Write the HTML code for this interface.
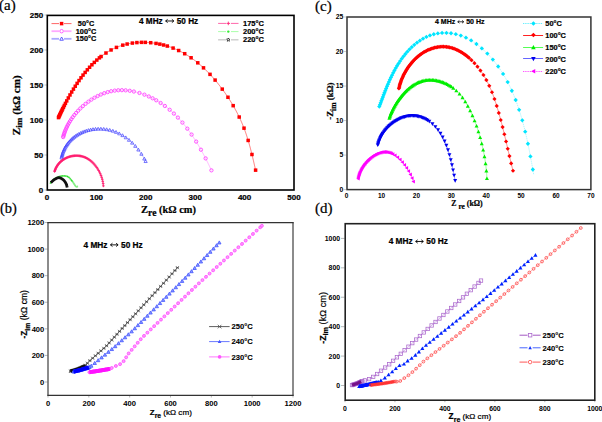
<!DOCTYPE html><html><head><meta charset="utf-8"><style>html,body{margin:0;padding:0;background:#fff;overflow:hidden}svg{display:block}text{stroke:#000;stroke-width:0.22px}text.ns{stroke:none}text.th{stroke-width:0.1px}</style></head><body><svg width="602" height="422" viewBox="0 0 602 422">
<rect width="602" height="422" fill="#fff"/>
<text x="-1.00" y="10.00" style="font-family:&quot;Liberation Serif&quot;,serif;font-size:15px;font-weight:normal" text-anchor="start" fill="#000" >(a)</text>
<text x="47.00" y="199.90" style="font-family:&quot;Liberation Sans&quot;,sans-serif;font-size:8.0px;font-weight:bold" text-anchor="middle" fill="#000" >0</text>
<text x="96.40" y="199.90" style="font-family:&quot;Liberation Sans&quot;,sans-serif;font-size:8.0px;font-weight:bold" text-anchor="middle" fill="#000" >100</text>
<text x="145.80" y="199.90" style="font-family:&quot;Liberation Sans&quot;,sans-serif;font-size:8.0px;font-weight:bold" text-anchor="middle" fill="#000" >200</text>
<text x="195.20" y="199.90" style="font-family:&quot;Liberation Sans&quot;,sans-serif;font-size:8.0px;font-weight:bold" text-anchor="middle" fill="#000" >300</text>
<text x="244.60" y="199.90" style="font-family:&quot;Liberation Sans&quot;,sans-serif;font-size:8.0px;font-weight:bold" text-anchor="middle" fill="#000" >400</text>
<text x="294.00" y="199.90" style="font-family:&quot;Liberation Sans&quot;,sans-serif;font-size:8.0px;font-weight:bold" text-anchor="middle" fill="#000" >500</text>
<text x="43.20" y="192.80" style="font-family:&quot;Liberation Sans&quot;,sans-serif;font-size:8.0px;font-weight:bold" text-anchor="end" fill="#000" >0</text>
<line x1="44.5" x2="47" y1="190.00" y2="190.00" stroke="#999" stroke-width="0.6"/>
<text x="43.20" y="157.80" style="font-family:&quot;Liberation Sans&quot;,sans-serif;font-size:8.0px;font-weight:bold" text-anchor="end" fill="#000" >50</text>
<line x1="44.5" x2="47" y1="155.00" y2="155.00" stroke="#999" stroke-width="0.6"/>
<text x="43.20" y="122.80" style="font-family:&quot;Liberation Sans&quot;,sans-serif;font-size:8.0px;font-weight:bold" text-anchor="end" fill="#000" >100</text>
<line x1="44.5" x2="47" y1="120.00" y2="120.00" stroke="#999" stroke-width="0.6"/>
<text x="43.20" y="87.80" style="font-family:&quot;Liberation Sans&quot;,sans-serif;font-size:8.0px;font-weight:bold" text-anchor="end" fill="#000" >150</text>
<line x1="44.5" x2="47" y1="85.00" y2="85.00" stroke="#999" stroke-width="0.6"/>
<text x="43.20" y="52.80" style="font-family:&quot;Liberation Sans&quot;,sans-serif;font-size:8.0px;font-weight:bold" text-anchor="end" fill="#000" >200</text>
<line x1="44.5" x2="47" y1="50.00" y2="50.00" stroke="#999" stroke-width="0.6"/>
<text x="43.20" y="17.80" style="font-family:&quot;Liberation Sans&quot;,sans-serif;font-size:8.0px;font-weight:bold" text-anchor="end" fill="#000" >250</text>
<line x1="44.5" x2="47" y1="15.00" y2="15.00" stroke="#999" stroke-width="0.6"/>
<text x="141.0" y="213.2" style="font-family:&quot;Liberation Serif&quot;,serif;font-size:10.6px;font-weight:bold">Z<tspan dy="2.4" style="font-size:9.6px">re</tspan><tspan dy="-2.4" style="font-size:10.4px"> (kΩ cm)</tspan></text>
<text transform="translate(19.6,135.2) rotate(-90)" style="font-family:&quot;Liberation Serif&quot;,serif;font-size:11.1px;font-weight:bold">Z<tspan dy="2.6" style="font-size:9.2px">im</tspan><tspan dy="-2.6"> (kΩ cm)</tspan></text>
<text x="139.00" y="23.70" style="font-family:&quot;Liberation Sans&quot;,sans-serif;font-size:8.2px;font-weight:bold">4 MHz</text>
<path d="M165.64,20.99H173.84M167.61,19.35L165.64,20.99L167.61,22.63M171.87,19.35L173.84,20.99L171.87,22.63" fill="none" stroke="#000" stroke-width="0.9019999999999999"/>
<text x="176.79" y="23.70" style="font-family:&quot;Liberation Sans&quot;,sans-serif;font-size:8.2px;font-weight:bold">50 Hz</text>
<polyline points="58.50,117.59 58.80,116.95 59.09,116.31 59.39,115.67 59.69,115.03 59.99,114.38 60.30,113.73 60.61,113.08 60.92,112.43 61.23,111.77 61.55,111.12 61.87,110.46 62.19,109.80 62.52,109.14 62.84,108.47 63.17,107.81 63.51,107.14 63.84,106.47 64.18,105.80 64.52,105.13 64.86,104.46 65.21,103.79 65.56,103.12 65.91,102.44 66.26,101.77 66.62,101.09 66.98,100.42 67.35,99.74 67.71,99.06 68.08,98.39 68.45,97.71 68.83,97.04 69.20,96.36 69.58,95.68 69.97,95.01 70.35,94.33 70.74,93.66 71.13,92.98 71.53,92.31 71.93,91.63 72.33,90.96 72.73,90.29 73.14,89.62 73.55,88.95 73.96,88.28 74.38,87.62 74.79,86.95 75.22,86.29 75.64,85.62 76.07,84.96 76.50,84.30 76.94,83.65 77.37,82.99 77.81,82.34 78.26,81.69 78.70,81.04 79.15,80.39 79.61,79.75 80.06,79.11 80.52,78.47 80.99,77.83 81.45,77.20 81.92,76.56 82.40,75.94 82.87,75.31 83.35,74.69 83.83,74.07 84.32,73.46 84.81,72.84 85.30,72.24 85.80,71.63 86.29,71.03 86.80,70.43 87.30,69.84 87.81,69.25 88.32,68.66 88.84,68.08 89.36,67.50 89.88,66.93 90.41,66.36 90.94,65.80 91.47,65.24 92.01,64.69 92.55,64.14 93.09,63.59 93.64,63.05 94.19,62.52 94.74,61.99 95.30,61.46 95.86,60.94 96.43,60.43 97.00,59.92 97.57,59.42 98.14,58.92 98.72,58.43 99.30,57.94 99.89,57.46 100.48,56.99 101.08,56.52 101.67,56.06 102.27,55.61 102.88,55.16 103.49,54.72 104.10,54.28 104.72,53.86 105.34,53.43 105.96,53.02 106.59,52.61 107.22,52.21 107.85,51.82 108.49,51.43 109.13,51.05 109.78,50.68 110.43,50.32 111.08,49.96 111.74,49.62 112.40,49.28 113.07,48.94 113.74,48.62 114.41,48.30 115.09,47.99 115.77,47.69 116.45,47.40 117.14,47.12 117.84,46.84 118.53,46.58 119.23,46.32 119.94,46.07 120.65,45.83 121.36,45.60 122.07,45.37 122.79,45.16 123.51,44.95 124.23,44.75 124.96,44.56 125.69,44.37 126.42,44.20 127.15,44.03 127.89,43.87 128.63,43.72 129.37,43.58 130.12,43.44 130.86,43.31 131.61,43.19 132.36,43.08 133.11,42.98 133.87,42.88 134.62,42.80 135.38,42.72 136.14,42.64 136.90,42.58 137.66,42.52 138.42,42.47 139.18,42.43 139.95,42.40 140.71,42.37 141.48,42.35 142.24,42.34 143.01,42.34 143.78,42.34 144.55,42.36 145.32,42.37 146.08,42.40 146.85,42.43 147.62,42.48 148.39,42.52 149.16,42.58 149.93,42.64 150.70,42.71 151.46,42.79 152.23,42.88 153.00,42.97 153.76,43.07 154.53,43.18 155.29,43.29 156.05,43.41 156.82,43.54 157.58,43.67 158.34,43.81 159.09,43.96 159.85,44.12 160.60,44.28 161.36,44.45 162.11,44.63 162.86,44.81 163.60,45.00 164.35,45.20 165.09,45.40 165.83,45.61 166.57,45.83 167.31,46.05 168.04,46.28 168.77,46.52 169.50,46.76 170.22,47.01 170.95,47.27 171.67,47.53 172.38,47.80 173.09,48.08 173.80,48.36 174.51,48.65 175.21,48.95 175.91,49.25 176.61,49.56 177.30,49.87 177.99,50.19 178.67,50.52 179.36,50.85 180.04,51.19 180.71,51.53 181.39,51.88 182.06,52.24 182.72,52.60 183.39,52.96 184.05,53.34 184.70,53.72 185.36,54.10 186.01,54.49 186.65,54.88 187.30,55.28 187.94,55.69 188.58,56.10 189.21,56.51 189.84,56.93 190.47,57.36 191.09,57.78 191.72,58.22 192.34,58.66 192.95,59.10 193.56,59.55 194.17,60.01 194.78,60.46 195.38,60.93 195.98,61.39 196.58,61.87 197.17,62.34 197.77,62.82 198.35,63.31 198.94,63.79 199.52,64.29 200.10,64.78 200.68,65.28 201.25,65.79 201.82,66.30 202.39,66.81 202.95,67.33 203.51,67.85 204.07,68.37 204.62,68.90 205.18,69.43 205.73,69.96 206.27,70.50 206.82,71.04 207.36,71.58 207.89,72.13 208.43,72.68 208.96,73.23 209.49,73.79 210.02,74.35 210.54,74.91 211.06,75.48 211.58,76.04 212.09,76.61 212.60,77.19 213.11,77.76 213.62,78.34 214.12,78.92 214.62,79.51 215.12,80.09 215.62,80.68 216.11,81.27 216.60,81.87 217.09,82.46 217.57,83.06 218.05,83.66 218.53,84.26 219.01,84.86 219.48,85.47 219.95,86.07 220.42,86.68 220.88,87.29 221.35,87.91 221.81,88.52 222.26,89.13 222.72,89.75 223.17,90.37 223.62,90.99 224.07,91.61 224.51,92.23 224.95,92.86 225.39,93.48 225.83,94.11 226.26,94.74 226.69,95.37 227.12,96.00 227.54,96.63 227.96,97.27 228.38,97.90 228.80,98.54 229.21,99.18 229.62,99.82 230.03,100.46 230.43,101.11 230.83,101.75 231.23,102.40 231.63,103.05 232.02,103.70 232.41,104.35 232.79,105.00 233.18,105.66 233.56,106.31 233.94,106.97 234.31,107.63 234.68,108.29 235.05,108.95 235.41,109.62 235.77,110.28 236.13,110.95 236.49,111.62 236.84,112.29 237.19,112.96 237.53,113.64 237.87,114.31 238.21,114.99 238.55,115.67 238.88,116.35 239.21,117.03 239.54,117.71 239.86,118.40 240.18,119.09 240.49,119.77 240.80,120.46 241.11,121.16 241.42,121.85 241.72,122.54 242.02,123.24 242.31,123.94 242.61,124.64 242.89,125.34 243.18,126.04 243.46,126.75 243.74,127.46 244.01,128.16 244.28,128.88 244.55,129.59 244.81,130.30 245.07,131.01 245.33,131.73 245.58,132.45 245.83,133.17 246.08,133.89 246.32,134.61 246.56,135.34 246.80,136.06 247.03,136.79 247.26,137.51 247.49,138.24 247.72,138.97 247.94,139.70 248.16,140.43 248.38,141.17 248.60,141.90 248.81,142.64 249.02,143.37 249.23,144.11 249.44,144.85 249.64,145.58 249.85,146.32 250.05,147.06 250.25,147.80 250.44,148.54 250.64,149.29 250.83,150.03 251.02,150.77 251.21,151.51 251.40,152.26 251.59,153.00 251.77,153.75 251.95,154.49 252.14,155.24 252.32,155.98 252.50,156.73 252.68,157.48 252.85,158.22 253.03,158.97 253.21,159.71 253.38,160.46 253.55,161.21 253.73,161.95 253.90,162.70 254.07,163.45 254.24,164.19 254.41,164.94 254.58,165.68 254.75,166.43 254.92,167.17 255.09,167.92 255.26,168.66 255.43,169.41 255.60,170.15" fill="none" stroke="#ff2222" stroke-width="0.6" stroke-linejoin="round" opacity="1"/>
<rect x="56.75" y="115.84" width="3.50" height="3.50" fill="#ff0000"/>
<rect x="57.17" y="114.93" width="3.50" height="3.50" fill="#ff0000"/>
<rect x="57.62" y="113.98" width="3.50" height="3.50" fill="#ff0000"/>
<rect x="58.09" y="112.97" width="3.50" height="3.50" fill="#ff0000"/>
<rect x="58.58" y="111.91" width="3.50" height="3.50" fill="#ff0000"/>
<rect x="59.11" y="110.80" width="3.50" height="3.50" fill="#ff0000"/>
<rect x="59.67" y="109.63" width="3.50" height="3.50" fill="#ff0000"/>
<rect x="60.27" y="108.41" width="3.50" height="3.50" fill="#ff0000"/>
<rect x="60.93" y="107.05" width="3.50" height="3.50" fill="#ff0000"/>
<rect x="61.70" y="105.50" width="3.50" height="3.50" fill="#ff0000"/>
<rect x="62.60" y="103.71" width="3.50" height="3.50" fill="#ff0000"/>
<rect x="63.67" y="101.63" width="3.50" height="3.50" fill="#ff0000"/>
<rect x="64.98" y="99.14" width="3.50" height="3.50" fill="#ff0000"/>
<rect x="66.58" y="96.18" width="3.50" height="3.50" fill="#ff0000"/>
<rect x="68.24" y="93.21" width="3.50" height="3.50" fill="#ff0000"/>
<rect x="69.95" y="90.27" width="3.50" height="3.50" fill="#ff0000"/>
<rect x="71.70" y="87.36" width="3.50" height="3.50" fill="#ff0000"/>
<rect x="73.50" y="84.48" width="3.50" height="3.50" fill="#ff0000"/>
<rect x="75.36" y="81.63" width="3.50" height="3.50" fill="#ff0000"/>
<rect x="77.28" y="78.82" width="3.50" height="3.50" fill="#ff0000"/>
<rect x="79.25" y="76.06" width="3.50" height="3.50" fill="#ff0000"/>
<rect x="81.29" y="73.34" width="3.50" height="3.50" fill="#ff0000"/>
<rect x="83.40" y="70.67" width="3.50" height="3.50" fill="#ff0000"/>
<rect x="85.58" y="68.06" width="3.50" height="3.50" fill="#ff0000"/>
<rect x="87.83" y="65.51" width="3.50" height="3.50" fill="#ff0000"/>
<rect x="90.16" y="63.03" width="3.50" height="3.50" fill="#ff0000"/>
<rect x="92.57" y="60.64" width="3.50" height="3.50" fill="#ff0000"/>
<rect x="95.07" y="58.33" width="3.50" height="3.50" fill="#ff0000"/>
<rect x="97.65" y="56.12" width="3.50" height="3.50" fill="#ff0000"/>
<rect x="99.33" y="54.77" width="3.50" height="3.50" fill="#ff0000"/>
<rect x="104.21" y="51.27" width="3.50" height="3.50" fill="#ff0000"/>
<rect x="109.33" y="48.21" width="3.50" height="3.50" fill="#ff0000"/>
<rect x="114.70" y="45.65" width="3.50" height="3.50" fill="#ff0000"/>
<rect x="121.04" y="43.41" width="3.50" height="3.50" fill="#ff0000"/>
<rect x="125.40" y="42.28" width="3.50" height="3.50" fill="#ff0000"/>
<rect x="130.61" y="41.33" width="3.50" height="3.50" fill="#ff0000"/>
<rect x="135.15" y="40.83" width="3.50" height="3.50" fill="#ff0000"/>
<rect x="139.73" y="40.60" width="3.50" height="3.50" fill="#ff0000"/>
<rect x="143.57" y="40.62" width="3.50" height="3.50" fill="#ff0000"/>
<rect x="148.95" y="40.96" width="3.50" height="3.50" fill="#ff0000"/>
<rect x="154.30" y="41.66" width="3.50" height="3.50" fill="#ff0000"/>
<rect x="158.10" y="42.37" width="3.50" height="3.50" fill="#ff0000"/>
<rect x="161.85" y="43.25" width="3.50" height="3.50" fill="#ff0000"/>
<rect x="165.56" y="44.30" width="3.50" height="3.50" fill="#ff0000"/>
<rect x="171.34" y="46.33" width="3.50" height="3.50" fill="#ff0000"/>
<rect x="176.92" y="48.77" width="3.50" height="3.50" fill="#ff0000"/>
<rect x="182.95" y="51.97" width="3.50" height="3.50" fill="#ff0000"/>
<rect x="189.34" y="56.03" width="3.50" height="3.50" fill="#ff0000"/>
<rect x="196.02" y="61.07" width="3.50" height="3.50" fill="#ff0000"/>
<rect x="201.76" y="66.10" width="3.50" height="3.50" fill="#ff0000"/>
<rect x="208.27" y="72.60" width="3.50" height="3.50" fill="#ff0000"/>
<rect x="213.37" y="78.34" width="3.50" height="3.50" fill="#ff0000"/>
<rect x="220.51" y="87.38" width="3.50" height="3.50" fill="#ff0000"/>
<rect x="226.21" y="95.52" width="3.50" height="3.50" fill="#ff0000"/>
<rect x="231.43" y="103.91" width="3.50" height="3.50" fill="#ff0000"/>
<rect x="237.46" y="115.28" width="3.50" height="3.50" fill="#ff0000"/>
<rect x="242.26" y="126.41" width="3.50" height="3.50" fill="#ff0000"/>
<rect x="246.41" y="138.68" width="3.50" height="3.50" fill="#ff0000"/>
<rect x="250.20" y="152.74" width="3.50" height="3.50" fill="#ff0000"/>
<rect x="253.85" y="168.40" width="3.50" height="3.50" fill="#ff0000"/>
<polyline points="63.18,137.07 63.30,136.57 63.44,136.08 63.57,135.58 63.72,135.09 63.86,134.60 64.02,134.11 64.17,133.62 64.34,133.13 64.50,132.65 64.68,132.16 64.85,131.68 65.03,131.20 65.22,130.72 65.41,130.24 65.60,129.76 65.80,129.29 66.01,128.82 66.22,128.34 66.43,127.87 66.65,127.40 66.87,126.94 67.09,126.47 67.32,126.01 67.56,125.55 67.80,125.09 68.04,124.63 68.29,124.17 68.54,123.72 68.79,123.27 69.05,122.81 69.31,122.37 69.58,121.92 69.85,121.47 70.13,121.03 70.40,120.59 70.69,120.15 70.97,119.71 71.26,119.28 71.56,118.85 71.85,118.42 72.15,117.99 72.46,117.56 72.77,117.14 73.08,116.72 73.39,116.30 73.71,115.88 74.03,115.46 74.36,115.05 74.69,114.64 75.02,114.23 75.35,113.83 75.69,113.43 76.03,113.02 76.38,112.63 76.73,112.23 77.08,111.84 77.43,111.45 77.79,111.06 78.15,110.67 78.51,110.29 78.88,109.91 79.25,109.53 79.62,109.16 79.99,108.79 80.37,108.42 80.75,108.05 81.13,107.69 81.52,107.33 81.90,106.97 82.29,106.61 82.69,106.26 83.08,105.91 83.48,105.56 83.88,105.22 84.28,104.88 84.69,104.54 85.10,104.21 85.50,103.87 85.92,103.55 86.33,103.22 86.75,102.90 87.17,102.58 87.59,102.26 88.01,101.95 88.43,101.64 88.86,101.33 89.29,101.03 89.72,100.73 90.15,100.43 90.59,100.14 91.03,99.85 91.46,99.56 91.91,99.28 92.35,99.00 92.79,98.73 93.24,98.46 93.69,98.19 94.14,97.92 94.59,97.66 95.04,97.41 95.50,97.15 95.96,96.91 96.41,96.66 96.87,96.42 97.34,96.18 97.80,95.95 98.27,95.72 98.73,95.50 99.20,95.28 99.67,95.06 100.14,94.85 100.62,94.64 101.09,94.43 101.57,94.23 102.04,94.04 102.52,93.85 103.00,93.66 103.48,93.48 103.97,93.30 104.45,93.13 104.94,92.96 105.42,92.80 105.91,92.64 106.40,92.48 106.89,92.33 107.38,92.19 107.87,92.05 108.37,91.91 108.86,91.78 109.36,91.66 109.85,91.53 110.35,91.42 110.85,91.31 111.35,91.20 111.85,91.10 112.35,91.00 112.86,90.91 113.36,90.83 113.87,90.75 114.37,90.67 114.88,90.60 115.38,90.54 115.89,90.48 116.40,90.43 116.91,90.38 117.42,90.33 117.93,90.30 118.44,90.26 118.95,90.24 119.47,90.21 119.98,90.20 120.49,90.18 121.01,90.18 121.52,90.18 122.04,90.18 122.55,90.19 123.07,90.20 123.58,90.22 124.10,90.24 124.61,90.27 125.13,90.30 125.64,90.33 126.16,90.38 126.68,90.42 127.19,90.47 127.71,90.53 128.22,90.59 128.74,90.65 129.25,90.72 129.77,90.79 130.28,90.87 130.80,90.95 131.31,91.04 131.83,91.13 132.34,91.22 132.85,91.32 133.37,91.42 133.88,91.53 134.39,91.64 134.90,91.76 135.41,91.88 135.92,92.00 136.43,92.13 136.94,92.26 137.45,92.39 137.95,92.53 138.46,92.67 138.96,92.82 139.47,92.97 139.97,93.12 140.47,93.28 140.97,93.44 141.47,93.60 141.97,93.77 142.47,93.94 142.97,94.12 143.46,94.30 143.96,94.48 144.45,94.66 144.94,94.85 145.43,95.04 145.92,95.24 146.40,95.43 146.89,95.64 147.37,95.84 147.86,96.05 148.34,96.26 148.82,96.47 149.29,96.69 149.77,96.91 150.24,97.13 150.72,97.35 151.19,97.58 151.65,97.81 152.12,98.05 152.59,98.28 153.05,98.52 153.51,98.76 153.97,99.01 154.43,99.25 154.88,99.50 155.33,99.76 155.79,100.01 156.23,100.27 156.68,100.53 157.13,100.79 157.57,101.06 158.01,101.32 158.45,101.59 158.89,101.87 159.33,102.14 159.76,102.42 160.20,102.70 160.63,102.98 161.06,103.27 161.49,103.55 161.91,103.84 162.34,104.14 162.76,104.43 163.18,104.73 163.60,105.03 164.01,105.33 164.43,105.63 164.84,105.94 165.25,106.25 165.66,106.56 166.07,106.87 166.48,107.18 166.88,107.50 167.29,107.82 167.69,108.14 168.09,108.47 168.49,108.79 168.88,109.12 169.28,109.45 169.67,109.78 170.06,110.11 170.45,110.45 170.84,110.79 171.22,111.13 171.61,111.47 171.99,111.82 172.37,112.16 172.75,112.51 173.13,112.86 173.51,113.21 173.88,113.56 174.26,113.92 174.63,114.28 175.00,114.64 175.37,115.00 175.73,115.36 176.10,115.73 176.46,116.09 176.82,116.46 177.18,116.83 177.54,117.20 177.90,117.58 178.26,117.95 178.61,118.33 178.96,118.71 179.31,119.09 179.66,119.47 180.01,119.85 180.36,120.24 180.70,120.62 181.05,121.01 181.39,121.40 181.73,121.79 182.07,122.18 182.41,122.58 182.74,122.97 183.08,123.37 183.41,123.77 183.74,124.17 184.07,124.57 184.40,124.97 184.73,125.38 185.06,125.78 185.38,126.19 185.70,126.60 186.03,127.01 186.35,127.42 186.66,127.83 186.98,128.24 187.30,128.66 187.61,129.07 187.93,129.49 188.24,129.91 188.55,130.33 188.86,130.75 189.17,131.17 189.47,131.59 189.78,132.02 190.08,132.44 190.38,132.87 190.69,133.29 190.99,133.72 191.28,134.15 191.58,134.58 191.88,135.01 192.17,135.44 192.47,135.88 192.76,136.31 193.05,136.75 193.34,137.18 193.63,137.62 193.91,138.06 194.20,138.50 194.48,138.93 194.77,139.37 195.05,139.82 195.33,140.26 195.61,140.70 195.89,141.14 196.17,141.59 196.44,142.03 196.72,142.48 196.99,142.92 197.26,143.37 197.53,143.82 197.80,144.27 198.07,144.72 198.34,145.17 198.61,145.62 198.87,146.07 199.14,146.52 199.40,146.97 199.66,147.42 199.92,147.87 200.18,148.33 200.44,148.78 200.70,149.24 200.95,149.69 201.21,150.15 201.46,150.60 201.71,151.06 201.97,151.51 202.22,151.97 202.47,152.43 202.71,152.89 202.96,153.34 203.21,153.80 203.45,154.26 203.70,154.72 203.94,155.18 204.18,155.64 204.42,156.09 204.66,156.55 204.90,157.01 205.14,157.47 205.38,157.93 205.62,158.39 205.85,158.85 206.08,159.31 206.32,159.78 206.55,160.24 206.78,160.70 207.01,161.16 207.24,161.62 207.47,162.08 207.70,162.54 207.92,163.00 208.15,163.46 208.37,163.92 208.60,164.38 208.82,164.84 209.04,165.30 209.26,165.76 209.48,166.22 209.70,166.68 209.92,167.14 210.14,167.60 210.35,168.06 210.57,168.52 210.78,168.98 211.00,169.43 211.21,169.89 211.42,170.35" fill="none" stroke="#ff88ff" stroke-width="0.6" stroke-linejoin="round" opacity="1"/>
<circle cx="63.18" cy="137.07" r="1.65" fill="none" stroke="#ff44ff" stroke-width="0.9"/>
<circle cx="63.51" cy="135.81" r="1.65" fill="none" stroke="#ff44ff" stroke-width="0.9"/>
<circle cx="63.90" cy="134.49" r="1.65" fill="none" stroke="#ff44ff" stroke-width="0.9"/>
<circle cx="64.35" cy="133.09" r="1.65" fill="none" stroke="#ff44ff" stroke-width="0.9"/>
<circle cx="64.87" cy="131.63" r="1.65" fill="none" stroke="#ff44ff" stroke-width="0.9"/>
<circle cx="65.47" cy="130.09" r="1.65" fill="none" stroke="#ff44ff" stroke-width="0.9"/>
<circle cx="66.16" cy="128.47" r="1.65" fill="none" stroke="#ff44ff" stroke-width="0.9"/>
<circle cx="66.94" cy="126.78" r="1.65" fill="none" stroke="#ff44ff" stroke-width="0.9"/>
<circle cx="67.83" cy="125.02" r="1.65" fill="none" stroke="#ff44ff" stroke-width="0.9"/>
<circle cx="68.84" cy="123.17" r="1.65" fill="none" stroke="#ff44ff" stroke-width="0.9"/>
<circle cx="69.99" cy="121.26" r="1.65" fill="none" stroke="#ff44ff" stroke-width="0.9"/>
<circle cx="71.27" cy="119.27" r="1.65" fill="none" stroke="#ff44ff" stroke-width="0.9"/>
<circle cx="72.71" cy="117.21" r="1.65" fill="none" stroke="#ff44ff" stroke-width="0.9"/>
<circle cx="74.33" cy="115.09" r="1.65" fill="none" stroke="#ff44ff" stroke-width="0.9"/>
<circle cx="76.13" cy="112.91" r="1.65" fill="none" stroke="#ff44ff" stroke-width="0.9"/>
<circle cx="78.14" cy="110.69" r="1.65" fill="none" stroke="#ff44ff" stroke-width="0.9"/>
<circle cx="80.36" cy="108.42" r="1.65" fill="none" stroke="#ff44ff" stroke-width="0.9"/>
<circle cx="82.82" cy="106.14" r="1.65" fill="none" stroke="#ff44ff" stroke-width="0.9"/>
<circle cx="85.54" cy="103.84" r="1.65" fill="none" stroke="#ff44ff" stroke-width="0.9"/>
<circle cx="88.41" cy="101.66" r="1.65" fill="none" stroke="#ff44ff" stroke-width="0.9"/>
<circle cx="91.37" cy="99.62" r="1.65" fill="none" stroke="#ff44ff" stroke-width="0.9"/>
<circle cx="94.45" cy="97.75" r="1.65" fill="none" stroke="#ff44ff" stroke-width="0.9"/>
<circle cx="97.62" cy="96.04" r="1.65" fill="none" stroke="#ff44ff" stroke-width="0.9"/>
<circle cx="100.88" cy="94.52" r="1.65" fill="none" stroke="#ff44ff" stroke-width="0.9"/>
<circle cx="104.23" cy="93.21" r="1.65" fill="none" stroke="#ff44ff" stroke-width="0.9"/>
<circle cx="107.66" cy="92.11" r="1.65" fill="none" stroke="#ff44ff" stroke-width="0.9"/>
<circle cx="111.15" cy="91.24" r="1.65" fill="none" stroke="#ff44ff" stroke-width="0.9"/>
<circle cx="114.70" cy="90.63" r="1.65" fill="none" stroke="#ff44ff" stroke-width="0.9"/>
<circle cx="118.28" cy="90.27" r="1.65" fill="none" stroke="#ff44ff" stroke-width="0.9"/>
<circle cx="121.88" cy="90.18" r="1.65" fill="none" stroke="#ff44ff" stroke-width="0.9"/>
<circle cx="125.64" cy="90.33" r="1.65" fill="none" stroke="#ff44ff" stroke-width="0.9"/>
<circle cx="129.77" cy="90.79" r="1.65" fill="none" stroke="#ff44ff" stroke-width="0.9"/>
<circle cx="133.88" cy="91.53" r="1.65" fill="none" stroke="#ff44ff" stroke-width="0.9"/>
<circle cx="139.47" cy="92.97" r="1.65" fill="none" stroke="#ff44ff" stroke-width="0.9"/>
<circle cx="144.45" cy="94.66" r="1.65" fill="none" stroke="#ff44ff" stroke-width="0.9"/>
<circle cx="148.82" cy="96.47" r="1.65" fill="none" stroke="#ff44ff" stroke-width="0.9"/>
<circle cx="152.59" cy="98.28" r="1.65" fill="none" stroke="#ff44ff" stroke-width="0.9"/>
<circle cx="156.23" cy="100.27" r="1.65" fill="none" stroke="#ff44ff" stroke-width="0.9"/>
<circle cx="160.63" cy="102.98" r="1.65" fill="none" stroke="#ff44ff" stroke-width="0.9"/>
<circle cx="164.84" cy="105.94" r="1.65" fill="none" stroke="#ff44ff" stroke-width="0.9"/>
<circle cx="169.67" cy="109.78" r="1.65" fill="none" stroke="#ff44ff" stroke-width="0.9"/>
<circle cx="173.88" cy="113.56" r="1.65" fill="none" stroke="#ff44ff" stroke-width="0.9"/>
<circle cx="177.90" cy="117.58" r="1.65" fill="none" stroke="#ff44ff" stroke-width="0.9"/>
<circle cx="182.41" cy="122.58" r="1.65" fill="none" stroke="#ff44ff" stroke-width="0.9"/>
<circle cx="187.30" cy="128.66" r="1.65" fill="none" stroke="#ff44ff" stroke-width="0.9"/>
<circle cx="191.58" cy="134.58" r="1.65" fill="none" stroke="#ff44ff" stroke-width="0.9"/>
<circle cx="196.17" cy="141.59" r="1.65" fill="none" stroke="#ff44ff" stroke-width="0.9"/>
<circle cx="200.95" cy="149.69" r="1.65" fill="none" stroke="#ff44ff" stroke-width="0.9"/>
<circle cx="205.62" cy="158.39" r="1.65" fill="none" stroke="#ff44ff" stroke-width="0.9"/>
<circle cx="211.42" cy="170.35" r="1.65" fill="none" stroke="#ff44ff" stroke-width="0.9"/>
<polyline points="61.52,157.72 61.58,157.42 61.65,157.11 61.72,156.80 61.79,156.50 61.86,156.20 61.94,155.90 62.02,155.60 62.10,155.30 62.18,155.01 62.26,154.72 62.35,154.42 62.44,154.13 62.53,153.84 62.62,153.56 62.72,153.27 62.81,152.99 62.91,152.71 63.01,152.42 63.12,152.15 63.22,151.87 63.33,151.59 63.44,151.32 63.55,151.05 63.66,150.78 63.78,150.51 63.90,150.24 64.01,149.97 64.14,149.71 64.26,149.45 64.38,149.19 64.51,148.93 64.64,148.67 64.77,148.41 64.90,148.16 65.04,147.90 65.17,147.65 65.31,147.40 65.45,147.16 65.59,146.91 65.74,146.67 65.88,146.42 66.03,146.18 66.18,145.94 66.33,145.70 66.48,145.47 66.63,145.23 66.79,145.00 66.95,144.77 67.11,144.54 67.27,144.31 67.43,144.08 67.59,143.86 67.76,143.63 67.93,143.41 68.10,143.19 68.27,142.97 68.44,142.76 68.61,142.54 68.79,142.33 68.97,142.12 69.14,141.91 69.32,141.70 69.51,141.49 69.69,141.29 69.87,141.08 70.06,140.88 70.25,140.68 70.44,140.48 70.63,140.29 70.82,140.09 71.01,139.90 71.21,139.71 71.40,139.52 71.60,139.33 71.80,139.14 72.00,138.96 72.20,138.77 72.40,138.59 72.61,138.41 72.81,138.23 73.02,138.05 73.23,137.88 73.44,137.71 73.65,137.53 73.86,137.36 74.07,137.19 74.29,137.03 74.50,136.86 74.72,136.70 74.94,136.54 75.16,136.38 75.38,136.22 75.60,136.06 75.82,135.91 76.04,135.75 76.27,135.60 76.49,135.45 76.72,135.30 76.95,135.15 77.18,135.01 77.41,134.86 77.64,134.72 77.87,134.58 78.11,134.44 78.34,134.31 78.58,134.17 78.81,134.04 79.05,133.91 79.29,133.78 79.53,133.65 79.77,133.52 80.01,133.40 80.25,133.27 80.49,133.15 80.74,133.03 80.98,132.91 81.23,132.79 81.47,132.68 81.72,132.57 81.97,132.45 82.22,132.34 82.47,132.24 82.72,132.13 82.97,132.02 83.22,131.92 83.48,131.82 83.73,131.72 83.98,131.62 84.24,131.52 84.50,131.43 84.75,131.33 85.01,131.24 85.27,131.15 85.53,131.06 85.78,130.98 86.04,130.89 86.30,130.81 86.57,130.73 86.83,130.65 87.09,130.57 87.35,130.49 87.62,130.42 87.88,130.35 88.14,130.27 88.41,130.21 88.67,130.14 88.94,130.07 89.21,130.01 89.47,129.94 89.74,129.88 90.01,129.82 90.28,129.76 90.55,129.71 90.82,129.65 91.09,129.60 91.36,129.55 91.63,129.50 91.90,129.45 92.17,129.41 92.44,129.36 92.71,129.32 92.98,129.28 93.26,129.24 93.53,129.20 93.80,129.17 94.08,129.13 94.35,129.10 94.62,129.07 94.90,129.04 95.17,129.01 95.45,128.99 95.72,128.96 96.00,128.94 96.27,128.92 96.55,128.90 96.82,128.89 97.10,128.87 97.37,128.86 97.65,128.85 97.92,128.84 98.20,128.83 98.48,128.82 98.75,128.81 99.03,128.81 99.31,128.81 99.58,128.81 99.86,128.81 100.13,128.81 100.41,128.82 100.69,128.83 100.96,128.84 101.24,128.85 101.52,128.86 101.79,128.87 102.07,128.89 102.34,128.90 102.62,128.92 102.90,128.94 103.17,128.97 103.45,128.99 103.72,129.02 104.00,129.04 104.27,129.07 104.55,129.10 104.82,129.14 105.10,129.17 105.37,129.21 105.65,129.24 105.92,129.28 106.19,129.33 106.47,129.37 106.74,129.41 107.01,129.46 107.28,129.51 107.56,129.56 107.83,129.61 108.10,129.66 108.37,129.72 108.64,129.77 108.91,129.83 109.18,129.89 109.45,129.95 109.72,130.02 109.99,130.08 110.26,130.15 110.52,130.22 110.79,130.29 111.06,130.36 111.32,130.44 111.59,130.51 111.86,130.59 112.12,130.67 112.39,130.75 112.65,130.83 112.91,130.92 113.18,131.00 113.44,131.09 113.70,131.18 113.96,131.27 114.22,131.37 114.48,131.46 114.74,131.56 115.00,131.65 115.26,131.75 115.51,131.86 115.77,131.96 116.03,132.06 116.28,132.17 116.54,132.28 116.79,132.39 117.04,132.50 117.30,132.61 117.55,132.73 117.80,132.84 118.05,132.96 118.30,133.08 118.55,133.20 118.80,133.32 119.05,133.44 119.30,133.57 119.55,133.70 119.79,133.82 120.04,133.95 120.28,134.08 120.53,134.22 120.77,134.35 121.01,134.49 121.26,134.62 121.50,134.76 121.74,134.90 121.98,135.04 122.22,135.18 122.46,135.33 122.70,135.47 122.93,135.62 123.17,135.77 123.41,135.92 123.64,136.07 123.88,136.22 124.11,136.37 124.34,136.53 124.58,136.68 124.81,136.84 125.04,137.00 125.27,137.16 125.50,137.32 125.73,137.48 125.95,137.64 126.18,137.81 126.41,137.97 126.63,138.14 126.86,138.31 127.08,138.48 127.30,138.65 127.53,138.82 127.75,138.99 127.97,139.17 128.19,139.34 128.41,139.52 128.63,139.70 128.84,139.87 129.06,140.05 129.28,140.23 129.49,140.42 129.71,140.60 129.92,140.78 130.13,140.97 130.34,141.15 130.56,141.34 130.77,141.53 130.97,141.72 131.18,141.91 131.39,142.10 131.60,142.29 131.80,142.49 132.01,142.68 132.21,142.88 132.41,143.07 132.62,143.27 132.82,143.47 133.02,143.67 133.22,143.87 133.42,144.07 133.62,144.27 133.81,144.47 134.01,144.67 134.20,144.88 134.40,145.08 134.59,145.29 134.78,145.50 134.97,145.70 135.17,145.91 135.35,146.12 135.54,146.33 135.73,146.54 135.92,146.75 136.10,146.97 136.29,147.18 136.47,147.39 136.66,147.61 136.84,147.82 137.02,148.04 137.20,148.26 137.38,148.47 137.56,148.69 137.73,148.91 137.91,149.13 138.08,149.35 138.26,149.57 138.43,149.79 138.60,150.02 138.77,150.24 138.94,150.46 139.11,150.69 139.28,150.91 139.45,151.14 139.62,151.36 139.78,151.59 139.94,151.81 140.11,152.04 140.27,152.27 140.43,152.50 140.59,152.73 140.75,152.96 140.91,153.19 141.06,153.42 141.22,153.65 141.37,153.88 141.53,154.11 141.68,154.35 141.83,154.58 141.98,154.81 142.13,155.05 142.28,155.28 142.43,155.51 142.57,155.75 142.72,155.98 142.86,156.22 143.00,156.46 143.15,156.69 143.29,156.93 143.43,157.17 143.56,157.40 143.70,157.64 143.84,157.88 143.97,158.12 144.11,158.36 144.24,158.60 144.37,158.84 144.50,159.08 144.63,159.32 144.76,159.56 144.88,159.80 145.01,160.04 145.13,160.28 145.26,160.52 145.38,160.76 145.50,161.00 145.62,161.24" fill="none" stroke="#8888ff" stroke-width="0.5" stroke-linejoin="round" opacity="1"/>
<path d="M61.52,156.12L63.12,159.00L59.92,159.00Z" fill="none" stroke="#4444ff" stroke-width="0.7"/>
<path d="M61.78,154.95L63.38,157.83L60.18,157.83Z" fill="none" stroke="#4444ff" stroke-width="0.7"/>
<path d="M62.08,153.76L63.68,156.64L60.48,156.64Z" fill="none" stroke="#4444ff" stroke-width="0.7"/>
<path d="M62.43,152.55L64.03,155.43L60.83,155.43Z" fill="none" stroke="#4444ff" stroke-width="0.7"/>
<path d="M62.83,151.33L64.43,154.21L61.23,154.21Z" fill="none" stroke="#4444ff" stroke-width="0.7"/>
<path d="M63.29,150.09L64.89,152.97L61.69,152.97Z" fill="none" stroke="#4444ff" stroke-width="0.7"/>
<path d="M63.81,148.84L65.41,151.72L62.21,151.72Z" fill="none" stroke="#4444ff" stroke-width="0.7"/>
<path d="M64.38,147.59L65.98,150.47L62.78,150.47Z" fill="none" stroke="#4444ff" stroke-width="0.7"/>
<path d="M65.03,146.33L66.63,149.21L63.43,149.21Z" fill="none" stroke="#4444ff" stroke-width="0.7"/>
<path d="M65.74,145.06L67.34,147.94L64.14,147.94Z" fill="none" stroke="#4444ff" stroke-width="0.7"/>
<path d="M66.52,143.80L68.12,146.68L64.92,146.68Z" fill="none" stroke="#4444ff" stroke-width="0.7"/>
<path d="M67.38,142.55L68.98,145.43L65.78,145.43Z" fill="none" stroke="#4444ff" stroke-width="0.7"/>
<path d="M68.32,141.31L69.92,144.19L66.72,144.19Z" fill="none" stroke="#4444ff" stroke-width="0.7"/>
<path d="M69.34,140.08L70.94,142.96L67.74,142.96Z" fill="none" stroke="#4444ff" stroke-width="0.7"/>
<path d="M70.44,138.87L72.04,141.75L68.84,141.75Z" fill="none" stroke="#4444ff" stroke-width="0.7"/>
<path d="M71.63,137.70L73.23,140.58L70.03,140.58Z" fill="none" stroke="#4444ff" stroke-width="0.7"/>
<path d="M72.90,136.55L74.50,139.43L71.30,139.43Z" fill="none" stroke="#4444ff" stroke-width="0.7"/>
<path d="M74.26,135.45L75.86,138.33L72.66,138.33Z" fill="none" stroke="#4444ff" stroke-width="0.7"/>
<path d="M75.71,134.38L77.31,137.26L74.11,137.26Z" fill="none" stroke="#4444ff" stroke-width="0.7"/>
<path d="M77.24,133.37L78.84,136.25L75.64,136.25Z" fill="none" stroke="#4444ff" stroke-width="0.7"/>
<path d="M78.86,132.41L80.46,135.29L77.26,135.29Z" fill="none" stroke="#4444ff" stroke-width="0.7"/>
<path d="M80.57,131.51L82.17,134.39L78.97,134.39Z" fill="none" stroke="#4444ff" stroke-width="0.7"/>
<path d="M82.36,130.68L83.96,133.56L80.76,133.56Z" fill="none" stroke="#4444ff" stroke-width="0.7"/>
<path d="M84.25,129.92L85.85,132.80L82.65,132.80Z" fill="none" stroke="#4444ff" stroke-width="0.7"/>
<path d="M86.26,129.23L87.86,132.11L84.66,132.11Z" fill="none" stroke="#4444ff" stroke-width="0.7"/>
<path d="M88.39,128.61L89.99,131.49L86.79,131.49Z" fill="none" stroke="#4444ff" stroke-width="0.7"/>
<path d="M90.64,128.09L92.24,130.97L89.04,130.97Z" fill="none" stroke="#4444ff" stroke-width="0.7"/>
<path d="M93.01,127.68L94.61,130.56L91.41,130.56Z" fill="none" stroke="#4444ff" stroke-width="0.7"/>
<path d="M95.51,127.38L97.11,130.26L93.91,130.26Z" fill="none" stroke="#4444ff" stroke-width="0.7"/>
<path d="M98.13,127.23L99.73,130.11L96.53,130.11Z" fill="none" stroke="#4444ff" stroke-width="0.7"/>
<path d="M100.87,127.23L102.47,130.11L99.27,130.11Z" fill="none" stroke="#4444ff" stroke-width="0.7"/>
<path d="M103.72,127.42L105.32,130.30L102.12,130.30Z" fill="none" stroke="#4444ff" stroke-width="0.7"/>
<path d="M106.68,127.80L108.28,130.68L105.08,130.68Z" fill="none" stroke="#4444ff" stroke-width="0.7"/>
<path d="M109.72,128.42L111.32,131.30L108.12,131.30Z" fill="none" stroke="#4444ff" stroke-width="0.7"/>
<path d="M112.85,129.30L114.45,132.18L111.25,132.18Z" fill="none" stroke="#4444ff" stroke-width="0.7"/>
<path d="M116.04,130.47L117.64,133.35L114.44,133.35Z" fill="none" stroke="#4444ff" stroke-width="0.7"/>
<path d="M119.27,131.95L120.87,134.83L117.67,134.83Z" fill="none" stroke="#4444ff" stroke-width="0.7"/>
<path d="M122.52,133.76L124.12,136.64L120.92,136.64Z" fill="none" stroke="#4444ff" stroke-width="0.7"/>
<path d="M125.77,135.91L127.37,138.79L124.17,138.79Z" fill="none" stroke="#4444ff" stroke-width="0.7"/>
<path d="M129.00,138.40L130.60,141.28L127.40,141.28Z" fill="none" stroke="#4444ff" stroke-width="0.7"/>
<path d="M132.18,141.25L133.78,144.13L130.58,144.13Z" fill="none" stroke="#4444ff" stroke-width="0.7"/>
<path d="M135.30,144.46L136.90,147.34L133.70,147.34Z" fill="none" stroke="#4444ff" stroke-width="0.7"/>
<path d="M138.39,148.14L139.99,151.02L136.79,151.02Z" fill="none" stroke="#4444ff" stroke-width="0.7"/>
<path d="M141.42,152.36L143.02,155.24L139.82,155.24Z" fill="none" stroke="#4444ff" stroke-width="0.7"/>
<path d="M144.33,157.16L145.93,160.04L142.73,160.04Z" fill="none" stroke="#4444ff" stroke-width="0.7"/>
<path d="M145.62,159.64L147.22,162.52L144.02,162.52Z" fill="none" stroke="#4444ff" stroke-width="0.7"/>
<polyline points="54.60,171.42 54.66,171.23 54.72,171.03 54.78,170.84 54.85,170.64 54.91,170.45 54.98,170.26 55.05,170.07 55.12,169.89 55.19,169.70 55.26,169.51 55.33,169.33 55.41,169.15 55.49,168.96 55.57,168.78 55.65,168.60 55.73,168.42 55.81,168.25 55.90,168.07 55.98,167.89 56.07,167.72 56.16,167.55 56.25,167.38 56.34,167.21 56.43,167.04 56.53,166.87 56.62,166.70 56.72,166.54 56.82,166.37 56.92,166.21 57.02,166.05 57.12,165.88 57.23,165.72 57.33,165.57 57.44,165.41 57.54,165.25 57.65,165.10 57.76,164.94 57.87,164.79 57.99,164.64 58.10,164.49 58.22,164.34 58.33,164.19 58.45,164.05 58.57,163.90 58.69,163.76 58.81,163.61 58.93,163.47 59.05,163.33 59.18,163.19 59.30,163.05 59.43,162.92 59.55,162.78 59.68,162.65 59.81,162.51 59.94,162.38 60.07,162.25 60.21,162.12 60.34,161.99 60.48,161.87 60.61,161.74 60.75,161.62 60.88,161.49 61.02,161.37 61.16,161.25 61.30,161.13 61.44,161.01 61.59,160.90 61.73,160.78 61.87,160.67 62.02,160.55 62.16,160.44 62.31,160.33 62.46,160.22 62.61,160.11 62.76,160.01 62.91,159.90 63.06,159.79 63.21,159.69 63.36,159.59 63.51,159.49 63.67,159.39 63.82,159.29 63.98,159.19 64.13,159.10 64.29,159.01 64.45,158.91 64.61,158.82 64.76,158.73 64.92,158.64 65.08,158.55 65.24,158.47 65.41,158.38 65.57,158.30 65.73,158.21 65.89,158.13 66.06,158.05 66.22,157.97 66.39,157.90 66.55,157.82 66.72,157.75 66.89,157.67 67.05,157.60 67.22,157.53 67.39,157.46 67.56,157.39 67.73,157.32 67.90,157.26 68.07,157.19 68.24,157.13 68.41,157.07 68.58,157.01 68.76,156.95 68.93,156.89 69.10,156.83 69.27,156.78 69.45,156.72 69.62,156.67 69.80,156.62 69.97,156.57 70.15,156.52 70.32,156.47 70.50,156.43 70.67,156.38 70.85,156.34 71.03,156.30 71.20,156.26 71.38,156.22 71.56,156.18 71.74,156.14 71.91,156.11 72.09,156.08 72.27,156.04 72.45,156.01 72.63,155.98 72.81,155.95 72.98,155.93 73.16,155.90 73.34,155.88 73.52,155.85 73.70,155.83 73.88,155.81 74.06,155.79 74.24,155.78 74.42,155.76 74.60,155.74 74.78,155.73 74.96,155.72 75.14,155.71 75.32,155.70 75.50,155.69 75.68,155.68 75.86,155.68 76.04,155.68 76.22,155.67 76.40,155.67 76.58,155.67 76.76,155.67 76.94,155.68 77.12,155.68 77.30,155.69 77.48,155.70 77.66,155.70 77.84,155.71 78.02,155.73 78.20,155.74 78.38,155.75 78.56,155.77 78.74,155.79 78.91,155.81 79.09,155.83 79.27,155.85 79.45,155.87 79.63,155.89 79.80,155.92 79.98,155.95 80.16,155.98 80.33,156.01 80.51,156.04 80.68,156.07 80.86,156.10 81.03,156.14 81.21,156.18 81.38,156.21 81.56,156.25 81.73,156.30 81.91,156.34 82.08,156.38 82.25,156.43 82.42,156.48 82.59,156.52 82.77,156.57 82.94,156.63 83.11,156.68 83.28,156.73 83.45,156.79 83.62,156.85 83.78,156.91 83.95,156.97 84.12,157.03 84.29,157.09 84.45,157.15 84.62,157.22 84.78,157.29 84.95,157.36 85.11,157.43 85.28,157.50 85.44,157.57 85.60,157.65 85.77,157.72 85.93,157.80 86.09,157.88 86.25,157.96 86.41,158.04 86.57,158.12 86.73,158.20 86.88,158.29 87.04,158.37 87.20,158.46 87.36,158.55 87.51,158.64 87.67,158.73 87.82,158.83 87.98,158.92 88.13,159.01 88.28,159.11 88.43,159.21 88.59,159.31 88.74,159.41 88.89,159.51 89.04,159.61 89.19,159.71 89.34,159.82 89.48,159.92 89.63,160.03 89.78,160.14 89.92,160.25 90.07,160.36 90.22,160.47 90.36,160.58 90.50,160.70 90.65,160.81 90.79,160.93 90.93,161.04 91.07,161.16 91.21,161.28 91.35,161.40 91.49,161.52 91.63,161.64 91.77,161.76 91.91,161.89 92.04,162.01 92.18,162.14 92.31,162.27 92.45,162.39 92.58,162.52 92.72,162.65 92.85,162.78 92.98,162.91 93.11,163.05 93.24,163.18 93.37,163.31 93.50,163.45 93.63,163.59 93.76,163.72 93.88,163.86 94.01,164.00 94.14,164.14 94.26,164.28 94.38,164.42 94.51,164.56 94.63,164.70 94.75,164.85 94.87,164.99 94.99,165.14 95.11,165.28 95.23,165.43 95.35,165.58 95.47,165.73 95.59,165.87 95.70,166.02 95.82,166.17 95.93,166.33 96.05,166.48 96.16,166.63 96.27,166.78 96.38,166.94 96.49,167.09 96.60,167.25 96.71,167.40 96.82,167.56 96.93,167.72 97.04,167.87 97.14,168.03 97.25,168.19 97.35,168.35 97.46,168.51 97.56,168.67 97.66,168.83 97.76,168.99 97.86,169.16 97.96,169.32 98.06,169.48 98.16,169.65 98.26,169.81 98.36,169.97 98.45,170.14 98.55,170.31 98.64,170.47 98.73,170.64 98.83,170.81 98.92,170.97 99.01,171.14 99.10,171.31 99.19,171.48 99.28,171.65 99.36,171.82 99.45,171.99 99.54,172.16 99.62,172.33 99.71,172.50 99.79,172.67 99.87,172.84 99.95,173.02 100.03,173.19 100.11,173.36 100.19,173.54 100.27,173.71 100.35,173.88 100.42,174.06 100.50,174.23 100.57,174.41 100.65,174.58 100.72,174.76 100.79,174.93 100.86,175.11 100.93,175.28 101.00,175.46 101.07,175.64 101.14,175.81 101.20,175.99 101.27,176.17 101.33,176.34 101.40,176.52 101.46,176.70 101.52,176.88 101.58,177.05 101.64,177.23 101.70,177.41 101.76,177.59 101.82,177.76 101.87,177.94 101.93,178.12 101.98,178.30 102.04,178.48 102.09,178.66 102.14,178.83 102.19,179.01 102.24,179.19 102.29,179.37 102.34,179.55 102.39,179.73 102.43,179.91 102.48,180.08 102.52,180.26 102.56,180.44 102.60,180.62 102.64,180.80 102.68,180.98 102.72,181.15 102.76,181.33 102.80,181.51 102.83,181.69 102.87,181.87 102.90,182.04 102.94,182.22 102.97,182.40 103.00,182.58 103.03,182.75 103.06,182.93 103.09,183.11 103.11,183.28 103.14,183.46 103.16,183.64 103.19,183.81 103.21,183.99 103.23,184.16 103.25,184.34 103.27,184.51 103.29,184.69 103.31,184.86 103.32,185.04 103.34,185.21 103.35,185.38 103.37,185.56 103.38,185.73 103.39,185.90 103.40,186.08 103.41,186.25 103.42,186.42" fill="none" stroke="#ff77aa" stroke-width="0.7" stroke-linejoin="round" opacity="1"/>
<path d="M53.30,171.42H55.90M54.60,170.12V172.72" stroke="#ff1f70" stroke-width="0.9"/>
<path d="M53.51,170.75H56.11M54.81,169.45V172.05" stroke="#ff1f70" stroke-width="0.9"/>
<path d="M53.74,170.09H56.34M55.04,168.79V171.39" stroke="#ff1f70" stroke-width="0.9"/>
<path d="M54.00,169.43H56.60M55.30,168.13V170.73" stroke="#ff1f70" stroke-width="0.9"/>
<path d="M54.27,168.77H56.87M55.57,167.47V170.07" stroke="#ff1f70" stroke-width="0.9"/>
<path d="M54.57,168.12H57.17M55.87,166.82V169.42" stroke="#ff1f70" stroke-width="0.9"/>
<path d="M54.89,167.48H57.49M56.19,166.18V168.78" stroke="#ff1f70" stroke-width="0.9"/>
<path d="M55.24,166.85H57.84M56.54,165.55V168.15" stroke="#ff1f70" stroke-width="0.9"/>
<path d="M55.61,166.22H58.21M56.91,164.92V167.52" stroke="#ff1f70" stroke-width="0.9"/>
<path d="M56.01,165.60H58.61M57.31,164.30V166.90" stroke="#ff1f70" stroke-width="0.9"/>
<path d="M56.42,165.00H59.02M57.72,163.70V166.30" stroke="#ff1f70" stroke-width="0.9"/>
<path d="M56.86,164.41H59.46M58.16,163.11V165.71" stroke="#ff1f70" stroke-width="0.9"/>
<path d="M57.33,163.83H59.93M58.63,162.53V165.13" stroke="#ff1f70" stroke-width="0.9"/>
<path d="M57.82,163.26H60.42M59.12,161.96V164.56" stroke="#ff1f70" stroke-width="0.9"/>
<path d="M58.32,162.71H60.92M59.62,161.41V164.01" stroke="#ff1f70" stroke-width="0.9"/>
<path d="M58.86,162.17H61.46M60.16,160.87V163.47" stroke="#ff1f70" stroke-width="0.9"/>
<path d="M59.41,161.65H62.01M60.71,160.35V162.95" stroke="#ff1f70" stroke-width="0.9"/>
<path d="M59.98,161.15H62.58M61.28,159.85V162.45" stroke="#ff1f70" stroke-width="0.9"/>
<path d="M60.58,160.66H63.18M61.88,159.36V161.96" stroke="#ff1f70" stroke-width="0.9"/>
<path d="M61.19,160.20H63.79M62.49,158.90V161.50" stroke="#ff1f70" stroke-width="0.9"/>
<path d="M61.82,159.75H64.42M63.12,158.45V161.05" stroke="#ff1f70" stroke-width="0.9"/>
<path d="M62.48,159.32H65.08M63.78,158.02V160.62" stroke="#ff1f70" stroke-width="0.9"/>
<path d="M63.15,158.91H65.75M64.45,157.61V160.21" stroke="#ff1f70" stroke-width="0.9"/>
<path d="M63.83,158.53H66.43M65.13,157.23V159.83" stroke="#ff1f70" stroke-width="0.9"/>
<path d="M64.54,158.16H67.14M65.84,156.86V159.46" stroke="#ff1f70" stroke-width="0.9"/>
<path d="M65.26,157.82H67.86M66.56,156.52V159.12" stroke="#ff1f70" stroke-width="0.9"/>
<path d="M65.99,157.50H68.59M67.29,156.20V158.80" stroke="#ff1f70" stroke-width="0.9"/>
<path d="M66.74,157.20H69.34M68.04,155.90V158.50" stroke="#ff1f70" stroke-width="0.9"/>
<path d="M67.50,156.93H70.10M68.80,155.63V158.23" stroke="#ff1f70" stroke-width="0.9"/>
<path d="M68.28,156.68H70.88M69.58,155.38V157.98" stroke="#ff1f70" stroke-width="0.9"/>
<path d="M69.07,156.46H71.67M70.37,155.16V157.76" stroke="#ff1f70" stroke-width="0.9"/>
<path d="M69.87,156.27H72.47M71.17,154.97V157.57" stroke="#ff1f70" stroke-width="0.9"/>
<path d="M70.68,156.10H73.28M71.98,154.80V157.40" stroke="#ff1f70" stroke-width="0.9"/>
<path d="M71.50,155.95H74.10M72.80,154.65V157.25" stroke="#ff1f70" stroke-width="0.9"/>
<path d="M72.33,155.84H74.93M73.63,154.54V157.14" stroke="#ff1f70" stroke-width="0.9"/>
<path d="M73.17,155.76H75.77M74.47,154.46V157.06" stroke="#ff1f70" stroke-width="0.9"/>
<path d="M74.01,155.70H76.61M75.31,154.40V157.00" stroke="#ff1f70" stroke-width="0.9"/>
<path d="M74.86,155.67H77.46M76.16,154.37V156.97" stroke="#ff1f70" stroke-width="0.9"/>
<path d="M75.71,155.68H78.31M77.01,154.38V156.98" stroke="#ff1f70" stroke-width="0.9"/>
<path d="M76.57,155.72H79.17M77.87,154.42V157.02" stroke="#ff1f70" stroke-width="0.9"/>
<path d="M77.44,155.79H80.04M78.74,154.49V157.09" stroke="#ff1f70" stroke-width="0.9"/>
<path d="M78.30,155.89H80.90M79.60,154.59V157.19" stroke="#ff1f70" stroke-width="0.9"/>
<path d="M79.16,156.03H81.76M80.46,154.73V157.33" stroke="#ff1f70" stroke-width="0.9"/>
<path d="M80.02,156.20H82.62M81.32,154.90V157.50" stroke="#ff1f70" stroke-width="0.9"/>
<path d="M80.88,156.41H83.48M82.18,155.11V157.71" stroke="#ff1f70" stroke-width="0.9"/>
<path d="M81.73,156.66H84.33M83.03,155.36V157.96" stroke="#ff1f70" stroke-width="0.9"/>
<path d="M82.58,156.94H85.18M83.88,155.64V158.24" stroke="#ff1f70" stroke-width="0.9"/>
<path d="M83.42,157.26H86.02M84.72,155.96V158.56" stroke="#ff1f70" stroke-width="0.9"/>
<path d="M84.27,157.63H86.87M85.57,156.33V158.93" stroke="#ff1f70" stroke-width="0.9"/>
<path d="M85.14,158.05H87.74M86.44,156.75V159.35" stroke="#ff1f70" stroke-width="0.9"/>
<path d="M86.03,158.54H88.63M87.33,157.24V159.84" stroke="#ff1f70" stroke-width="0.9"/>
<path d="M86.94,159.08H89.54M88.24,157.78V160.38" stroke="#ff1f70" stroke-width="0.9"/>
<path d="M87.87,159.70H90.47M89.17,158.40V161.00" stroke="#ff1f70" stroke-width="0.9"/>
<path d="M88.81,160.39H91.41M90.11,159.09V161.69" stroke="#ff1f70" stroke-width="0.9"/>
<path d="M89.76,161.15H92.36M91.06,159.85V162.45" stroke="#ff1f70" stroke-width="0.9"/>
<path d="M90.72,161.99H93.32M92.02,160.69V163.29" stroke="#ff1f70" stroke-width="0.9"/>
<path d="M91.69,162.92H94.29M92.99,161.62V164.22" stroke="#ff1f70" stroke-width="0.9"/>
<path d="M92.65,163.94H95.25M93.95,162.64V165.24" stroke="#ff1f70" stroke-width="0.9"/>
<path d="M93.62,165.05H96.22M94.92,163.75V166.35" stroke="#ff1f70" stroke-width="0.9"/>
<path d="M94.58,166.25H97.18M95.88,164.95V167.55" stroke="#ff1f70" stroke-width="0.9"/>
<path d="M95.52,167.55H98.12M96.82,166.25V168.85" stroke="#ff1f70" stroke-width="0.9"/>
<path d="M96.44,168.95H99.04M97.74,167.65V170.25" stroke="#ff1f70" stroke-width="0.9"/>
<path d="M97.32,170.43H99.92M98.62,169.13V171.73" stroke="#ff1f70" stroke-width="0.9"/>
<path d="M98.16,172.01H100.76M99.46,170.71V173.31" stroke="#ff1f70" stroke-width="0.9"/>
<path d="M98.96,173.69H101.56M100.26,172.39V174.99" stroke="#ff1f70" stroke-width="0.9"/>
<path d="M99.70,175.46H102.30M101.00,174.16V176.76" stroke="#ff1f70" stroke-width="0.9"/>
<path d="M100.38,177.34H102.98M101.68,176.04V178.64" stroke="#ff1f70" stroke-width="0.9"/>
<path d="M100.97,179.31H103.57M102.27,178.01V180.61" stroke="#ff1f70" stroke-width="0.9"/>
<path d="M101.47,181.39H104.07M102.77,180.09V182.69" stroke="#ff1f70" stroke-width="0.9"/>
<path d="M101.85,183.57H104.45M103.15,182.27V184.87" stroke="#ff1f70" stroke-width="0.9"/>
<path d="M102.09,185.86H104.69M103.39,184.56V187.16" stroke="#ff1f70" stroke-width="0.9"/>
<polyline points="50.30,183.20 50.51,182.98 50.72,182.75 50.92,182.52 51.12,182.29 51.32,182.06 51.52,181.83 51.71,181.59 51.91,181.36 52.11,181.13 52.31,180.89 52.51,180.66 52.71,180.44 52.92,180.21 53.14,180.00 53.36,179.78 53.59,179.57 53.83,179.37 54.08,179.17 54.33,178.98 54.60,178.80 54.88,178.62 55.17,178.45 55.47,178.27 55.77,178.10 56.09,177.93 56.41,177.76 56.74,177.60 57.08,177.44 57.42,177.29 57.76,177.14 58.11,177.00 58.46,176.87 58.81,176.74 59.15,176.62 59.50,176.51 59.85,176.41 60.19,176.32 60.53,176.23 60.87,176.16 61.20,176.10 61.53,176.05 61.86,176.00 62.20,175.96 62.54,175.93 62.88,175.91 63.22,175.89 63.57,175.88 63.91,175.88 64.25,175.89 64.59,175.91 64.92,175.93 65.26,175.97 65.58,176.01 65.91,176.06 66.22,176.13 66.54,176.20 66.84,176.28 67.14,176.38 67.42,176.48 67.70,176.60 67.97,176.73 68.23,176.88 68.48,177.04 68.72,177.21 68.96,177.40 69.19,177.60 69.42,177.81 69.64,178.03 69.86,178.26 70.07,178.49 70.28,178.73 70.48,178.98 70.69,179.23 70.89,179.48 71.09,179.74 71.29,179.99 71.49,180.25 71.69,180.50 71.90,180.75 72.10,181.00 72.31,181.25 72.51,181.52 72.72,181.81 72.92,182.10 73.13,182.41 73.33,182.72 73.54,183.03 73.74,183.35 73.94,183.66 74.14,183.97 74.33,184.28 74.52,184.58 74.71,184.87 74.90,185.15 75.08,185.41 75.25,185.65 75.42,185.87 75.59,186.07 75.75,186.25 75.90,186.40 76.05,186.52 76.18,186.62 76.32,186.69 76.44,186.75 76.56,186.78 76.68,186.80 76.79,186.80 76.90,186.79 77.00,186.77 77.10,186.74 77.20,186.70 77.30,186.66 77.39,186.61 77.49,186.57 77.59,186.53 77.69,186.49 77.79,186.45 77.89,186.42 77.99,186.41 78.10,186.40" fill="none" stroke="#88ee88" stroke-width="1.8" stroke-linejoin="round" opacity="1"/>
<circle cx="50.30" cy="183.20" r="0.65" fill="#22dd22"/>
<circle cx="50.98" cy="182.46" r="0.65" fill="#22dd22"/>
<circle cx="51.65" cy="181.67" r="0.65" fill="#22dd22"/>
<circle cx="52.34" cy="180.85" r="0.65" fill="#22dd22"/>
<circle cx="53.11" cy="180.03" r="0.65" fill="#22dd22"/>
<circle cx="53.97" cy="179.26" r="0.65" fill="#22dd22"/>
<circle cx="54.96" cy="178.57" r="0.65" fill="#22dd22"/>
<circle cx="56.05" cy="177.95" r="0.65" fill="#22dd22"/>
<circle cx="57.22" cy="177.38" r="0.65" fill="#22dd22"/>
<circle cx="58.46" cy="176.87" r="0.65" fill="#22dd22"/>
<circle cx="59.79" cy="176.42" r="0.65" fill="#22dd22"/>
<circle cx="61.21" cy="176.10" r="0.65" fill="#22dd22"/>
<circle cx="62.71" cy="175.92" r="0.65" fill="#22dd22"/>
<circle cx="64.27" cy="175.89" r="0.65" fill="#22dd22"/>
<circle cx="65.89" cy="176.06" r="0.65" fill="#22dd22"/>
<circle cx="67.51" cy="176.52" r="0.65" fill="#22dd22"/>
<circle cx="68.98" cy="177.46" r="0.65" fill="#22dd22"/>
<circle cx="70.22" cy="178.78" r="0.65" fill="#22dd22"/>
<circle cx="71.42" cy="180.25" r="0.65" fill="#22dd22"/>
<circle cx="72.10" cy="181.00" r="0.65" fill="#22dd22"/>
<polyline points="50.80,182.60 50.99,182.44 51.18,182.27 51.36,182.11 51.55,181.94 51.74,181.76 51.92,181.59 52.11,181.42 52.29,181.25 52.48,181.08 52.66,180.91 52.85,180.74 53.04,180.57 53.23,180.41 53.42,180.25 53.61,180.09 53.80,179.94 54.00,179.80 54.20,179.66 54.40,179.53 54.60,179.40 54.81,179.28 55.02,179.15 55.23,179.03 55.44,178.90 55.66,178.78 55.88,178.66 56.10,178.54 56.32,178.42 56.54,178.32 56.76,178.21 56.99,178.12 57.21,178.03 57.44,177.95 57.66,177.88 57.89,177.82 58.11,177.77 58.33,177.73 58.56,177.71 58.78,177.70 59.00,177.70 59.22,177.72 59.45,177.75 59.68,177.80 59.91,177.86 60.14,177.94 60.37,178.02 60.61,178.12 60.84,178.22 61.07,178.34 61.31,178.46 61.54,178.58 61.76,178.72 61.99,178.86 62.20,179.00 62.42,179.15 62.63,179.30 62.83,179.45 63.03,179.60 63.22,179.75 63.40,179.90 63.58,180.05 63.75,180.22 63.91,180.38 64.07,180.56 64.23,180.74 64.39,180.92 64.53,181.11 64.68,181.30 64.82,181.50 64.96,181.70 65.09,181.90 65.22,182.10 65.34,182.31 65.46,182.51 65.58,182.71 65.69,182.91 65.80,183.11 65.90,183.31 66.00,183.51 66.10,183.70 66.19,183.89 66.27,184.08 66.35,184.27 66.42,184.46 66.49,184.65 66.55,184.84 66.60,185.03 66.66,185.22 66.70,185.41 66.75,185.60 66.79,185.79 66.84,185.98 66.88,186.17 66.92,186.36 66.96,186.55 67.01,186.74 67.05,186.93 67.10,187.12 67.15,187.31 67.20,187.50" fill="none" stroke="#111" stroke-width="2.8" stroke-linejoin="round" opacity="1"/>
<rect x="47.3" y="15.4" width="246.7" height="174.6" fill="none" stroke="#000" stroke-width="1.6"/>
<line x1="51.5" x2="71.5" y1="23.6" y2="23.6" stroke="#ff5555" stroke-width="0.9"/>
<rect x="59" y="21.6" width="5" height="4" fill="#fff"/>
<rect x="59.85" y="21.85" width="3.50" height="3.50" fill="#ff0000"/>
<text x="86.00" y="26.15" style="font-family:&quot;Liberation Sans&quot;,sans-serif;font-size:7.3px;font-weight:bold" text-anchor="middle" fill="#000" >50°C</text>
<line x1="51.5" x2="71.5" y1="31.200000000000003" y2="31.200000000000003" stroke="#ffaaff" stroke-width="1.8"/>
<rect x="59" y="29.200000000000003" width="5" height="4" fill="#fff"/>
<circle cx="61.60" cy="31.20" r="1.75" fill="none" stroke="#ff44ff" stroke-width="0.85"/>
<text x="86.00" y="33.75" style="font-family:&quot;Liberation Sans&quot;,sans-serif;font-size:7.3px;font-weight:bold" text-anchor="middle" fill="#000" >100°C</text>
<line x1="51.5" x2="71.5" y1="38.8" y2="38.8" stroke="#aaaaff" stroke-width="1.8"/>
<rect x="59" y="36.8" width="5" height="4" fill="#fff"/>
<path d="M61.60,37.00L63.40,40.24L59.80,40.24Z" fill="none" stroke="#4444ff" stroke-width="0.85"/>
<text x="86.00" y="41.35" style="font-family:&quot;Liberation Sans&quot;,sans-serif;font-size:7.3px;font-weight:bold" text-anchor="middle" fill="#000" >150°C</text>
<line x1="218.1" x2="238.5" y1="23.4" y2="23.4" stroke="#ff66aa" stroke-width="1.0"/>
<rect x="226" y="21.4" width="5" height="4" fill="#fff"/>
<path d="M226.50,23.40H230.10M228.30,21.60V25.20" stroke="#ff2277" stroke-width="0.9"/>
<text x="243.00" y="26.00" style="font-family:&quot;Liberation Sans&quot;,sans-serif;font-size:7.5px;font-weight:bold" text-anchor="start" fill="#000" >175°C</text>
<line x1="218.1" x2="238.5" y1="31.599999999999998" y2="31.599999999999998" stroke="#aaffaa" stroke-width="1.0"/>
<rect x="226" y="29.599999999999998" width="5" height="4" fill="#fff"/>
<circle cx="228.30" cy="31.60" r="1.20" fill="#33ee33"/>
<text x="243.00" y="34.20" style="font-family:&quot;Liberation Sans&quot;,sans-serif;font-size:7.5px;font-weight:bold" text-anchor="start" fill="#000" >200°C</text>
<line x1="218.1" x2="238.5" y1="39.8" y2="39.8" stroke="#cccccc" stroke-width="1.4"/>
<rect x="226" y="37.8" width="5" height="4" fill="#fff"/>
<polygon points="228.30,38.00 228.78,39.14 230.01,39.24 229.07,40.05 229.36,41.26 228.30,40.61 227.24,41.26 227.53,40.05 226.59,39.24 227.82,39.14" fill="none" stroke="#333333" stroke-width="0.9"/>
<text x="243.00" y="42.40" style="font-family:&quot;Liberation Sans&quot;,sans-serif;font-size:7.5px;font-weight:bold" text-anchor="start" fill="#000" >220°C</text>
<text x="0.00" y="213.00" style="font-family:&quot;Liberation Serif&quot;,serif;font-size:14.5px;font-weight:normal" text-anchor="start" fill="#000" >(b)</text>
<text x="48.00" y="405.60" style="font-family:&quot;Liberation Sans&quot;,sans-serif;font-size:7.6px;font-weight:bold" text-anchor="middle" fill="#000" class="ns">0</text>
<line x1="48.00" x2="48.00" y1="395.3" y2="397.5" stroke="#888" stroke-width="0.6"/>
<text x="88.83" y="405.60" style="font-family:&quot;Liberation Sans&quot;,sans-serif;font-size:7.6px;font-weight:bold" text-anchor="middle" fill="#000" class="ns">200</text>
<line x1="88.83" x2="88.83" y1="395.3" y2="397.5" stroke="#888" stroke-width="0.6"/>
<text x="129.67" y="405.60" style="font-family:&quot;Liberation Sans&quot;,sans-serif;font-size:7.6px;font-weight:bold" text-anchor="middle" fill="#000" class="ns">400</text>
<line x1="129.67" x2="129.67" y1="395.3" y2="397.5" stroke="#888" stroke-width="0.6"/>
<text x="170.50" y="405.60" style="font-family:&quot;Liberation Sans&quot;,sans-serif;font-size:7.6px;font-weight:bold" text-anchor="middle" fill="#000" class="ns">600</text>
<line x1="170.50" x2="170.50" y1="395.3" y2="397.5" stroke="#888" stroke-width="0.6"/>
<text x="211.33" y="405.60" style="font-family:&quot;Liberation Sans&quot;,sans-serif;font-size:7.6px;font-weight:bold" text-anchor="middle" fill="#000" class="ns">800</text>
<line x1="211.33" x2="211.33" y1="395.3" y2="397.5" stroke="#888" stroke-width="0.6"/>
<text x="252.17" y="405.60" style="font-family:&quot;Liberation Sans&quot;,sans-serif;font-size:7.6px;font-weight:bold" text-anchor="middle" fill="#000" class="ns">1000</text>
<line x1="252.17" x2="252.17" y1="395.3" y2="397.5" stroke="#888" stroke-width="0.6"/>
<text x="293.00" y="405.60" style="font-family:&quot;Liberation Sans&quot;,sans-serif;font-size:7.6px;font-weight:bold" text-anchor="middle" fill="#000" class="ns">1200</text>
<line x1="293.00" x2="293.00" y1="395.3" y2="397.5" stroke="#888" stroke-width="0.6"/>
<text x="44.30" y="384.71" style="font-family:&quot;Liberation Sans&quot;,sans-serif;font-size:7.6px;font-weight:bold" text-anchor="end" fill="#000" class="ns">0</text>
<line x1="44.8" x2="48" y1="382.01" y2="382.01" stroke="#888" stroke-width="0.6"/>
<text x="44.30" y="358.12" style="font-family:&quot;Liberation Sans&quot;,sans-serif;font-size:7.6px;font-weight:bold" text-anchor="end" fill="#000" class="ns">200</text>
<line x1="44.8" x2="48" y1="355.42" y2="355.42" stroke="#888" stroke-width="0.6"/>
<text x="44.30" y="331.54" style="font-family:&quot;Liberation Sans&quot;,sans-serif;font-size:7.6px;font-weight:bold" text-anchor="end" fill="#000" class="ns">400</text>
<line x1="44.8" x2="48" y1="328.84" y2="328.84" stroke="#888" stroke-width="0.6"/>
<text x="44.30" y="304.95" style="font-family:&quot;Liberation Sans&quot;,sans-serif;font-size:7.6px;font-weight:bold" text-anchor="end" fill="#000" class="ns">600</text>
<line x1="44.8" x2="48" y1="302.25" y2="302.25" stroke="#888" stroke-width="0.6"/>
<text x="44.30" y="278.37" style="font-family:&quot;Liberation Sans&quot;,sans-serif;font-size:7.6px;font-weight:bold" text-anchor="end" fill="#000" class="ns">800</text>
<line x1="44.8" x2="48" y1="275.67" y2="275.67" stroke="#888" stroke-width="0.6"/>
<text x="44.30" y="251.78" style="font-family:&quot;Liberation Sans&quot;,sans-serif;font-size:7.6px;font-weight:bold" text-anchor="end" fill="#000" class="ns">1000</text>
<line x1="44.8" x2="48" y1="249.08" y2="249.08" stroke="#888" stroke-width="0.6"/>
<text x="44.30" y="225.20" style="font-family:&quot;Liberation Sans&quot;,sans-serif;font-size:7.6px;font-weight:bold" text-anchor="end" fill="#000" class="ns">1200</text>
<line x1="44.8" x2="48" y1="222.50" y2="222.50" stroke="#888" stroke-width="0.6"/>
<text x="149.8" y="415.2" style="font-family:&quot;Liberation Sans&quot;,sans-serif;font-size:7.9px;font-weight:bold">Z<tspan dy="2.8" style="font-size:6.8px">re</tspan><tspan dy="-2.8" style="font-size:8.1px;font-weight:normal"> (kΩ cm)</tspan></text>
<text transform="translate(27.4,338.4) rotate(-90)" style="font-family:&quot;Liberation Sans&quot;,sans-serif;font-size:8.2px;font-weight:bold">-Z<tspan dy="2.5" style="font-size:6.8px">im</tspan><tspan dy="-2.5" style="font-size:8.6px;font-weight:normal"> (kΩ cm)</tspan></text>
<text x="83.50" y="247.60" style="font-family:&quot;Liberation Sans&quot;,sans-serif;font-size:8.3px;font-weight:bold">4 MHz</text>
<path d="M110.47,244.86H118.10M112.46,243.20L110.47,244.86L112.46,246.52M116.11,243.20L118.10,244.86L116.11,246.52" fill="none" stroke="#000" stroke-width="0.913"/>
<text x="121.09" y="247.60" style="font-family:&quot;Liberation Sans&quot;,sans-serif;font-size:8.3px;font-weight:bold">50 Hz</text>
<polyline points="70.50,371.30 71.25,371.07 72.00,370.84 72.75,370.61 73.50,370.38 74.25,370.15 75.00,369.92 75.75,369.69 76.50,369.46 77.25,369.23 78.00,369.00 78.69,368.70 79.38,368.40 80.07,368.10 80.76,367.80 81.45,367.50 82.14,367.20 82.83,366.90 83.52,366.60 84.21,366.30 84.90,366.00 85.30,365.55 85.70,365.10 86.10,364.65 86.50,364.20 86.90,363.75 87.30,363.30 87.70,362.85 88.10,362.40 88.50,361.95 88.90,361.50 90.60,360.00 92.30,358.50 94.00,357.00 95.70,355.50 97.40,354.00 99.10,352.50 100.80,351.00 102.50,349.50 104.20,348.00 105.90,346.50 108.05,344.12 110.20,341.74 112.35,339.36 114.50,336.98 116.65,334.60 118.80,332.22 120.95,329.84 123.10,327.46 125.25,325.08 127.40,322.70 131.20,318.55 135.00,314.40 138.80,310.25 142.60,306.10 146.40,301.95 150.20,297.80 154.00,293.65 157.80,289.50 161.60,285.35 165.40,281.20 166.60,279.85 167.80,278.50 169.00,277.15 170.20,275.80 171.40,274.45 172.60,273.10 173.80,271.75 175.00,270.40 176.20,269.05 177.40,267.70" fill="none" stroke="#666666" stroke-width="0.5" stroke-linejoin="round" opacity="1"/>
<path d="M69.00,369.80L72.00,372.80M72.00,369.80L69.00,372.80M69.00,371.30H72.00" stroke="#444444" stroke-width="0.8"/>
<path d="M69.76,369.57L72.76,372.57M72.76,369.57L69.76,372.57M69.76,371.07H72.76" stroke="#444444" stroke-width="0.8"/>
<path d="M70.54,369.33L73.54,372.33M73.54,369.33L70.54,372.33M70.54,370.83H73.54" stroke="#444444" stroke-width="0.8"/>
<path d="M71.33,369.09L74.33,372.09M74.33,369.09L71.33,372.09M71.33,370.59H74.33" stroke="#444444" stroke-width="0.8"/>
<path d="M72.12,368.84L75.12,371.84M75.12,368.84L72.12,371.84M72.12,370.34H75.12" stroke="#444444" stroke-width="0.8"/>
<path d="M72.93,368.60L75.93,371.60M75.93,368.60L72.93,371.60M72.93,370.10H75.93" stroke="#444444" stroke-width="0.8"/>
<path d="M73.74,368.34L76.74,371.34M76.74,368.34L73.74,371.34M73.74,369.84H76.74" stroke="#444444" stroke-width="0.8"/>
<path d="M74.57,368.09L77.57,371.09M77.57,368.09L74.57,371.09M74.57,369.59H77.57" stroke="#444444" stroke-width="0.8"/>
<path d="M75.41,367.83L78.41,370.83M78.41,367.83L75.41,370.83M75.41,369.33H78.41" stroke="#444444" stroke-width="0.8"/>
<path d="M76.26,367.57L79.26,370.57M79.26,367.57L76.26,370.57M76.26,369.07H79.26" stroke="#444444" stroke-width="0.8"/>
<path d="M77.10,367.24L80.10,370.24M80.10,367.24L77.10,370.24M77.10,368.74H80.10" stroke="#444444" stroke-width="0.8"/>
<path d="M77.94,366.88L80.94,369.88M80.94,366.88L77.94,369.88M77.94,368.38H80.94" stroke="#444444" stroke-width="0.8"/>
<path d="M78.78,366.51L81.78,369.51M81.78,366.51L78.78,369.51M78.78,368.01H81.78" stroke="#444444" stroke-width="0.8"/>
<path d="M79.64,366.13L82.64,369.13M82.64,366.13L79.64,369.13M79.64,367.63H82.64" stroke="#444444" stroke-width="0.8"/>
<path d="M80.52,365.75L83.52,368.75M83.52,365.75L80.52,368.75M80.52,367.25H83.52" stroke="#444444" stroke-width="0.8"/>
<path d="M81.40,365.37L84.40,368.37M84.40,365.37L81.40,368.37M81.40,366.87H84.40" stroke="#444444" stroke-width="0.8"/>
<path d="M82.29,364.98L85.29,367.98M85.29,364.98L82.29,367.98M82.29,366.48H85.29" stroke="#444444" stroke-width="0.8"/>
<path d="M83.20,364.59L86.20,367.59M86.20,364.59L83.20,367.59M83.20,366.09H86.20" stroke="#444444" stroke-width="0.8"/>
<path d="M84.05,363.77L87.05,366.77M87.05,363.77L84.05,366.77M84.05,365.27H87.05" stroke="#444444" stroke-width="0.8"/>
<path d="M85.88,361.71L88.88,364.71M88.88,361.71L85.88,364.71M85.88,363.21H88.88" stroke="#444444" stroke-width="0.8"/>
<path d="M88.40,359.12L91.40,362.12M91.40,359.12L88.40,362.12M88.40,360.62H91.40" stroke="#444444" stroke-width="0.8"/>
<path d="M91.14,356.70L94.14,359.70M94.14,356.70L91.14,359.70M91.14,358.20H94.14" stroke="#444444" stroke-width="0.8"/>
<path d="M93.90,354.27L96.90,357.27M96.90,354.27L93.90,357.27M93.90,355.77H96.90" stroke="#444444" stroke-width="0.8"/>
<path d="M96.68,351.81L99.68,354.81M99.68,351.81L96.68,354.81M96.68,353.31H99.68" stroke="#444444" stroke-width="0.8"/>
<path d="M99.49,349.33L102.49,352.33M102.49,349.33L99.49,352.33M99.49,350.83H102.49" stroke="#444444" stroke-width="0.8"/>
<path d="M102.32,346.83L105.32,349.83M105.32,346.83L102.32,349.83M102.32,348.33H105.32" stroke="#444444" stroke-width="0.8"/>
<path d="M105.10,344.23L108.10,347.23M108.10,344.23L105.10,347.23M105.10,345.73H108.10" stroke="#444444" stroke-width="0.8"/>
<path d="M107.66,341.39L110.66,344.39M110.66,341.39L107.66,344.39M107.66,342.89H110.66" stroke="#444444" stroke-width="0.8"/>
<path d="M110.24,338.54L113.24,341.54M113.24,338.54L110.24,341.54M110.24,340.04H113.24" stroke="#444444" stroke-width="0.8"/>
<path d="M112.83,335.67L115.83,338.67M115.83,335.67L112.83,338.67M112.83,337.17H115.83" stroke="#444444" stroke-width="0.8"/>
<path d="M115.43,332.79L118.43,335.79M118.43,332.79L115.43,335.79M115.43,334.29H118.43" stroke="#444444" stroke-width="0.8"/>
<path d="M118.05,329.89L121.05,332.89M121.05,329.89L118.05,332.89M118.05,331.39H121.05" stroke="#444444" stroke-width="0.8"/>
<path d="M120.68,326.98L123.68,329.98M123.68,326.98L120.68,329.98M120.68,328.48H123.68" stroke="#444444" stroke-width="0.8"/>
<path d="M123.32,324.06L126.32,327.06M126.32,324.06L123.32,327.06M123.32,325.56H126.32" stroke="#444444" stroke-width="0.8"/>
<path d="M125.97,321.12L128.97,324.12M128.97,321.12L125.97,324.12M125.97,322.62H128.97" stroke="#444444" stroke-width="0.8"/>
<path d="M128.66,318.18L131.66,321.18M131.66,318.18L128.66,321.18M128.66,319.68H131.66" stroke="#444444" stroke-width="0.8"/>
<path d="M131.36,315.23L134.36,318.23M134.36,315.23L131.36,318.23M131.36,316.73H134.36" stroke="#444444" stroke-width="0.8"/>
<path d="M134.08,312.27L137.08,315.27M137.08,312.27L134.08,315.27M134.08,313.77H137.08" stroke="#444444" stroke-width="0.8"/>
<path d="M136.81,309.29L139.81,312.29M139.81,309.29L136.81,312.29M136.81,310.79H139.81" stroke="#444444" stroke-width="0.8"/>
<path d="M139.55,306.29L142.55,309.29M142.55,306.29L139.55,309.29M139.55,307.79H142.55" stroke="#444444" stroke-width="0.8"/>
<path d="M142.31,303.28L145.31,306.28M145.31,303.28L142.31,306.28M142.31,304.78H145.31" stroke="#444444" stroke-width="0.8"/>
<path d="M145.08,300.26L148.08,303.26M148.08,300.26L145.08,303.26M145.08,301.76H148.08" stroke="#444444" stroke-width="0.8"/>
<path d="M147.86,297.21L150.86,300.21M150.86,297.21L147.86,300.21M147.86,298.71H150.86" stroke="#444444" stroke-width="0.8"/>
<path d="M150.66,294.16L153.66,297.16M153.66,294.16L150.66,297.16M150.66,295.66H153.66" stroke="#444444" stroke-width="0.8"/>
<path d="M153.47,291.09L156.47,294.09M156.47,291.09L153.47,294.09M153.47,292.59H156.47" stroke="#444444" stroke-width="0.8"/>
<path d="M156.30,288.00L159.30,291.00M159.30,288.00L156.30,291.00M156.30,289.50H159.30" stroke="#444444" stroke-width="0.8"/>
<path d="M159.14,284.90L162.14,287.90M162.14,284.90L159.14,287.90M159.14,286.40H162.14" stroke="#444444" stroke-width="0.8"/>
<path d="M161.99,281.78L164.99,284.78M164.99,281.78L161.99,284.78M161.99,283.28H164.99" stroke="#444444" stroke-width="0.8"/>
<path d="M164.85,278.64L167.85,281.64M167.85,278.64L164.85,281.64M164.85,280.14H167.85" stroke="#444444" stroke-width="0.8"/>
<path d="M167.68,275.44L170.68,278.44M170.68,275.44L167.68,278.44M167.68,276.94H170.68" stroke="#444444" stroke-width="0.8"/>
<path d="M170.53,272.24L173.53,275.24M173.53,272.24L170.53,275.24M170.53,273.74H173.53" stroke="#444444" stroke-width="0.8"/>
<path d="M173.40,269.02L176.40,272.02M176.40,269.02L173.40,272.02M173.40,270.52H176.40" stroke="#444444" stroke-width="0.8"/>
<path d="M175.90,266.20L178.90,269.20M178.90,266.20L175.90,269.20M175.90,267.70H178.90" stroke="#444444" stroke-width="0.8"/>
<polyline points="70.50,371.30 71.25,371.07 72.00,370.84 72.75,370.61 73.50,370.38 74.25,370.15 75.00,369.92 75.75,369.69 76.50,369.46 77.25,369.23 78.00,369.00 78.69,368.70 79.38,368.40 80.07,368.10 80.76,367.80 81.45,367.50 82.14,367.20 82.83,366.90 83.52,366.60 84.21,366.30 84.90,366.00 85.30,365.55" fill="none" stroke="#111" stroke-width="3.6" stroke-linejoin="round" opacity="1"/>
<polyline points="73.50,371.60 74.25,371.42 75.00,371.24 75.75,371.06 76.50,370.88 77.25,370.70 78.00,370.52 78.75,370.34 79.50,370.16 80.25,369.98 81.00,369.80 81.79,369.56 82.58,369.32 83.37,369.08 84.16,368.84 84.95,368.60 85.74,368.36 86.53,368.12 87.32,367.88 88.11,367.64 88.90,367.40 89.20,367.20 89.50,367.00 89.80,366.80 90.10,366.60 90.40,366.40 90.70,366.20 91.00,366.00 91.30,365.80 91.60,365.60 91.90,365.40 94.10,363.61 96.30,361.82 98.50,360.03 100.70,358.24 102.90,356.45 105.10,354.66 107.30,352.87 109.50,351.08 111.70,349.29 113.90,347.50 115.73,345.85 117.56,344.20 119.39,342.55 121.22,340.90 123.05,339.25 124.88,337.60 126.71,335.95 128.54,334.30 130.37,332.65 132.20,331.00 137.18,326.02 142.16,321.04 147.14,316.06 152.12,311.08 157.10,306.10 162.08,301.12 167.06,296.14 172.04,291.16 177.02,286.18 182.00,281.20 185.73,277.34 189.46,273.48 193.19,269.62 196.92,265.76 200.65,261.90 204.38,258.04 208.11,254.18 211.84,250.32 215.57,246.46 219.30,242.60" fill="none" stroke="#6677ff" stroke-width="0.5" stroke-linejoin="round" opacity="1"/>
<path d="M73.50,369.90L75.20,372.96L71.80,372.96Z" fill="#8899ff" stroke="#4455ff" stroke-width="0.8" stroke-linejoin="round"/>
<path d="M74.18,369.74L75.88,372.80L72.48,372.80Z" fill="#8899ff" stroke="#4455ff" stroke-width="0.8" stroke-linejoin="round"/>
<path d="M74.87,369.57L76.57,372.63L73.17,372.63Z" fill="#8899ff" stroke="#4455ff" stroke-width="0.8" stroke-linejoin="round"/>
<path d="M75.57,369.40L77.27,372.46L73.87,372.46Z" fill="#8899ff" stroke="#4455ff" stroke-width="0.8" stroke-linejoin="round"/>
<path d="M76.27,369.23L77.97,372.29L74.57,372.29Z" fill="#8899ff" stroke="#4455ff" stroke-width="0.8" stroke-linejoin="round"/>
<path d="M76.99,369.06L78.69,372.12L75.29,372.12Z" fill="#8899ff" stroke="#4455ff" stroke-width="0.8" stroke-linejoin="round"/>
<path d="M77.71,368.89L79.41,371.95L76.01,371.95Z" fill="#8899ff" stroke="#4455ff" stroke-width="0.8" stroke-linejoin="round"/>
<path d="M78.45,368.71L80.15,371.77L76.75,371.77Z" fill="#8899ff" stroke="#4455ff" stroke-width="0.8" stroke-linejoin="round"/>
<path d="M79.19,368.53L80.89,371.59L77.49,371.59Z" fill="#8899ff" stroke="#4455ff" stroke-width="0.8" stroke-linejoin="round"/>
<path d="M79.94,368.35L81.64,371.41L78.24,371.41Z" fill="#8899ff" stroke="#4455ff" stroke-width="0.8" stroke-linejoin="round"/>
<path d="M80.70,368.17L82.40,371.23L79.00,371.23Z" fill="#8899ff" stroke="#4455ff" stroke-width="0.8" stroke-linejoin="round"/>
<path d="M81.47,367.96L83.17,371.02L79.77,371.02Z" fill="#8899ff" stroke="#4455ff" stroke-width="0.8" stroke-linejoin="round"/>
<path d="M82.23,367.73L83.93,370.79L80.53,370.79Z" fill="#8899ff" stroke="#4455ff" stroke-width="0.8" stroke-linejoin="round"/>
<path d="M83.01,367.49L84.71,370.55L81.31,370.55Z" fill="#8899ff" stroke="#4455ff" stroke-width="0.8" stroke-linejoin="round"/>
<path d="M83.80,367.25L85.50,370.31L82.10,370.31Z" fill="#8899ff" stroke="#4455ff" stroke-width="0.8" stroke-linejoin="round"/>
<path d="M84.60,367.01L86.30,370.07L82.90,370.07Z" fill="#8899ff" stroke="#4455ff" stroke-width="0.8" stroke-linejoin="round"/>
<path d="M85.40,366.76L87.10,369.82L83.70,369.82Z" fill="#8899ff" stroke="#4455ff" stroke-width="0.8" stroke-linejoin="round"/>
<path d="M86.22,366.51L87.92,369.57L84.52,369.57Z" fill="#8899ff" stroke="#4455ff" stroke-width="0.8" stroke-linejoin="round"/>
<path d="M87.05,366.26L88.75,369.32L85.35,369.32Z" fill="#8899ff" stroke="#4455ff" stroke-width="0.8" stroke-linejoin="round"/>
<path d="M87.88,366.01L89.58,369.07L86.18,369.07Z" fill="#8899ff" stroke="#4455ff" stroke-width="0.8" stroke-linejoin="round"/>
<path d="M88.73,365.75L90.43,368.81L87.03,368.81Z" fill="#8899ff" stroke="#4455ff" stroke-width="0.8" stroke-linejoin="round"/>
<path d="M89.50,365.30L91.20,368.36L87.80,368.36Z" fill="#8899ff" stroke="#4455ff" stroke-width="0.8" stroke-linejoin="round"/>
<path d="M91.26,364.13L92.96,367.19L89.56,367.19Z" fill="#8899ff" stroke="#4455ff" stroke-width="0.8" stroke-linejoin="round"/>
<path d="M94.71,361.41L96.41,364.47L93.01,364.47Z" fill="#8899ff" stroke="#4455ff" stroke-width="0.8" stroke-linejoin="round"/>
<path d="M98.13,358.63L99.83,361.69L96.43,361.69Z" fill="#8899ff" stroke="#4455ff" stroke-width="0.8" stroke-linejoin="round"/>
<path d="M101.55,355.85L103.25,358.91L99.85,358.91Z" fill="#8899ff" stroke="#4455ff" stroke-width="0.8" stroke-linejoin="round"/>
<path d="M104.97,353.07L106.67,356.13L103.27,356.13Z" fill="#8899ff" stroke="#4455ff" stroke-width="0.8" stroke-linejoin="round"/>
<path d="M108.39,350.28L110.09,353.34L106.69,353.34Z" fill="#8899ff" stroke="#4455ff" stroke-width="0.8" stroke-linejoin="round"/>
<path d="M111.82,347.49L113.52,350.55L110.12,350.55Z" fill="#8899ff" stroke="#4455ff" stroke-width="0.8" stroke-linejoin="round"/>
<path d="M115.19,344.64L116.89,347.70L113.49,347.70Z" fill="#8899ff" stroke="#4455ff" stroke-width="0.8" stroke-linejoin="round"/>
<path d="M118.47,341.68L120.17,344.74L116.77,344.74Z" fill="#8899ff" stroke="#4455ff" stroke-width="0.8" stroke-linejoin="round"/>
<path d="M121.76,338.71L123.46,341.77L120.06,341.77Z" fill="#8899ff" stroke="#4455ff" stroke-width="0.8" stroke-linejoin="round"/>
<path d="M125.05,335.75L126.75,338.81L123.35,338.81Z" fill="#8899ff" stroke="#4455ff" stroke-width="0.8" stroke-linejoin="round"/>
<path d="M128.34,332.78L130.04,335.84L126.64,335.84Z" fill="#8899ff" stroke="#4455ff" stroke-width="0.8" stroke-linejoin="round"/>
<path d="M131.63,329.81L133.33,332.87L129.93,332.87Z" fill="#8899ff" stroke="#4455ff" stroke-width="0.8" stroke-linejoin="round"/>
<path d="M134.80,326.70L136.50,329.76L133.10,329.76Z" fill="#8899ff" stroke="#4455ff" stroke-width="0.8" stroke-linejoin="round"/>
<path d="M137.94,323.56L139.64,326.62L136.24,326.62Z" fill="#8899ff" stroke="#4455ff" stroke-width="0.8" stroke-linejoin="round"/>
<path d="M141.08,320.42L142.78,323.48L139.38,323.48Z" fill="#8899ff" stroke="#4455ff" stroke-width="0.8" stroke-linejoin="round"/>
<path d="M144.23,317.27L145.93,320.33L142.53,320.33Z" fill="#8899ff" stroke="#4455ff" stroke-width="0.8" stroke-linejoin="round"/>
<path d="M147.37,314.13L149.07,317.19L145.67,317.19Z" fill="#8899ff" stroke="#4455ff" stroke-width="0.8" stroke-linejoin="round"/>
<path d="M150.52,310.98L152.22,314.04L148.82,314.04Z" fill="#8899ff" stroke="#4455ff" stroke-width="0.8" stroke-linejoin="round"/>
<path d="M153.68,307.82L155.38,310.88L151.98,310.88Z" fill="#8899ff" stroke="#4455ff" stroke-width="0.8" stroke-linejoin="round"/>
<path d="M156.83,304.67L158.53,307.73L155.13,307.73Z" fill="#8899ff" stroke="#4455ff" stroke-width="0.8" stroke-linejoin="round"/>
<path d="M159.99,301.51L161.69,304.57L158.29,304.57Z" fill="#8899ff" stroke="#4455ff" stroke-width="0.8" stroke-linejoin="round"/>
<path d="M163.14,298.36L164.84,301.42L161.44,301.42Z" fill="#8899ff" stroke="#4455ff" stroke-width="0.8" stroke-linejoin="round"/>
<path d="M166.30,295.20L168.00,298.26L164.60,298.26Z" fill="#8899ff" stroke="#4455ff" stroke-width="0.8" stroke-linejoin="round"/>
<path d="M169.47,292.03L171.17,295.09L167.77,295.09Z" fill="#8899ff" stroke="#4455ff" stroke-width="0.8" stroke-linejoin="round"/>
<path d="M172.63,288.87L174.33,291.93L170.93,291.93Z" fill="#8899ff" stroke="#4455ff" stroke-width="0.8" stroke-linejoin="round"/>
<path d="M175.80,285.70L177.50,288.76L174.10,288.76Z" fill="#8899ff" stroke="#4455ff" stroke-width="0.8" stroke-linejoin="round"/>
<path d="M178.97,282.53L180.67,285.59L177.27,285.59Z" fill="#8899ff" stroke="#4455ff" stroke-width="0.8" stroke-linejoin="round"/>
<path d="M182.14,279.36L183.84,282.42L180.44,282.42Z" fill="#8899ff" stroke="#4455ff" stroke-width="0.8" stroke-linejoin="round"/>
<path d="M185.26,276.13L186.96,279.19L183.56,279.19Z" fill="#8899ff" stroke="#4455ff" stroke-width="0.8" stroke-linejoin="round"/>
<path d="M188.38,272.90L190.08,275.96L186.68,275.96Z" fill="#8899ff" stroke="#4455ff" stroke-width="0.8" stroke-linejoin="round"/>
<path d="M191.50,269.67L193.20,272.73L189.80,272.73Z" fill="#8899ff" stroke="#4455ff" stroke-width="0.8" stroke-linejoin="round"/>
<path d="M194.63,266.43L196.33,269.49L192.93,269.49Z" fill="#8899ff" stroke="#4455ff" stroke-width="0.8" stroke-linejoin="round"/>
<path d="M197.76,263.19L199.46,266.25L196.06,266.25Z" fill="#8899ff" stroke="#4455ff" stroke-width="0.8" stroke-linejoin="round"/>
<path d="M200.89,259.95L202.59,263.01L199.19,263.01Z" fill="#8899ff" stroke="#4455ff" stroke-width="0.8" stroke-linejoin="round"/>
<path d="M204.02,256.71L205.72,259.77L202.32,259.77Z" fill="#8899ff" stroke="#4455ff" stroke-width="0.8" stroke-linejoin="round"/>
<path d="M207.15,253.47L208.85,256.53L205.45,256.53Z" fill="#8899ff" stroke="#4455ff" stroke-width="0.8" stroke-linejoin="round"/>
<path d="M210.29,250.22L211.99,253.28L208.59,253.28Z" fill="#8899ff" stroke="#4455ff" stroke-width="0.8" stroke-linejoin="round"/>
<path d="M213.43,246.97L215.13,250.03L211.73,250.03Z" fill="#8899ff" stroke="#4455ff" stroke-width="0.8" stroke-linejoin="round"/>
<path d="M216.57,243.72L218.27,246.78L214.87,246.78Z" fill="#8899ff" stroke="#4455ff" stroke-width="0.8" stroke-linejoin="round"/>
<path d="M219.30,240.90L221.00,243.96L217.60,243.96Z" fill="#8899ff" stroke="#4455ff" stroke-width="0.8" stroke-linejoin="round"/>
<polyline points="73.50,371.60 74.25,371.42 75.00,371.24 75.75,371.06 76.50,370.88 77.25,370.70 78.00,370.52 78.75,370.34 79.50,370.16 80.25,369.98 81.00,369.80 81.79,369.56 82.58,369.32 83.37,369.08 84.16,368.84 84.95,368.60 85.74,368.36 86.53,368.12 87.32,367.88 88.11,367.64 88.90,367.40" fill="none" stroke="#0000ff" stroke-width="4.2" stroke-linejoin="round" opacity="1"/>
<polyline points="89.40,372.20 90.46,372.04 91.52,371.88 92.58,371.72 93.64,371.56 94.70,371.40 95.76,371.24 96.82,371.08 97.88,370.92 98.94,370.76 100.00,370.60 100.99,370.43 101.98,370.26 102.97,370.09 103.96,369.92 104.95,369.75 105.94,369.58 106.93,369.41 107.92,369.24 108.91,369.07 109.90,368.90 110.40,368.65 110.90,368.40 111.40,368.15 111.90,367.90 112.40,367.65 112.90,367.40 113.40,367.15 113.90,366.90 114.40,366.65 114.90,366.40 115.39,366.20 115.88,366.00 116.37,365.80 116.86,365.60 117.35,365.40 117.84,365.20 118.33,365.00 118.82,364.80 119.31,364.60 119.80,364.40 120.20,364.06 120.60,363.72 121.00,363.38 121.40,363.04 121.80,362.70 122.20,362.36 122.60,362.02 123.00,361.68 123.40,361.34 123.80,361.00 124.28,360.25 124.76,359.50 125.24,358.75 125.72,358.00 126.20,357.25 126.68,356.50 127.16,355.75 127.64,355.00 128.12,354.25 128.60,353.50 129.91,351.96 131.22,350.42 132.53,348.88 133.84,347.34 135.15,345.80 136.46,344.26 137.77,342.72 139.08,341.18 140.39,339.64 141.70,338.10 147.39,332.65 153.08,327.20 158.77,321.75 164.46,316.30 170.15,310.85 175.84,305.40 181.53,299.95 187.22,294.50 192.91,289.05 198.60,283.60 204.93,277.82 211.26,272.04 217.59,266.26 223.92,260.48 230.25,254.70 236.58,248.92 242.91,243.14 249.24,237.36 255.57,231.58 261.90,225.80" fill="none" stroke="#ff88ff" stroke-width="0.5" stroke-linejoin="round" opacity="1"/>
<circle cx="89.40" cy="372.20" r="1.45" fill="#ff99ff" stroke="#ff55ff" stroke-width="0.9"/>
<circle cx="90.09" cy="372.10" r="1.45" fill="#ff99ff" stroke="#ff55ff" stroke-width="0.9"/>
<circle cx="90.79" cy="371.99" r="1.45" fill="#ff99ff" stroke="#ff55ff" stroke-width="0.9"/>
<circle cx="91.50" cy="371.88" r="1.45" fill="#ff99ff" stroke="#ff55ff" stroke-width="0.9"/>
<circle cx="92.21" cy="371.78" r="1.45" fill="#ff99ff" stroke="#ff55ff" stroke-width="0.9"/>
<circle cx="92.93" cy="371.67" r="1.45" fill="#ff99ff" stroke="#ff55ff" stroke-width="0.9"/>
<circle cx="93.66" cy="371.56" r="1.45" fill="#ff99ff" stroke="#ff55ff" stroke-width="0.9"/>
<circle cx="94.39" cy="371.45" r="1.45" fill="#ff99ff" stroke="#ff55ff" stroke-width="0.9"/>
<circle cx="95.14" cy="371.33" r="1.45" fill="#ff99ff" stroke="#ff55ff" stroke-width="0.9"/>
<circle cx="95.88" cy="371.22" r="1.45" fill="#ff99ff" stroke="#ff55ff" stroke-width="0.9"/>
<circle cx="96.64" cy="371.11" r="1.45" fill="#ff99ff" stroke="#ff55ff" stroke-width="0.9"/>
<circle cx="97.41" cy="370.99" r="1.45" fill="#ff99ff" stroke="#ff55ff" stroke-width="0.9"/>
<circle cx="98.18" cy="370.87" r="1.45" fill="#ff99ff" stroke="#ff55ff" stroke-width="0.9"/>
<circle cx="98.96" cy="370.76" r="1.45" fill="#ff99ff" stroke="#ff55ff" stroke-width="0.9"/>
<circle cx="99.75" cy="370.64" r="1.45" fill="#ff99ff" stroke="#ff55ff" stroke-width="0.9"/>
<circle cx="100.54" cy="370.51" r="1.45" fill="#ff99ff" stroke="#ff55ff" stroke-width="0.9"/>
<circle cx="101.34" cy="370.37" r="1.45" fill="#ff99ff" stroke="#ff55ff" stroke-width="0.9"/>
<circle cx="102.15" cy="370.23" r="1.45" fill="#ff99ff" stroke="#ff55ff" stroke-width="0.9"/>
<circle cx="102.97" cy="370.09" r="1.45" fill="#ff99ff" stroke="#ff55ff" stroke-width="0.9"/>
<circle cx="103.79" cy="369.95" r="1.45" fill="#ff99ff" stroke="#ff55ff" stroke-width="0.9"/>
<circle cx="104.63" cy="369.81" r="1.45" fill="#ff99ff" stroke="#ff55ff" stroke-width="0.9"/>
<circle cx="105.47" cy="369.66" r="1.45" fill="#ff99ff" stroke="#ff55ff" stroke-width="0.9"/>
<circle cx="106.32" cy="369.52" r="1.45" fill="#ff99ff" stroke="#ff55ff" stroke-width="0.9"/>
<circle cx="107.18" cy="369.37" r="1.45" fill="#ff99ff" stroke="#ff55ff" stroke-width="0.9"/>
<circle cx="108.04" cy="369.22" r="1.45" fill="#ff99ff" stroke="#ff55ff" stroke-width="0.9"/>
<circle cx="108.92" cy="369.07" r="1.45" fill="#ff99ff" stroke="#ff55ff" stroke-width="0.9"/>
<circle cx="109.80" cy="368.92" r="1.45" fill="#ff99ff" stroke="#ff55ff" stroke-width="0.9"/>
<circle cx="111.72" cy="367.99" r="1.45" fill="#ff99ff" stroke="#ff55ff" stroke-width="0.9"/>
<circle cx="115.87" cy="366.00" r="1.45" fill="#ff99ff" stroke="#ff55ff" stroke-width="0.9"/>
<circle cx="120.08" cy="364.16" r="1.45" fill="#ff99ff" stroke="#ff55ff" stroke-width="0.9"/>
<circle cx="123.60" cy="361.17" r="1.45" fill="#ff99ff" stroke="#ff55ff" stroke-width="0.9"/>
<circle cx="126.15" cy="357.33" r="1.45" fill="#ff99ff" stroke="#ff55ff" stroke-width="0.9"/>
<circle cx="128.66" cy="353.43" r="1.45" fill="#ff99ff" stroke="#ff55ff" stroke-width="0.9"/>
<circle cx="131.67" cy="349.89" r="1.45" fill="#ff99ff" stroke="#ff55ff" stroke-width="0.9"/>
<circle cx="134.68" cy="346.35" r="1.45" fill="#ff99ff" stroke="#ff55ff" stroke-width="0.9"/>
<circle cx="137.70" cy="342.80" r="1.45" fill="#ff99ff" stroke="#ff55ff" stroke-width="0.9"/>
<circle cx="140.73" cy="339.25" r="1.45" fill="#ff99ff" stroke="#ff55ff" stroke-width="0.9"/>
<circle cx="143.99" cy="335.91" r="1.45" fill="#ff99ff" stroke="#ff55ff" stroke-width="0.9"/>
<circle cx="147.37" cy="332.67" r="1.45" fill="#ff99ff" stroke="#ff55ff" stroke-width="0.9"/>
<circle cx="150.76" cy="329.42" r="1.45" fill="#ff99ff" stroke="#ff55ff" stroke-width="0.9"/>
<circle cx="154.16" cy="326.17" r="1.45" fill="#ff99ff" stroke="#ff55ff" stroke-width="0.9"/>
<circle cx="157.56" cy="322.91" r="1.45" fill="#ff99ff" stroke="#ff55ff" stroke-width="0.9"/>
<circle cx="160.97" cy="319.64" r="1.45" fill="#ff99ff" stroke="#ff55ff" stroke-width="0.9"/>
<circle cx="164.38" cy="316.37" r="1.45" fill="#ff99ff" stroke="#ff55ff" stroke-width="0.9"/>
<circle cx="167.80" cy="313.10" r="1.45" fill="#ff99ff" stroke="#ff55ff" stroke-width="0.9"/>
<circle cx="171.23" cy="309.82" r="1.45" fill="#ff99ff" stroke="#ff55ff" stroke-width="0.9"/>
<circle cx="174.66" cy="306.53" r="1.45" fill="#ff99ff" stroke="#ff55ff" stroke-width="0.9"/>
<circle cx="178.10" cy="303.24" r="1.45" fill="#ff99ff" stroke="#ff55ff" stroke-width="0.9"/>
<circle cx="181.54" cy="299.94" r="1.45" fill="#ff99ff" stroke="#ff55ff" stroke-width="0.9"/>
<circle cx="184.99" cy="296.63" r="1.45" fill="#ff99ff" stroke="#ff55ff" stroke-width="0.9"/>
<circle cx="188.45" cy="293.32" r="1.45" fill="#ff99ff" stroke="#ff55ff" stroke-width="0.9"/>
<circle cx="191.91" cy="290.00" r="1.45" fill="#ff99ff" stroke="#ff55ff" stroke-width="0.9"/>
<circle cx="195.38" cy="286.68" r="1.45" fill="#ff99ff" stroke="#ff55ff" stroke-width="0.9"/>
<circle cx="198.87" cy="283.36" r="1.45" fill="#ff99ff" stroke="#ff55ff" stroke-width="0.9"/>
<circle cx="202.43" cy="280.11" r="1.45" fill="#ff99ff" stroke="#ff55ff" stroke-width="0.9"/>
<circle cx="205.99" cy="276.85" r="1.45" fill="#ff99ff" stroke="#ff55ff" stroke-width="0.9"/>
<circle cx="209.57" cy="273.59" r="1.45" fill="#ff99ff" stroke="#ff55ff" stroke-width="0.9"/>
<circle cx="213.15" cy="270.32" r="1.45" fill="#ff99ff" stroke="#ff55ff" stroke-width="0.9"/>
<circle cx="216.73" cy="267.04" r="1.45" fill="#ff99ff" stroke="#ff55ff" stroke-width="0.9"/>
<circle cx="220.33" cy="263.76" r="1.45" fill="#ff99ff" stroke="#ff55ff" stroke-width="0.9"/>
<circle cx="223.92" cy="260.48" r="1.45" fill="#ff99ff" stroke="#ff55ff" stroke-width="0.9"/>
<circle cx="227.53" cy="257.18" r="1.45" fill="#ff99ff" stroke="#ff55ff" stroke-width="0.9"/>
<circle cx="231.14" cy="253.89" r="1.45" fill="#ff99ff" stroke="#ff55ff" stroke-width="0.9"/>
<circle cx="234.76" cy="250.58" r="1.45" fill="#ff99ff" stroke="#ff55ff" stroke-width="0.9"/>
<circle cx="238.39" cy="247.27" r="1.45" fill="#ff99ff" stroke="#ff55ff" stroke-width="0.9"/>
<circle cx="242.02" cy="243.96" r="1.45" fill="#ff99ff" stroke="#ff55ff" stroke-width="0.9"/>
<circle cx="245.66" cy="240.63" r="1.45" fill="#ff99ff" stroke="#ff55ff" stroke-width="0.9"/>
<circle cx="249.30" cy="237.31" r="1.45" fill="#ff99ff" stroke="#ff55ff" stroke-width="0.9"/>
<circle cx="252.95" cy="233.97" r="1.45" fill="#ff99ff" stroke="#ff55ff" stroke-width="0.9"/>
<circle cx="256.61" cy="230.63" r="1.45" fill="#ff99ff" stroke="#ff55ff" stroke-width="0.9"/>
<circle cx="260.27" cy="227.29" r="1.45" fill="#ff99ff" stroke="#ff55ff" stroke-width="0.9"/>
<circle cx="261.90" cy="225.80" r="1.45" fill="#ff99ff" stroke="#ff55ff" stroke-width="0.9"/>
<polyline points="89.40,372.20 90.46,372.04 91.52,371.88 92.58,371.72 93.64,371.56 94.70,371.40 95.76,371.24 96.82,371.08 97.88,370.92 98.94,370.76 100.00,370.60 100.99,370.43 101.98,370.26 102.97,370.09 103.96,369.92 104.95,369.75 105.94,369.58 106.93,369.41 107.92,369.24 108.91,369.07 109.90,368.90" fill="none" stroke="#ff11ff" stroke-width="4.0" stroke-linejoin="round" opacity="1"/>
<path d="M48,222.7V395.3M293,222.7V395.3" stroke="#666" stroke-width="1.5"/>
<path d="M47.25,222.7H293.75M47.25,395.3H293.75" stroke="#333" stroke-width="1.3"/>
<line x1="209.1" x2="229.6" y1="326.6" y2="326.6" stroke="#333" stroke-width="0.8"/>
<path d="M217.80,324.80L221.40,328.40M221.40,324.80L217.80,328.40M217.80,326.60H221.40" stroke="#555555" stroke-width="0.8"/>
<text x="231.60" y="329.30" style="font-family:&quot;Liberation Sans&quot;,sans-serif;font-size:7.6px;font-weight:bold" text-anchor="start" fill="#000" class="th">250°C</text>
<line x1="209.1" x2="229.6" y1="341.6" y2="341.6" stroke="#4455ff" stroke-width="0.8"/>
<path d="M219.60,339.80L221.40,343.04L217.80,343.04Z" fill="#4455ff"/>
<text x="231.60" y="344.30" style="font-family:&quot;Liberation Sans&quot;,sans-serif;font-size:7.6px;font-weight:bold" text-anchor="start" fill="#000" class="th">240°C</text>
<line x1="209.1" x2="229.6" y1="356.9" y2="356.9" stroke="#ff55ff" stroke-width="0.8"/>
<circle cx="219.60" cy="356.90" r="1.80" fill="#ff55ff"/>
<text x="231.60" y="359.60" style="font-family:&quot;Liberation Sans&quot;,sans-serif;font-size:7.6px;font-weight:bold" text-anchor="start" fill="#000" class="th">230°C</text>
<text x="315.00" y="10.60" style="font-family:&quot;Liberation Serif&quot;,serif;font-size:15px;font-weight:normal" text-anchor="start" fill="#000" >(c)</text>
<text x="346.60" y="198.30" style="font-family:&quot;Liberation Sans&quot;,sans-serif;font-size:6.5px;font-weight:bold" text-anchor="middle" fill="#000" class="ns">0</text>
<text x="381.50" y="198.30" style="font-family:&quot;Liberation Sans&quot;,sans-serif;font-size:6.5px;font-weight:bold" text-anchor="middle" fill="#000" class="ns">10</text>
<text x="416.40" y="198.30" style="font-family:&quot;Liberation Sans&quot;,sans-serif;font-size:6.5px;font-weight:bold" text-anchor="middle" fill="#000" class="ns">20</text>
<text x="451.30" y="198.30" style="font-family:&quot;Liberation Sans&quot;,sans-serif;font-size:6.5px;font-weight:bold" text-anchor="middle" fill="#000" class="ns">30</text>
<text x="486.20" y="198.30" style="font-family:&quot;Liberation Sans&quot;,sans-serif;font-size:6.5px;font-weight:bold" text-anchor="middle" fill="#000" class="ns">40</text>
<text x="521.10" y="198.30" style="font-family:&quot;Liberation Sans&quot;,sans-serif;font-size:6.5px;font-weight:bold" text-anchor="middle" fill="#000" class="ns">50</text>
<text x="556.00" y="198.30" style="font-family:&quot;Liberation Sans&quot;,sans-serif;font-size:6.5px;font-weight:bold" text-anchor="middle" fill="#000" class="ns">60</text>
<text x="590.90" y="198.30" style="font-family:&quot;Liberation Sans&quot;,sans-serif;font-size:6.5px;font-weight:bold" text-anchor="middle" fill="#000" class="ns">70</text>
<text x="343.20" y="192.00" style="font-family:&quot;Liberation Sans&quot;,sans-serif;font-size:6.8px;font-weight:bold" text-anchor="end" fill="#000" class="ns">0</text>
<line x1="343.5" x2="346.2" y1="189.60" y2="189.60" stroke="#999" stroke-width="0.5"/>
<text x="343.20" y="157.48" style="font-family:&quot;Liberation Sans&quot;,sans-serif;font-size:6.8px;font-weight:bold" text-anchor="end" fill="#000" class="ns">5</text>
<line x1="343.5" x2="346.2" y1="155.08" y2="155.08" stroke="#999" stroke-width="0.5"/>
<text x="343.20" y="122.96" style="font-family:&quot;Liberation Sans&quot;,sans-serif;font-size:6.8px;font-weight:bold" text-anchor="end" fill="#000" class="ns">10</text>
<line x1="343.5" x2="346.2" y1="120.56" y2="120.56" stroke="#999" stroke-width="0.5"/>
<text x="343.20" y="88.44" style="font-family:&quot;Liberation Sans&quot;,sans-serif;font-size:6.8px;font-weight:bold" text-anchor="end" fill="#000" class="ns">15</text>
<line x1="343.5" x2="346.2" y1="86.04" y2="86.04" stroke="#999" stroke-width="0.5"/>
<text x="343.20" y="53.92" style="font-family:&quot;Liberation Sans&quot;,sans-serif;font-size:6.8px;font-weight:bold" text-anchor="end" fill="#000" class="ns">20</text>
<line x1="343.5" x2="346.2" y1="51.52" y2="51.52" stroke="#999" stroke-width="0.5"/>
<text x="343.20" y="19.40" style="font-family:&quot;Liberation Sans&quot;,sans-serif;font-size:6.8px;font-weight:bold" text-anchor="end" fill="#000" class="ns">25</text>
<line x1="343.5" x2="346.2" y1="17.00" y2="17.00" stroke="#999" stroke-width="0.5"/>
<text x="451.3" y="206.3" style="font-family:&quot;Liberation Serif&quot;,serif;font-size:7.8px;font-weight:bold">Z <tspan dy="2.6" style="font-size:7.4px">re</tspan><tspan dy="-2.6"> (kΩ)</tspan></text>
<text transform="translate(333,119.7) rotate(-90)" style="font-family:&quot;Liberation Serif&quot;,serif;font-size:8.8px;font-weight:bold">-Z<tspan dy="2.7" style="font-size:7.6px">im</tspan><tspan dy="-2.7"> (kΩ)</tspan></text>
<text x="435.00" y="24.10" style="font-family:&quot;Liberation Sans&quot;,sans-serif;font-size:7.0px;font-weight:bold">4 MHz</text>
<path d="M457.74,21.79H463.69M459.42,20.39L457.74,21.79L459.42,23.19M462.01,20.39L463.69,21.79L462.01,23.19" fill="none" stroke="#000" stroke-width="0.77"/>
<text x="466.21" y="24.10" style="font-family:&quot;Liberation Sans&quot;,sans-serif;font-size:7.0px;font-weight:bold">50 Hz</text>
<polyline points="379.30,106.59 379.53,105.98 379.76,105.36 379.99,104.74 380.22,104.11 380.46,103.49 380.69,102.86 380.92,102.22 381.16,101.59 381.40,100.95 381.63,100.31 381.87,99.67 382.11,99.03 382.35,98.38 382.59,97.73 382.84,97.08 383.08,96.43 383.33,95.78 383.58,95.12 383.83,94.46 384.08,93.80 384.33,93.14 384.59,92.48 384.84,91.82 385.10,91.16 385.36,90.49 385.63,89.83 385.89,89.16 386.16,88.49 386.43,87.83 386.70,87.16 386.97,86.49 387.25,85.82 387.53,85.15 387.81,84.48 388.09,83.81 388.38,83.14 388.67,82.47 388.96,81.80 389.26,81.13 389.55,80.46 389.86,79.79 390.16,79.12 390.47,78.46 390.78,77.79 391.09,77.12 391.41,76.46 391.73,75.79 392.05,75.13 392.38,74.46 392.71,73.80 393.04,73.14 393.38,72.48 393.72,71.83 394.07,71.17 394.42,70.52 394.77,69.87 395.13,69.22 395.49,68.57 395.86,67.92 396.23,67.28 396.60,66.63 396.98,65.99 397.36,65.36 397.75,64.72 398.14,64.09 398.53,63.46 398.93,62.83 399.34,62.21 399.75,61.58 400.16,60.97 400.58,60.35 401.01,59.74 401.44,59.13 401.87,58.52 402.31,57.92 402.75,57.32 403.20,56.73 403.66,56.14 404.12,55.55 404.58,54.96 405.05,54.38 405.53,53.81 406.01,53.24 406.50,52.67 406.99,52.11 407.48,51.56 407.98,51.01 408.49,50.46 409.00,49.92 409.51,49.38 410.03,48.86 410.55,48.33 411.08,47.82 411.61,47.30 412.15,46.80 412.69,46.30 413.24,45.81 413.79,45.33 414.34,44.85 414.90,44.38 415.46,43.91 416.03,43.46 416.60,43.01 417.18,42.57 417.76,42.14 418.34,41.71 418.93,41.29 419.52,40.89 420.11,40.49 420.71,40.10 421.31,39.71 421.92,39.34 422.53,38.97 423.14,38.62 423.76,38.27 424.38,37.94 425.01,37.61 425.63,37.29 426.27,36.99 426.90,36.69 427.54,36.41 428.18,36.13 428.82,35.87 429.47,35.61 430.12,35.37 430.78,35.14 431.43,34.91 432.09,34.70 432.76,34.51 433.42,34.32 434.09,34.14 434.76,33.98 435.44,33.83 436.11,33.69 436.79,33.56 437.47,33.44 438.15,33.33 438.84,33.23 439.52,33.14 440.21,33.07 440.90,33.01 441.59,32.95 442.28,32.91 442.97,32.88 443.66,32.86 444.36,32.84 445.05,32.84 445.75,32.85 446.44,32.87 447.14,32.91 447.83,32.95 448.53,33.00 449.22,33.06 449.92,33.13 450.61,33.22 451.31,33.31 452.00,33.41 452.69,33.52 453.38,33.65 454.07,33.78 454.76,33.92 455.45,34.07 456.14,34.24 456.82,34.41 457.51,34.59 458.19,34.78 458.87,34.98 459.55,35.19 460.22,35.41 460.90,35.64 461.57,35.88 462.24,36.12 462.90,36.38 463.56,36.65 464.22,36.92 464.88,37.21 465.53,37.50 466.18,37.80 466.83,38.12 467.47,38.44 468.11,38.77 468.75,39.10 469.38,39.45 470.01,39.80 470.63,40.17 471.25,40.54 471.87,40.92 472.48,41.30 473.09,41.69 473.70,42.09 474.30,42.50 474.90,42.91 475.49,43.33 476.08,43.76 476.66,44.19 477.24,44.62 477.82,45.07 478.40,45.51 478.96,45.97 479.53,46.42 480.09,46.89 480.65,47.35 481.20,47.82 481.75,48.30 482.29,48.77 482.83,49.25 483.37,49.74 483.90,50.23 484.43,50.72 484.95,51.21 485.47,51.71 485.99,52.21 486.50,52.72 487.01,53.23 487.51,53.74 488.01,54.25 488.51,54.77 489.00,55.29 489.49,55.81 489.97,56.34 490.45,56.87 490.93,57.40 491.40,57.94 491.87,58.48 492.33,59.02 492.79,59.56 493.25,60.11 493.70,60.66 494.15,61.21 494.60,61.77 495.04,62.33 495.48,62.89 495.92,63.46 496.35,64.02 496.78,64.59 497.20,65.16 497.62,65.74 498.04,66.32 498.45,66.90 498.86,67.48 499.27,68.07 499.67,68.65 500.07,69.25 500.47,69.84 500.86,70.43 501.25,71.03 501.64,71.63 502.02,72.23 502.40,72.84 502.78,73.45 503.15,74.05 503.52,74.67 503.89,75.28 504.26,75.90 504.62,76.51 504.97,77.13 505.33,77.76 505.68,78.38 506.03,79.01 506.37,79.64 506.71,80.27 507.05,80.90 507.39,81.54 507.72,82.17 508.05,82.81 508.38,83.45 508.70,84.09 509.02,84.74 509.34,85.38 509.66,86.03 509.97,86.68 510.28,87.33 510.59,87.98 510.89,88.64 511.19,89.29 511.49,89.95 511.79,90.61 512.08,91.27 512.37,91.94 512.66,92.60 512.94,93.27 513.23,93.93 513.51,94.60 513.78,95.27 514.06,95.94 514.33,96.61 514.60,97.29 514.87,97.96 515.13,98.64 515.40,99.32 515.66,100.00 515.91,100.68 516.17,101.36 516.42,102.04 516.67,102.73 516.92,103.41 517.17,104.10 517.41,104.78 517.65,105.47 517.89,106.16 518.13,106.85 518.36,107.54 518.59,108.23 518.82,108.93 519.05,109.62 519.28,110.31 519.50,111.01 519.72,111.71 519.94,112.40 520.16,113.10 520.38,113.80 520.59,114.50 520.80,115.20 521.01,115.90 521.22,116.60 521.42,117.30 521.63,118.00 521.83,118.70 522.03,119.41 522.23,120.11 522.42,120.81 522.62,121.52 522.81,122.22 523.00,122.93 523.19,123.63 523.38,124.34 523.56,125.05 523.75,125.75 523.93,126.46 524.11,127.17 524.29,127.87 524.47,128.58 524.64,129.29 524.82,130.00 524.99,130.70 525.16,131.41 525.33,132.12 525.50,132.83 525.67,133.54 525.83,134.24 526.00,134.95 526.16,135.66 526.32,136.37 526.48,137.07 526.64,137.78 526.80,138.49 526.96,139.19 527.11,139.90 527.26,140.61 527.42,141.31 527.57,142.02 527.72,142.72 527.87,143.43 528.01,144.13 528.16,144.84 528.31,145.54 528.45,146.24 528.59,146.95 528.74,147.65 528.88,148.35 529.02,149.05 529.16,149.75 529.30,150.45 529.43,151.15 529.57,151.85 529.70,152.55 529.84,153.24 529.97,153.94 530.11,154.63 530.24,155.33 530.37,156.02 530.50,156.71 530.63,157.41 530.76,158.10 530.89,158.79 531.02,159.48 531.14,160.16 531.27,160.85 531.39,161.54 531.52,162.22 531.64,162.91 531.77,163.59 531.89,164.27 532.01,164.95 532.14,165.63 532.26,166.31 532.38,166.98 532.50,167.66 532.62,168.33 532.74,169.01 532.86,169.68 532.98,170.35 533.10,171.01 533.22,171.68 533.34,172.35 533.45,173.01 533.57,173.67 533.69,174.33 533.81,174.99" fill="none" stroke="#66eeff" stroke-width="0.6" stroke-linejoin="round" stroke-dasharray="1.2,0.8" opacity="1"/>
<path d="M379.30,104.44L381.45,106.59L379.30,108.74L377.15,106.59Z" fill="#00e5ff"/>
<path d="M380.00,102.57L382.15,104.72L380.00,106.87L377.85,104.72Z" fill="#00e5ff"/>
<path d="M380.71,100.66L382.86,102.81L380.71,104.96L378.56,102.81Z" fill="#00e5ff"/>
<path d="M381.43,98.72L383.58,100.87L381.43,103.02L379.28,100.87Z" fill="#00e5ff"/>
<path d="M382.16,96.74L384.31,98.89L382.16,101.04L380.01,98.89Z" fill="#00e5ff"/>
<path d="M382.91,94.74L385.06,96.89L382.91,99.04L380.76,96.89Z" fill="#00e5ff"/>
<path d="M383.68,92.70L385.83,94.85L383.68,97.00L381.53,94.85Z" fill="#00e5ff"/>
<path d="M384.47,90.62L386.62,92.77L384.47,94.92L382.32,92.77Z" fill="#00e5ff"/>
<path d="M385.29,88.52L387.44,90.67L385.29,92.82L383.14,90.67Z" fill="#00e5ff"/>
<path d="M386.14,86.38L388.29,88.53L386.14,90.68L383.99,88.53Z" fill="#00e5ff"/>
<path d="M387.02,84.22L389.17,86.37L387.02,88.52L384.87,86.37Z" fill="#00e5ff"/>
<path d="M387.94,82.02L390.09,84.17L387.94,86.32L385.79,84.17Z" fill="#00e5ff"/>
<path d="M388.90,79.80L391.05,81.95L388.90,84.10L386.75,81.95Z" fill="#00e5ff"/>
<path d="M389.90,77.55L392.05,79.70L389.90,81.85L387.75,79.70Z" fill="#00e5ff"/>
<path d="M390.95,75.28L393.10,77.43L390.95,79.58L388.80,77.43Z" fill="#00e5ff"/>
<path d="M392.05,72.98L394.20,75.13L392.05,77.28L389.90,75.13Z" fill="#00e5ff"/>
<path d="M393.21,70.66L395.36,72.81L393.21,74.96L391.06,72.81Z" fill="#00e5ff"/>
<path d="M394.44,68.33L396.59,70.48L394.44,72.63L392.29,70.48Z" fill="#00e5ff"/>
<path d="M395.74,65.97L397.89,68.12L395.74,70.27L393.59,68.12Z" fill="#00e5ff"/>
<path d="M397.12,63.61L399.27,65.76L397.12,67.91L394.97,65.76Z" fill="#00e5ff"/>
<path d="M398.57,61.25L400.72,63.40L398.57,65.55L396.42,63.40Z" fill="#00e5ff"/>
<path d="M400.12,58.88L402.27,61.03L400.12,63.18L397.97,61.03Z" fill="#00e5ff"/>
<path d="M401.77,56.52L403.92,58.67L401.77,60.82L399.62,58.67Z" fill="#00e5ff"/>
<path d="M403.52,54.17L405.67,56.32L403.52,58.47L401.37,56.32Z" fill="#00e5ff"/>
<path d="M405.38,51.84L407.53,53.99L405.38,56.14L403.23,53.99Z" fill="#00e5ff"/>
<path d="M407.37,49.53L409.52,51.68L407.37,53.83L405.22,51.68Z" fill="#00e5ff"/>
<path d="M409.52,47.22L411.67,49.37L409.52,51.52L407.37,49.37Z" fill="#00e5ff"/>
<path d="M411.83,44.95L413.98,47.10L411.83,49.25L409.68,47.10Z" fill="#00e5ff"/>
<path d="M414.32,42.71L416.47,44.86L414.32,47.01L412.17,44.86Z" fill="#00e5ff"/>
<path d="M417.01,40.55L419.16,42.70L417.01,44.85L414.86,42.70Z" fill="#00e5ff"/>
<path d="M419.90,38.48L422.05,40.63L419.90,42.78L417.75,40.63Z" fill="#00e5ff"/>
<path d="M423.02,36.54L425.17,38.69L423.02,40.84L420.87,38.69Z" fill="#00e5ff"/>
<path d="M426.37,34.79L428.52,36.94L426.37,39.09L424.22,36.94Z" fill="#00e5ff"/>
<path d="M429.96,33.28L432.11,35.43L429.96,37.58L427.81,35.43Z" fill="#00e5ff"/>
<path d="M433.79,32.08L435.94,34.23L433.79,36.38L431.64,34.23Z" fill="#00e5ff"/>
<path d="M437.84,31.23L439.99,33.38L437.84,35.53L435.69,33.38Z" fill="#00e5ff"/>
<path d="M442.08,30.77L444.23,32.92L442.08,35.07L439.93,32.92Z" fill="#00e5ff"/>
<path d="M446.48,30.73L448.63,32.88L446.48,35.03L444.33,32.88Z" fill="#00e5ff"/>
<path d="M451.03,31.12L453.18,33.27L451.03,35.42L448.88,33.27Z" fill="#00e5ff"/>
<path d="M455.83,32.01L457.98,34.16L455.83,36.31L453.68,34.16Z" fill="#00e5ff"/>
<path d="M460.81,33.46L462.96,35.61L460.81,37.76L458.66,35.61Z" fill="#00e5ff"/>
<path d="M465.94,35.54L468.09,37.69L465.94,39.84L463.79,37.69Z" fill="#00e5ff"/>
<path d="M471.14,38.32L473.29,40.47L471.14,42.62L468.99,40.47Z" fill="#00e5ff"/>
<path d="M476.44,41.87L478.59,44.02L476.44,46.17L474.29,44.02Z" fill="#00e5ff"/>
<path d="M481.84,46.23L483.99,48.38L481.84,50.53L479.69,48.38Z" fill="#00e5ff"/>
<path d="M487.33,51.40L489.48,53.55L487.33,55.70L485.18,53.55Z" fill="#00e5ff"/>
<path d="M492.85,57.47L495.00,59.62L492.85,61.77L490.70,59.62Z" fill="#00e5ff"/>
<path d="M498.15,64.33L500.30,66.48L498.15,68.63L496.00,66.48Z" fill="#00e5ff"/>
<path d="M503.10,71.81L505.25,73.96L503.10,76.11L500.95,73.96Z" fill="#00e5ff"/>
<path d="M507.67,79.92L509.82,82.07L507.67,84.22L505.52,82.07Z" fill="#00e5ff"/>
<path d="M511.85,88.61L514.00,90.76L511.85,92.91L509.70,90.76Z" fill="#00e5ff"/>
<path d="M515.67,97.87L517.82,100.02L515.67,102.17L513.52,100.02Z" fill="#00e5ff"/>
<path d="M519.12,107.68L521.27,109.83L519.12,111.98L516.97,109.83Z" fill="#00e5ff"/>
<path d="M522.29,118.18L524.44,120.33L522.29,122.48L520.14,120.33Z" fill="#00e5ff"/>
<path d="M525.22,129.48L527.37,131.63L525.22,133.78L523.07,131.63Z" fill="#00e5ff"/>
<path d="M527.93,141.60L530.08,143.75L527.93,145.90L525.78,143.75Z" fill="#00e5ff"/>
<path d="M530.44,154.24L532.59,156.39L530.44,158.54L528.29,156.39Z" fill="#00e5ff"/>
<path d="M532.83,167.36L534.98,169.51L532.83,171.66L530.68,169.51Z" fill="#00e5ff"/>
<polyline points="398.92,88.52 399.02,88.03 399.13,87.53 399.24,87.04 399.36,86.54 399.49,86.04 399.62,85.54 399.75,85.04 399.90,84.53 400.05,84.03 400.20,83.52 400.36,83.02 400.53,82.51 400.70,82.00 400.88,81.49 401.06,80.99 401.25,80.48 401.45,79.97 401.65,79.46 401.85,78.95 402.07,78.44 402.28,77.93 402.51,77.42 402.74,76.92 402.97,76.41 403.21,75.90 403.45,75.40 403.70,74.89 403.96,74.39 404.22,73.88 404.48,73.38 404.75,72.88 405.03,72.39 405.31,71.89 405.59,71.39 405.88,70.90 406.18,70.41 406.48,69.92 406.78,69.43 407.09,68.95 407.41,68.47 407.73,67.99 408.05,67.51 408.38,67.04 408.71,66.57 409.05,66.10 409.39,65.63 409.74,65.17 410.09,64.71 410.45,64.26 410.81,63.80 411.17,63.36 411.54,62.91 411.91,62.47 412.29,62.04 412.67,61.60 413.06,61.18 413.44,60.75 413.84,60.33 414.24,59.92 414.64,59.51 415.04,59.11 415.45,58.71 415.86,58.31 416.28,57.92 416.70,57.54 417.13,57.16 417.55,56.78 417.99,56.41 418.42,56.05 418.86,55.70 419.30,55.35 419.75,55.00 420.20,54.66 420.65,54.33 421.11,54.01 421.57,53.69 422.03,53.37 422.50,53.07 422.96,52.77 423.44,52.47 423.91,52.19 424.39,51.91 424.87,51.64 425.35,51.37 425.84,51.11 426.32,50.86 426.81,50.61 427.31,50.37 427.80,50.14 428.30,49.92 428.79,49.70 429.29,49.49 429.79,49.29 430.30,49.09 430.80,48.90 431.31,48.72 431.82,48.55 432.33,48.38 432.84,48.22 433.35,48.07 433.86,47.93 434.37,47.79 434.89,47.66 435.40,47.54 435.92,47.43 436.43,47.32 436.95,47.22 437.47,47.13 437.99,47.05 438.50,46.98 439.02,46.91 439.54,46.85 440.06,46.80 440.57,46.76 441.09,46.73 441.61,46.70 442.13,46.69 442.64,46.68 443.16,46.68 443.67,46.69 444.19,46.70 444.70,46.73 445.21,46.76 445.72,46.80 446.23,46.85 446.74,46.91 447.25,46.98 447.76,47.06 448.26,47.14 448.77,47.23 449.27,47.33 449.77,47.44 450.27,47.56 450.77,47.68 451.27,47.81 451.76,47.95 452.26,48.10 452.75,48.25 453.24,48.42 453.73,48.58 454.22,48.76 454.71,48.94 455.19,49.14 455.68,49.33 456.16,49.54 456.64,49.75 457.12,49.97 457.59,50.19 458.07,50.42 458.54,50.66 459.01,50.90 459.48,51.15 459.95,51.41 460.42,51.67 460.88,51.94 461.34,52.22 461.80,52.50 462.26,52.78 462.71,53.07 463.17,53.37 463.62,53.67 464.07,53.98 464.51,54.30 464.96,54.62 465.40,54.94 465.84,55.27 466.28,55.60 466.71,55.94 467.14,56.29 467.57,56.64 468.00,56.99 468.43,57.35 468.85,57.71 469.27,58.08 469.69,58.45 470.10,58.82 470.52,59.20 470.93,59.59 471.33,59.97 471.74,60.37 472.14,60.76 472.54,61.16 472.93,61.56 473.33,61.97 473.72,62.38 474.11,62.79 474.49,63.21 474.87,63.63 475.25,64.05 475.63,64.48 476.00,64.91 476.37,65.34 476.74,65.77 477.10,66.21 477.46,66.65 477.82,67.09 478.18,67.54 478.53,67.99 478.87,68.44 479.22,68.89 479.56,69.34 479.90,69.80 480.23,70.25 480.56,70.71 480.89,71.18 481.22,71.64 481.54,72.10 481.86,72.57 482.17,73.04 482.48,73.51 482.79,73.98 483.09,74.45 483.39,74.92 483.69,75.39 483.98,75.87 484.27,76.35 484.55,76.82 484.83,77.30 485.11,77.78 485.39,78.26 485.66,78.74 485.93,79.22 486.20,79.71 486.46,80.19 486.72,80.68 486.98,81.16 487.23,81.65 487.48,82.14 487.73,82.63 487.97,83.12 488.22,83.61 488.46,84.10 488.69,84.59 488.93,85.09 489.16,85.58 489.39,86.08 489.61,86.57 489.84,87.07 490.06,87.57 490.28,88.06 490.49,88.56 490.71,89.06 490.92,89.56 491.13,90.07 491.33,90.57 491.54,91.07 491.74,91.58 491.94,92.08 492.14,92.58 492.34,93.09 492.53,93.60 492.72,94.10 492.91,94.61 493.10,95.12 493.29,95.63 493.47,96.14 493.66,96.65 493.84,97.16 494.02,97.67 494.20,98.18 494.38,98.69 494.55,99.20 494.72,99.72 494.90,100.23 495.07,100.74 495.24,101.26 495.41,101.77 495.57,102.29 495.74,102.80 495.90,103.32 496.07,103.83 496.23,104.35 496.39,104.87 496.55,105.39 496.71,105.90 496.87,106.42 497.03,106.94 497.18,107.46 497.34,107.98 497.49,108.50 497.65,109.01 497.80,109.53 497.96,110.05 498.11,110.57 498.26,111.09 498.41,111.61 498.56,112.13 498.71,112.66 498.86,113.18 499.01,113.70 499.15,114.22 499.30,114.74 499.45,115.26 499.59,115.79 499.74,116.31 499.88,116.83 500.03,117.35 500.17,117.88 500.31,118.40 500.45,118.92 500.60,119.45 500.74,119.97 500.88,120.50 501.02,121.02 501.16,121.55 501.29,122.07 501.43,122.60 501.57,123.12 501.71,123.65 501.84,124.17 501.98,124.70 502.11,125.22 502.25,125.75 502.38,126.28 502.52,126.80 502.65,127.33 502.79,127.86 502.92,128.39 503.05,128.91 503.18,129.44 503.31,129.97 503.44,130.50 503.57,131.02 503.70,131.55 503.83,132.08 503.96,132.61 504.09,133.14 504.22,133.67 504.35,134.20 504.48,134.73 504.60,135.26 504.73,135.79 504.86,136.32 504.98,136.85 505.11,137.38 505.23,137.91 505.36,138.44 505.49,138.97 505.61,139.50 505.73,140.03 505.86,140.57 505.98,141.10 506.11,141.63 506.23,142.16 506.35,142.69 506.48,143.22 506.60,143.76 506.72,144.29 506.85,144.82 506.97,145.35 507.09,145.89 507.21,146.42 507.34,146.95 507.46,147.48 507.58,148.02 507.70,148.55 507.83,149.08 507.95,149.61 508.07,150.15 508.19,150.68 508.32,151.21 508.44,151.74 508.56,152.28 508.68,152.81 508.81,153.34 508.93,153.87 509.05,154.41 509.18,154.94 509.30,155.47 509.42,156.00 509.55,156.54 509.67,157.07 509.80,157.60 509.92,158.13 510.05,158.66 510.17,159.19 510.30,159.73 510.42,160.26 510.55,160.79 510.68,161.32 510.80,161.85 510.93,162.38 511.06,162.91 511.19,163.44 511.32,163.97 511.44,164.50 511.57,165.03 511.70,165.56 511.83,166.09 511.97,166.62 512.10,167.15 512.23,167.68 512.36,168.21 512.50,168.74 512.63,169.26 512.76,169.79 512.90,170.32 513.03,170.85 513.17,171.37" fill="none" stroke="#ff3333" stroke-width="0.6" stroke-linejoin="round" opacity="1"/>
<path d="M398.92,86.42L401.02,88.52L398.92,90.62L396.82,88.52Z" fill="#ff0000"/>
<path d="M399.20,85.15L401.30,87.25L399.20,89.35L397.10,87.25Z" fill="#ff0000"/>
<path d="M399.50,83.88L401.60,85.98L399.50,88.08L397.40,85.98Z" fill="#ff0000"/>
<path d="M399.84,82.62L401.94,84.72L399.84,86.82L397.74,84.72Z" fill="#ff0000"/>
<path d="M400.22,81.36L402.32,83.46L400.22,85.56L398.12,83.46Z" fill="#ff0000"/>
<path d="M400.63,80.11L402.73,82.21L400.63,84.31L398.53,82.21Z" fill="#ff0000"/>
<path d="M401.07,78.86L403.17,80.96L401.07,83.06L398.97,80.96Z" fill="#ff0000"/>
<path d="M401.54,77.63L403.64,79.73L401.54,81.83L399.44,79.73Z" fill="#ff0000"/>
<path d="M402.04,76.39L404.14,78.49L402.04,80.59L399.94,78.49Z" fill="#ff0000"/>
<path d="M402.58,75.17L404.68,77.27L402.58,79.37L400.48,77.27Z" fill="#ff0000"/>
<path d="M403.14,73.95L405.24,76.05L403.14,78.15L401.04,76.05Z" fill="#ff0000"/>
<path d="M403.72,72.75L405.82,74.85L403.72,76.95L401.62,74.85Z" fill="#ff0000"/>
<path d="M404.34,71.55L406.44,73.65L404.34,75.75L402.24,73.65Z" fill="#ff0000"/>
<path d="M404.99,70.36L407.09,72.46L404.99,74.56L402.89,72.46Z" fill="#ff0000"/>
<path d="M405.66,69.18L407.76,71.28L405.66,73.38L403.56,71.28Z" fill="#ff0000"/>
<path d="M406.36,68.01L408.46,70.11L406.36,72.21L404.26,70.11Z" fill="#ff0000"/>
<path d="M407.09,66.86L409.19,68.96L407.09,71.06L404.99,68.96Z" fill="#ff0000"/>
<path d="M407.84,65.72L409.94,67.82L407.84,69.92L405.74,67.82Z" fill="#ff0000"/>
<path d="M408.63,64.59L410.73,66.69L408.63,68.79L406.53,66.69Z" fill="#ff0000"/>
<path d="M409.44,63.47L411.54,65.57L409.44,67.67L407.34,65.57Z" fill="#ff0000"/>
<path d="M410.28,62.37L412.38,64.47L410.28,66.57L408.18,64.47Z" fill="#ff0000"/>
<path d="M411.14,61.29L413.24,63.39L411.14,65.49L409.04,63.39Z" fill="#ff0000"/>
<path d="M412.04,60.22L414.14,62.32L412.04,64.42L409.94,62.32Z" fill="#ff0000"/>
<path d="M412.96,59.18L415.06,61.28L412.96,63.38L410.86,61.28Z" fill="#ff0000"/>
<path d="M413.92,58.15L416.02,60.25L413.92,62.35L411.82,60.25Z" fill="#ff0000"/>
<path d="M414.90,57.14L417.00,59.24L414.90,61.34L412.80,59.24Z" fill="#ff0000"/>
<path d="M415.91,56.16L418.01,58.26L415.91,60.36L413.81,58.26Z" fill="#ff0000"/>
<path d="M416.96,55.21L419.06,57.31L416.96,59.41L414.86,57.31Z" fill="#ff0000"/>
<path d="M418.03,54.28L420.13,56.38L418.03,58.48L415.93,56.38Z" fill="#ff0000"/>
<path d="M419.14,53.38L421.24,55.48L419.14,57.58L417.04,55.48Z" fill="#ff0000"/>
<path d="M420.27,52.51L422.37,54.61L420.27,56.71L418.17,54.61Z" fill="#ff0000"/>
<path d="M421.44,51.68L423.54,53.78L421.44,55.88L419.34,53.78Z" fill="#ff0000"/>
<path d="M422.64,50.88L424.74,52.98L422.64,55.08L420.54,52.98Z" fill="#ff0000"/>
<path d="M423.86,50.12L425.96,52.22L423.86,54.32L421.76,52.22Z" fill="#ff0000"/>
<path d="M425.12,49.40L427.22,51.50L425.12,53.60L423.02,51.50Z" fill="#ff0000"/>
<path d="M426.40,48.72L428.50,50.82L426.40,52.92L424.30,50.82Z" fill="#ff0000"/>
<path d="M427.71,48.08L429.81,50.18L427.71,52.28L425.61,50.18Z" fill="#ff0000"/>
<path d="M429.05,47.49L431.15,49.59L429.05,51.69L426.95,49.59Z" fill="#ff0000"/>
<path d="M430.41,46.95L432.51,49.05L430.41,51.15L428.31,49.05Z" fill="#ff0000"/>
<path d="M431.80,46.45L433.90,48.55L431.80,50.65L429.70,48.55Z" fill="#ff0000"/>
<path d="M433.21,46.01L435.31,48.11L433.21,50.21L431.11,48.11Z" fill="#ff0000"/>
<path d="M434.64,45.62L436.74,47.72L434.64,49.82L432.54,47.72Z" fill="#ff0000"/>
<path d="M436.09,45.29L438.19,47.39L436.09,49.49L433.99,47.39Z" fill="#ff0000"/>
<path d="M437.55,45.02L439.65,47.12L437.55,49.22L435.45,47.12Z" fill="#ff0000"/>
<path d="M439.04,44.81L441.14,46.91L439.04,49.01L436.94,46.91Z" fill="#ff0000"/>
<path d="M440.53,44.67L442.63,46.77L440.53,48.87L438.43,46.77Z" fill="#ff0000"/>
<path d="M442.03,44.59L444.13,46.69L442.03,48.79L439.93,46.69Z" fill="#ff0000"/>
<path d="M443.55,44.58L445.65,46.68L443.55,48.78L441.45,46.68Z" fill="#ff0000"/>
<path d="M445.06,44.65L447.16,46.75L445.06,48.85L442.96,46.75Z" fill="#ff0000"/>
<path d="M446.57,44.79L448.67,46.89L446.57,48.99L444.47,46.89Z" fill="#ff0000"/>
<path d="M448.08,45.01L450.18,47.11L448.08,49.21L445.98,47.11Z" fill="#ff0000"/>
<path d="M449.59,45.30L451.69,47.40L449.59,49.50L447.49,47.40Z" fill="#ff0000"/>
<path d="M451.08,45.66L453.18,47.76L451.08,49.86L448.98,47.76Z" fill="#ff0000"/>
<path d="M452.56,46.09L454.66,48.19L452.56,50.29L450.46,48.19Z" fill="#ff0000"/>
<path d="M454.02,46.59L456.12,48.69L454.02,50.79L451.92,48.69Z" fill="#ff0000"/>
<path d="M455.47,47.15L457.57,49.25L455.47,51.35L453.37,49.25Z" fill="#ff0000"/>
<path d="M456.90,47.77L459.00,49.87L456.90,51.97L454.80,49.87Z" fill="#ff0000"/>
<path d="M458.31,48.44L460.41,50.54L458.31,52.64L456.21,50.54Z" fill="#ff0000"/>
<path d="M459.69,49.17L461.79,51.27L459.69,53.37L457.59,51.27Z" fill="#ff0000"/>
<path d="M461.06,49.95L463.16,52.05L461.06,54.15L458.96,52.05Z" fill="#ff0000"/>
<path d="M462.40,50.77L464.50,52.87L462.40,54.97L460.30,52.87Z" fill="#ff0000"/>
<path d="M463.72,51.65L465.82,53.75L463.72,55.85L461.62,53.75Z" fill="#ff0000"/>
<path d="M465.02,52.56L467.12,54.66L465.02,56.76L462.92,54.66Z" fill="#ff0000"/>
<path d="M466.29,53.52L468.39,55.62L466.29,57.72L464.19,55.62Z" fill="#ff0000"/>
<path d="M467.54,54.51L469.64,56.61L467.54,58.71L465.44,56.61Z" fill="#ff0000"/>
<path d="M469.12,55.84L471.22,57.94L469.12,60.04L467.02,57.94Z" fill="#ff0000"/>
<path d="M471.50,58.04L473.60,60.14L471.50,62.24L469.40,60.14Z" fill="#ff0000"/>
<path d="M474.46,61.08L476.56,63.18L474.46,65.28L472.36,63.18Z" fill="#ff0000"/>
<path d="M477.46,64.55L479.56,66.65L477.46,68.75L475.36,66.65Z" fill="#ff0000"/>
<path d="M480.46,68.48L482.56,70.58L480.46,72.68L478.36,70.58Z" fill="#ff0000"/>
<path d="M483.45,72.91L485.55,75.01L483.45,77.11L481.35,75.01Z" fill="#ff0000"/>
<path d="M486.38,77.95L488.48,80.05L486.38,82.15L484.28,80.05Z" fill="#ff0000"/>
<path d="M489.25,83.68L491.35,85.78L489.25,87.88L487.15,85.78Z" fill="#ff0000"/>
<path d="M492.00,90.14L494.10,92.24L492.00,94.34L489.90,92.24Z" fill="#ff0000"/>
<path d="M494.49,96.92L496.59,99.02L494.49,101.12L492.39,99.02Z" fill="#ff0000"/>
<path d="M496.72,103.83L498.82,105.93L496.72,108.03L494.62,105.93Z" fill="#ff0000"/>
<path d="M498.79,110.82L500.89,112.92L498.79,115.02L496.69,112.92Z" fill="#ff0000"/>
<path d="M500.74,117.88L502.84,119.98L500.74,122.08L498.64,119.98Z" fill="#ff0000"/>
<path d="M502.59,125.00L504.69,127.10L502.59,129.20L500.49,127.10Z" fill="#ff0000"/>
<path d="M504.37,132.17L506.47,134.27L504.37,136.37L502.27,134.27Z" fill="#ff0000"/>
<path d="M506.08,139.40L508.18,141.50L506.08,143.60L503.98,141.50Z" fill="#ff0000"/>
<path d="M507.75,146.67L509.85,148.77L507.75,150.87L505.65,148.77Z" fill="#ff0000"/>
<path d="M509.44,153.97L511.54,156.07L509.44,158.17L507.34,156.07Z" fill="#ff0000"/>
<path d="M511.17,161.29L513.27,163.39L511.17,165.49L509.07,163.39Z" fill="#ff0000"/>
<path d="M513.01,168.63L515.11,170.73L513.01,172.83L510.91,170.73Z" fill="#ff0000"/>
<polyline points="389.37,118.06 389.49,117.67 389.62,117.28 389.75,116.89 389.89,116.50 390.03,116.10 390.17,115.70 390.32,115.31 390.47,114.90 390.63,114.50 390.79,114.10 390.95,113.70 391.12,113.29 391.29,112.88 391.46,112.47 391.64,112.06 391.83,111.65 392.02,111.24 392.21,110.83 392.40,110.42 392.60,110.00 392.80,109.59 393.01,109.18 393.22,108.76 393.43,108.35 393.65,107.93 393.87,107.52 394.09,107.10 394.32,106.69 394.55,106.27 394.79,105.86 395.02,105.44 395.26,105.03 395.51,104.61 395.76,104.20 396.01,103.79 396.26,103.38 396.52,102.97 396.78,102.56 397.05,102.15 397.32,101.74 397.59,101.33 397.86,100.93 398.14,100.53 398.42,100.12 398.70,99.72 398.99,99.32 399.28,98.92 399.57,98.53 399.86,98.14 400.16,97.74 400.46,97.35 400.77,96.97 401.07,96.58 401.38,96.20 401.69,95.81 402.01,95.44 402.33,95.06 402.65,94.69 402.97,94.32 403.30,93.95 403.63,93.58 403.96,93.22 404.29,92.86 404.63,92.51 404.97,92.15 405.31,91.80 405.65,91.46 406.00,91.12 406.34,90.78 406.70,90.44 407.05,90.11 407.40,89.78 407.76,89.46 408.12,89.14 408.48,88.82 408.85,88.51 409.22,88.20 409.58,87.90 409.96,87.60 410.33,87.31 410.70,87.02 411.08,86.73 411.46,86.45 411.84,86.18 412.22,85.91 412.61,85.64 413.00,85.38 413.39,85.13 413.78,84.88 414.17,84.64 414.56,84.40 414.96,84.16 415.36,83.94 415.76,83.71 416.16,83.50 416.56,83.29 416.97,83.08 417.37,82.88 417.78,82.69 418.19,82.51 418.60,82.33 419.01,82.15 419.43,81.99 419.84,81.83 420.26,81.67 420.68,81.53 421.10,81.39 421.52,81.25 421.94,81.13 422.36,81.01 422.79,80.89 423.21,80.78 423.64,80.68 424.07,80.59 424.50,80.50 424.93,80.42 425.36,80.35 425.79,80.28 426.22,80.22 426.65,80.16 427.09,80.11 427.52,80.07 427.95,80.03 428.39,80.00 428.82,79.97 429.26,79.96 429.69,79.94 430.13,79.94 430.57,79.94 431.00,79.94 431.44,79.95 431.88,79.97 432.31,79.99 432.75,80.02 433.19,80.06 433.62,80.10 434.06,80.14 434.49,80.19 434.93,80.25 435.36,80.31 435.80,80.38 436.23,80.46 436.67,80.54 437.10,80.62 437.53,80.71 437.96,80.81 438.39,80.91 438.82,81.02 439.25,81.13 439.68,81.25 440.11,81.37 440.54,81.50 440.96,81.63 441.39,81.77 441.81,81.91 442.23,82.06 442.65,82.22 443.07,82.37 443.49,82.54 443.91,82.71 444.32,82.88 444.73,83.06 445.15,83.24 445.56,83.43 445.97,83.62 446.37,83.82 446.78,84.02 447.18,84.23 447.58,84.44 447.98,84.66 448.38,84.88 448.78,85.10 449.17,85.33 449.56,85.57 449.95,85.81 450.34,86.05 450.72,86.30 451.10,86.55 451.48,86.80 451.86,87.07 452.24,87.33 452.61,87.60 452.98,87.87 453.35,88.15 453.71,88.43 454.07,88.72 454.43,89.01 454.79,89.30 455.14,89.60 455.49,89.90 455.84,90.21 456.18,90.51 456.52,90.83 456.86,91.15 457.19,91.47 457.52,91.79 457.85,92.12 458.18,92.45 458.50,92.79 458.81,93.13 459.13,93.47 459.44,93.81 459.75,94.16 460.05,94.52 460.36,94.87 460.65,95.23 460.95,95.59 461.24,95.96 461.53,96.32 461.82,96.70 462.11,97.07 462.39,97.44 462.67,97.82 462.94,98.20 463.21,98.59 463.48,98.97 463.75,99.36 464.02,99.75 464.28,100.15 464.54,100.54 464.80,100.94 465.05,101.34 465.31,101.74 465.56,102.14 465.80,102.55 466.05,102.95 466.29,103.36 466.53,103.77 466.77,104.18 467.01,104.60 467.24,105.01 467.47,105.43 467.70,105.84 467.93,106.26 468.16,106.68 468.38,107.10 468.60,107.52 468.82,107.95 469.04,108.37 469.25,108.79 469.47,109.22 469.68,109.64 469.89,110.07 470.10,110.49 470.31,110.92 470.51,111.35 470.72,111.78 470.92,112.20 471.12,112.63 471.32,113.06 471.51,113.49 471.71,113.92 471.90,114.35 472.10,114.78 472.29,115.21 472.48,115.64 472.66,116.07 472.85,116.50 473.04,116.93 473.22,117.37 473.40,117.80 473.58,118.23 473.76,118.66 473.94,119.10 474.11,119.53 474.29,119.96 474.46,120.40 474.63,120.83 474.80,121.27 474.97,121.70 475.13,122.14 475.30,122.57 475.46,123.01 475.63,123.44 475.79,123.88 475.95,124.31 476.11,124.75 476.26,125.19 476.42,125.63 476.57,126.06 476.73,126.50 476.88,126.94 477.03,127.38 477.18,127.81 477.33,128.25 477.47,128.69 477.62,129.13 477.76,129.57 477.91,130.01 478.05,130.45 478.19,130.89 478.33,131.33 478.47,131.77 478.60,132.21 478.74,132.65 478.87,133.09 479.01,133.53 479.14,133.98 479.27,134.42 479.40,134.86 479.53,135.30 479.65,135.74 479.78,136.19 479.90,136.63 480.03,137.07 480.15,137.52 480.27,137.96 480.39,138.40 480.51,138.85 480.63,139.29 480.75,139.73 480.87,140.18 480.98,140.62 481.10,141.06 481.21,141.51 481.32,141.95 481.43,142.40 481.54,142.84 481.65,143.29 481.76,143.73 481.87,144.18 481.98,144.62 482.08,145.07 482.19,145.52 482.29,145.96 482.39,146.41 482.50,146.85 482.60,147.30 482.70,147.75 482.80,148.19 482.89,148.64 482.99,149.09 483.09,149.53 483.18,149.98 483.28,150.43 483.37,150.88 483.46,151.32 483.55,151.77 483.64,152.22 483.73,152.67 483.82,153.12 483.91,153.57 483.99,154.01 484.08,154.46 484.16,154.91 484.25,155.36 484.33,155.81 484.41,156.26 484.49,156.71 484.57,157.17 484.64,157.62 484.72,158.07 484.80,158.52 484.87,158.97 484.94,159.42 485.02,159.88 485.09,160.33 485.16,160.78 485.23,161.24 485.29,161.69 485.36,162.15 485.42,162.60 485.49,163.06 485.55,163.51 485.61,163.97 485.67,164.42 485.73,164.88 485.79,165.34 485.85,165.79 485.90,166.25 485.96,166.71 486.01,167.17 486.06,167.63 486.11,168.09 486.16,168.55 486.21,169.01 486.26,169.47 486.31,169.93 486.35,170.39 486.39,170.85 486.44,171.31 486.48,171.78 486.52,172.24 486.56,172.70 486.59,173.17 486.63,173.63 486.66,174.10 486.70,174.56 486.73,175.03 486.76,175.50 486.79,175.97 486.82,176.43 486.84,176.90 486.87,177.37 486.89,177.84 486.91,178.31 486.93,178.78 486.95,179.25 486.97,179.72" fill="none" stroke="#55ff55" stroke-width="0.6" stroke-linejoin="round" opacity="1"/>
<path d="M389.37,116.06L391.37,119.66L387.37,119.66Z" fill="#00ee00"/>
<path d="M389.74,114.92L391.74,118.52L387.74,118.52Z" fill="#00ee00"/>
<path d="M390.14,113.78L392.14,117.38L388.14,117.38Z" fill="#00ee00"/>
<path d="M390.57,112.65L392.57,116.25L388.57,116.25Z" fill="#00ee00"/>
<path d="M391.02,111.52L393.02,115.12L389.02,115.12Z" fill="#00ee00"/>
<path d="M391.50,110.40L393.50,114.00L389.50,114.00Z" fill="#00ee00"/>
<path d="M392.00,109.29L394.00,112.89L390.00,112.89Z" fill="#00ee00"/>
<path d="M392.52,108.18L394.52,111.78L390.52,111.78Z" fill="#00ee00"/>
<path d="M393.06,107.07L395.06,110.67L391.06,110.67Z" fill="#00ee00"/>
<path d="M393.63,105.97L395.63,109.57L391.63,109.57Z" fill="#00ee00"/>
<path d="M394.21,104.88L396.21,108.48L392.21,108.48Z" fill="#00ee00"/>
<path d="M394.82,103.79L396.82,107.39L392.82,107.39Z" fill="#00ee00"/>
<path d="M395.45,102.71L397.45,106.31L393.45,106.31Z" fill="#00ee00"/>
<path d="M396.10,101.64L398.10,105.24L394.10,105.24Z" fill="#00ee00"/>
<path d="M396.77,100.57L398.77,104.17L394.77,104.17Z" fill="#00ee00"/>
<path d="M397.46,99.52L399.46,103.12L395.46,103.12Z" fill="#00ee00"/>
<path d="M398.18,98.47L400.18,102.07L396.18,102.07Z" fill="#00ee00"/>
<path d="M398.91,97.43L400.91,101.03L396.91,101.03Z" fill="#00ee00"/>
<path d="M399.67,96.40L401.67,100.00L397.67,100.00Z" fill="#00ee00"/>
<path d="M400.44,95.38L402.44,98.98L398.44,98.98Z" fill="#00ee00"/>
<path d="M401.24,94.37L403.24,97.97L399.24,97.97Z" fill="#00ee00"/>
<path d="M402.06,93.37L404.06,96.97L400.06,96.97Z" fill="#00ee00"/>
<path d="M402.91,92.39L404.91,95.99L400.91,95.99Z" fill="#00ee00"/>
<path d="M403.78,91.42L405.78,95.02L401.78,95.02Z" fill="#00ee00"/>
<path d="M404.67,90.46L406.67,94.06L402.67,94.06Z" fill="#00ee00"/>
<path d="M405.58,89.52L407.58,93.12L403.58,93.12Z" fill="#00ee00"/>
<path d="M406.53,88.60L408.53,92.20L404.53,92.20Z" fill="#00ee00"/>
<path d="M407.49,87.70L409.49,91.30L405.49,91.30Z" fill="#00ee00"/>
<path d="M408.48,86.82L410.48,90.42L406.48,90.42Z" fill="#00ee00"/>
<path d="M409.50,85.97L411.50,89.57L407.50,89.57Z" fill="#00ee00"/>
<path d="M410.55,85.14L412.55,88.74L408.55,88.74Z" fill="#00ee00"/>
<path d="M411.62,84.34L413.62,87.94L409.62,87.94Z" fill="#00ee00"/>
<path d="M412.73,83.57L414.73,87.17L410.73,87.17Z" fill="#00ee00"/>
<path d="M413.86,82.83L415.86,86.43L411.86,86.43Z" fill="#00ee00"/>
<path d="M415.02,82.13L417.02,85.73L413.02,85.73Z" fill="#00ee00"/>
<path d="M416.21,81.47L418.21,85.07L414.21,85.07Z" fill="#00ee00"/>
<path d="M417.43,80.86L419.43,84.46L415.43,84.46Z" fill="#00ee00"/>
<path d="M418.68,80.29L420.68,83.89L416.68,83.89Z" fill="#00ee00"/>
<path d="M419.96,79.78L421.96,83.38L417.96,83.38Z" fill="#00ee00"/>
<path d="M421.26,79.33L423.26,82.93L419.26,82.93Z" fill="#00ee00"/>
<path d="M422.59,78.94L424.59,82.54L420.59,82.54Z" fill="#00ee00"/>
<path d="M423.94,78.62L425.94,82.22L421.94,82.22Z" fill="#00ee00"/>
<path d="M425.32,78.35L427.32,81.95L423.32,81.95Z" fill="#00ee00"/>
<path d="M426.70,78.15L428.70,81.75L424.70,81.75Z" fill="#00ee00"/>
<path d="M428.10,78.02L430.10,81.62L426.10,81.62Z" fill="#00ee00"/>
<path d="M429.51,77.95L431.51,81.55L427.51,81.55Z" fill="#00ee00"/>
<path d="M430.93,77.94L432.93,81.54L428.93,81.54Z" fill="#00ee00"/>
<path d="M432.35,78.00L434.35,81.60L430.35,81.60Z" fill="#00ee00"/>
<path d="M433.77,78.11L435.77,81.71L431.77,81.71Z" fill="#00ee00"/>
<path d="M435.19,78.29L437.19,81.89L433.19,81.89Z" fill="#00ee00"/>
<path d="M436.61,78.53L438.61,82.13L434.61,82.13Z" fill="#00ee00"/>
<path d="M438.02,78.82L440.02,82.42L436.02,82.42Z" fill="#00ee00"/>
<path d="M439.43,79.18L441.43,82.78L437.43,82.78Z" fill="#00ee00"/>
<path d="M440.82,79.59L442.82,83.19L438.82,83.19Z" fill="#00ee00"/>
<path d="M442.21,80.05L444.21,83.65L440.21,83.65Z" fill="#00ee00"/>
<path d="M443.58,80.57L445.58,84.17L441.58,84.17Z" fill="#00ee00"/>
<path d="M444.93,81.15L446.93,84.75L442.93,84.75Z" fill="#00ee00"/>
<path d="M446.27,81.77L448.27,85.37L444.27,85.37Z" fill="#00ee00"/>
<path d="M447.59,82.44L449.59,86.04L445.59,86.04Z" fill="#00ee00"/>
<path d="M448.89,83.17L450.89,86.77L446.89,86.77Z" fill="#00ee00"/>
<path d="M450.16,83.94L452.16,87.54L448.16,87.54Z" fill="#00ee00"/>
<path d="M451.42,84.76L453.42,88.36L449.42,88.36Z" fill="#00ee00"/>
<path d="M453.22,86.05L455.22,89.65L451.22,89.65Z" fill="#00ee00"/>
<path d="M456.31,88.63L458.31,92.23L454.31,92.23Z" fill="#00ee00"/>
<path d="M459.54,91.92L461.54,95.52L457.54,95.52Z" fill="#00ee00"/>
<path d="M462.51,95.62L464.51,99.22L460.51,99.22Z" fill="#00ee00"/>
<path d="M465.26,99.67L467.26,103.27L463.26,103.27Z" fill="#00ee00"/>
<path d="M467.80,104.03L469.80,107.63L465.80,107.63Z" fill="#00ee00"/>
<path d="M470.18,108.66L472.18,112.26L468.18,112.26Z" fill="#00ee00"/>
<path d="M472.43,113.54L474.43,117.14L470.43,117.14Z" fill="#00ee00"/>
<path d="M474.56,118.66L476.56,122.26L472.56,122.26Z" fill="#00ee00"/>
<path d="M476.56,124.02L478.56,127.62L474.56,127.62Z" fill="#00ee00"/>
<path d="M478.42,129.63L480.42,133.23L476.42,133.23Z" fill="#00ee00"/>
<path d="M480.15,135.49L482.15,139.09L478.15,139.09Z" fill="#00ee00"/>
<path d="M481.73,141.59L483.73,145.19L479.73,145.19Z" fill="#00ee00"/>
<path d="M483.17,147.94L485.17,151.54L481.17,151.54Z" fill="#00ee00"/>
<path d="M484.47,154.59L486.47,158.19L482.47,158.19Z" fill="#00ee00"/>
<path d="M485.56,161.56L487.56,165.16L483.56,165.16Z" fill="#00ee00"/>
<path d="M486.39,168.85L488.39,172.45L484.39,172.45Z" fill="#00ee00"/>
<path d="M486.92,176.47L488.92,180.07L484.92,180.07Z" fill="#00ee00"/>
<polyline points="377.77,145.05 377.84,144.72 377.92,144.39 378.00,144.06 378.09,143.74 378.18,143.41 378.27,143.08 378.37,142.76 378.47,142.43 378.58,142.11 378.68,141.78 378.80,141.46 378.91,141.14 379.03,140.82 379.15,140.50 379.27,140.18 379.40,139.86 379.53,139.54 379.67,139.23 379.80,138.91 379.94,138.60 380.09,138.29 380.23,137.97 380.38,137.66 380.54,137.35 380.69,137.05 380.85,136.74 381.01,136.43 381.18,136.13 381.35,135.83 381.52,135.52 381.69,135.22 381.87,134.92 382.04,134.63 382.23,134.33 382.41,134.04 382.60,133.74 382.79,133.45 382.98,133.16 383.17,132.87 383.37,132.58 383.57,132.30 383.77,132.01 383.98,131.73 384.19,131.45 384.40,131.17 384.61,130.90 384.82,130.62 385.04,130.35 385.26,130.07 385.48,129.80 385.71,129.53 385.93,129.27 386.16,129.00 386.39,128.74 386.63,128.48 386.86,128.22 387.10,127.96 387.34,127.71 387.58,127.45 387.82,127.20 388.07,126.95 388.32,126.71 388.56,126.46 388.82,126.22 389.07,125.98 389.32,125.74 389.58,125.50 389.84,125.27 390.10,125.04 390.36,124.81 390.63,124.58 390.89,124.35 391.16,124.13 391.43,123.91 391.70,123.69 391.97,123.48 392.25,123.26 392.52,123.05 392.80,122.84 393.08,122.64 393.36,122.43 393.64,122.23 393.92,122.03 394.20,121.84 394.49,121.65 394.77,121.45 395.06,121.27 395.35,121.08 395.64,120.90 395.93,120.72 396.23,120.54 396.52,120.37 396.81,120.20 397.11,120.03 397.41,119.86 397.71,119.70 398.01,119.54 398.31,119.38 398.61,119.23 398.91,119.08 399.21,118.93 399.51,118.78 399.82,118.64 400.12,118.50 400.43,118.37 400.74,118.23 401.04,118.10 401.35,117.98 401.66,117.85 401.97,117.73 402.28,117.62 402.59,117.50 402.90,117.39 403.22,117.28 403.53,117.18 403.84,117.08 404.15,116.98 404.47,116.89 404.78,116.80 405.10,116.71 405.41,116.63 405.73,116.55 406.04,116.47 406.36,116.40 406.67,116.33 406.99,116.26 407.31,116.20 407.62,116.14 407.94,116.08 408.25,116.03 408.57,115.98 408.89,115.94 409.20,115.90 409.52,115.86 409.84,115.83 410.15,115.80 410.47,115.78 410.79,115.75 411.10,115.74 411.42,115.72 411.73,115.71 412.05,115.71 412.36,115.71 412.68,115.71 412.99,115.71 413.31,115.72 413.62,115.74 413.93,115.76 414.25,115.78 414.56,115.80 414.87,115.83 415.18,115.86 415.49,115.90 415.81,115.94 416.12,115.98 416.42,116.03 416.73,116.08 417.04,116.14 417.35,116.20 417.66,116.26 417.96,116.32 418.27,116.39 418.58,116.47 418.88,116.54 419.18,116.62 419.49,116.70 419.79,116.79 420.09,116.88 420.39,116.97 420.69,117.07 420.99,117.17 421.29,117.27 421.59,117.38 421.88,117.49 422.18,117.60 422.47,117.72 422.77,117.83 423.06,117.96 423.35,118.08 423.64,118.21 423.93,118.34 424.22,118.47 424.51,118.61 424.79,118.75 425.08,118.89 425.36,119.04 425.65,119.19 425.93,119.34 426.21,119.49 426.49,119.65 426.77,119.81 427.04,119.97 427.32,120.14 427.59,120.31 427.87,120.48 428.14,120.65 428.41,120.83 428.68,121.01 428.95,121.19 429.21,121.37 429.48,121.56 429.74,121.75 430.00,121.94 430.26,122.13 430.52,122.33 430.78,122.53 431.03,122.73 431.29,122.94 431.54,123.14 431.79,123.35 432.04,123.56 432.29,123.77 432.54,123.99 432.78,124.21 433.02,124.43 433.26,124.65 433.50,124.87 433.74,125.10 433.98,125.33 434.21,125.56 434.44,125.79 434.67,126.02 434.90,126.26 435.13,126.50 435.35,126.74 435.57,126.98 435.80,127.22 436.01,127.47 436.23,127.72 436.45,127.97 436.66,128.22 436.87,128.47 437.08,128.73 437.29,128.98 437.50,129.24 437.70,129.50 437.90,129.77 438.11,130.03 438.30,130.30 438.50,130.56 438.70,130.83 438.89,131.10 439.09,131.37 439.28,131.65 439.47,131.92 439.65,132.20 439.84,132.48 440.02,132.76 440.21,133.04 440.39,133.32 440.57,133.61 440.74,133.89 440.92,134.18 441.10,134.47 441.27,134.76 441.44,135.05 441.61,135.34 441.78,135.63 441.95,135.93 442.11,136.23 442.27,136.52 442.44,136.82 442.60,137.12 442.76,137.42 442.92,137.73 443.07,138.03 443.23,138.33 443.38,138.64 443.53,138.95 443.68,139.26 443.83,139.56 443.98,139.87 444.13,140.19 444.27,140.50 444.42,140.81 444.56,141.12 444.70,141.44 444.84,141.76 444.98,142.07 445.12,142.39 445.25,142.71 445.39,143.03 445.52,143.35 445.66,143.67 445.79,143.99 445.92,144.31 446.05,144.64 446.17,144.96 446.30,145.29 446.42,145.61 446.55,145.94 446.67,146.26 446.79,146.59 446.91,146.92 447.03,147.25 447.15,147.58 447.27,147.91 447.38,148.24 447.50,148.57 447.61,148.90 447.72,149.23 447.83,149.56 447.94,149.89 448.05,150.23 448.16,150.56 448.27,150.89 448.37,151.23 448.48,151.56 448.58,151.90 448.69,152.23 448.79,152.57 448.89,152.90 448.99,153.24 449.09,153.57 449.19,153.91 449.29,154.25 449.38,154.58 449.48,154.92 449.57,155.25 449.67,155.59 449.76,155.93 449.85,156.26 449.94,156.60 450.03,156.94 450.12,157.28 450.21,157.61 450.30,157.95 450.39,158.29 450.47,158.62 450.56,158.96 450.64,159.30 450.73,159.63 450.81,159.97 450.89,160.30 450.98,160.64 451.06,160.98 451.14,161.31 451.22,161.65 451.30,161.98 451.38,162.32 451.45,162.65 451.53,162.98 451.61,163.32 451.68,163.65 451.76,163.98 451.83,164.31 451.91,164.65 451.98,164.98 452.05,165.31 452.12,165.64 452.20,165.97 452.27,166.30 452.34,166.63 452.41,166.96 452.48,167.28 452.55,167.61 452.61,167.94 452.68,168.26 452.75,168.59 452.82,168.91 452.88,169.24 452.95,169.56 453.02,169.88 453.08,170.20 453.15,170.52 453.21,170.84 453.27,171.16 453.34,171.48 453.40,171.80 453.46,172.11 453.53,172.43 453.59,172.74 453.65,173.06 453.71,173.37 453.77,173.68 453.83,173.99 453.90,174.30 453.96,174.61 454.02,174.92 454.08,175.23 454.14,175.53 454.19,175.84 454.25,176.14 454.31,176.44 454.37,176.74 454.43,177.04 454.49,177.34 454.55,177.64 454.61,177.93 454.66,178.23 454.72,178.52 454.78,178.81 454.84,179.10 454.89,179.39 454.95,179.68 455.01,179.97 455.06,180.25 455.12,180.54 455.18,180.82" fill="none" stroke="#3333ff" stroke-width="0.6" stroke-linejoin="round" opacity="1"/>
<path d="M377.77,147.05L379.77,143.45L375.77,143.45Z" fill="#0000ee"/>
<path d="M378.02,145.98L380.02,142.38L376.02,142.38Z" fill="#0000ee"/>
<path d="M378.32,144.92L380.32,141.32L376.32,141.32Z" fill="#0000ee"/>
<path d="M378.66,143.86L380.66,140.26L376.66,140.26Z" fill="#0000ee"/>
<path d="M379.03,142.81L381.03,139.21L377.03,139.21Z" fill="#0000ee"/>
<path d="M379.44,141.77L381.44,138.17L377.44,138.17Z" fill="#0000ee"/>
<path d="M379.88,140.73L381.88,137.13L377.88,137.13Z" fill="#0000ee"/>
<path d="M380.36,139.71L382.36,136.11L378.36,136.11Z" fill="#0000ee"/>
<path d="M380.88,138.69L382.88,135.09L378.88,135.09Z" fill="#0000ee"/>
<path d="M381.42,137.69L383.42,134.09L379.42,134.09Z" fill="#0000ee"/>
<path d="M382.00,136.70L384.00,133.10L380.00,133.10Z" fill="#0000ee"/>
<path d="M382.61,135.72L384.61,132.12L380.61,132.12Z" fill="#0000ee"/>
<path d="M383.25,134.76L385.25,131.16L381.25,131.16Z" fill="#0000ee"/>
<path d="M383.92,133.81L385.92,130.21L381.92,130.21Z" fill="#0000ee"/>
<path d="M384.63,132.87L386.63,129.27L382.63,129.27Z" fill="#0000ee"/>
<path d="M385.36,131.95L387.36,128.35L383.36,128.35Z" fill="#0000ee"/>
<path d="M386.12,131.05L388.12,127.45L384.12,127.45Z" fill="#0000ee"/>
<path d="M386.91,130.17L388.91,126.57L384.91,126.57Z" fill="#0000ee"/>
<path d="M387.73,129.30L389.73,125.70L385.73,125.70Z" fill="#0000ee"/>
<path d="M388.57,128.45L390.57,124.85L386.57,124.85Z" fill="#0000ee"/>
<path d="M389.44,127.63L391.44,124.03L387.44,124.03Z" fill="#0000ee"/>
<path d="M390.34,126.82L392.34,123.22L388.34,123.22Z" fill="#0000ee"/>
<path d="M391.27,126.04L393.27,122.44L389.27,122.44Z" fill="#0000ee"/>
<path d="M392.22,125.28L394.22,121.68L390.22,121.68Z" fill="#0000ee"/>
<path d="M393.20,124.54L395.20,120.94L391.20,120.94Z" fill="#0000ee"/>
<path d="M394.21,123.83L396.21,120.23L392.21,120.23Z" fill="#0000ee"/>
<path d="M395.24,123.15L397.24,119.55L393.24,119.55Z" fill="#0000ee"/>
<path d="M396.30,122.50L398.30,118.90L394.30,118.90Z" fill="#0000ee"/>
<path d="M397.38,121.88L399.38,118.28L395.38,118.28Z" fill="#0000ee"/>
<path d="M398.49,121.29L400.49,117.69L396.49,117.69Z" fill="#0000ee"/>
<path d="M399.62,120.73L401.62,117.13L397.62,117.13Z" fill="#0000ee"/>
<path d="M400.78,120.22L402.78,116.62L398.78,116.62Z" fill="#0000ee"/>
<path d="M401.95,119.74L403.95,116.14L399.95,116.14Z" fill="#0000ee"/>
<path d="M403.16,119.30L405.16,115.70L401.16,115.70Z" fill="#0000ee"/>
<path d="M404.38,118.91L406.38,115.31L402.38,115.31Z" fill="#0000ee"/>
<path d="M405.62,118.57L407.62,114.97L403.62,114.97Z" fill="#0000ee"/>
<path d="M406.89,118.28L408.89,114.68L404.89,114.68Z" fill="#0000ee"/>
<path d="M408.17,118.05L410.17,114.45L406.17,114.45Z" fill="#0000ee"/>
<path d="M409.46,117.87L411.46,114.27L407.46,114.27Z" fill="#0000ee"/>
<path d="M410.77,117.76L412.77,114.16L408.77,114.16Z" fill="#0000ee"/>
<path d="M412.09,117.71L414.09,114.11L410.09,114.11Z" fill="#0000ee"/>
<path d="M413.42,117.73L415.42,114.13L411.42,114.13Z" fill="#0000ee"/>
<path d="M414.75,117.82L416.75,114.22L412.75,114.22Z" fill="#0000ee"/>
<path d="M416.08,117.98L418.08,114.38L414.08,114.38Z" fill="#0000ee"/>
<path d="M417.40,118.21L419.40,114.61L415.40,114.61Z" fill="#0000ee"/>
<path d="M418.72,118.50L420.72,114.90L416.72,114.90Z" fill="#0000ee"/>
<path d="M420.03,118.86L422.03,115.26L418.03,115.26Z" fill="#0000ee"/>
<path d="M421.33,119.29L423.33,115.69L419.33,115.69Z" fill="#0000ee"/>
<path d="M422.61,119.77L424.61,116.17L420.61,116.17Z" fill="#0000ee"/>
<path d="M423.87,120.31L425.87,116.71L421.87,116.71Z" fill="#0000ee"/>
<path d="M425.12,120.92L427.12,117.32L423.12,117.32Z" fill="#0000ee"/>
<path d="M426.35,121.57L428.35,117.97L424.35,117.97Z" fill="#0000ee"/>
<path d="M427.55,122.28L429.55,118.68L425.55,118.68Z" fill="#0000ee"/>
<path d="M429.30,123.44L431.30,119.84L427.30,119.84Z" fill="#0000ee"/>
<path d="M432.45,125.91L434.45,122.31L430.45,122.31Z" fill="#0000ee"/>
<path d="M435.37,128.76L437.37,125.16L433.37,125.16Z" fill="#0000ee"/>
<path d="M438.05,131.95L440.05,128.35L436.05,128.35Z" fill="#0000ee"/>
<path d="M440.46,135.44L442.46,131.84L438.46,131.84Z" fill="#0000ee"/>
<path d="M442.64,139.19L444.64,135.59L440.64,135.59Z" fill="#0000ee"/>
<path d="M444.59,143.18L446.59,139.58L442.59,139.58Z" fill="#0000ee"/>
<path d="M446.36,147.45L448.36,143.85L444.36,143.85Z" fill="#0000ee"/>
<path d="M447.97,151.97L449.97,148.37L445.97,148.37Z" fill="#0000ee"/>
<path d="M449.43,156.75L451.43,153.15L447.43,153.15Z" fill="#0000ee"/>
<path d="M450.76,161.77L452.76,158.17L448.76,158.17Z" fill="#0000ee"/>
<path d="M451.96,166.89L453.96,163.29L449.96,163.29Z" fill="#0000ee"/>
<path d="M453.06,172.10L455.06,168.50L451.06,168.50Z" fill="#0000ee"/>
<path d="M454.10,177.37L456.10,173.77L452.10,173.77Z" fill="#0000ee"/>
<path d="M455.16,182.70L457.16,179.10L453.16,179.10Z" fill="#0000ee"/>
<polyline points="358.11,178.63 358.14,178.43 358.17,178.24 358.19,178.04 358.23,177.84 358.26,177.64 358.29,177.45 358.33,177.25 358.37,177.05 358.41,176.85 358.45,176.65 358.49,176.45 358.54,176.25 358.59,176.06 358.63,175.86 358.69,175.66 358.74,175.46 358.79,175.26 358.85,175.06 358.91,174.86 358.97,174.66 359.03,174.46 359.09,174.26 359.15,174.06 359.22,173.86 359.29,173.67 359.36,173.47 359.43,173.27 359.50,173.07 359.58,172.87 359.65,172.67 359.73,172.47 359.81,172.28 359.89,172.08 359.97,171.88 360.05,171.68 360.14,171.49 360.23,171.29 360.31,171.09 360.40,170.90 360.50,170.70 360.59,170.50 360.68,170.31 360.78,170.11 360.88,169.92 360.97,169.72 361.07,169.53 361.18,169.33 361.28,169.14 361.38,168.95 361.49,168.76 361.59,168.56 361.70,168.37 361.81,168.18 361.92,167.99 362.04,167.80 362.15,167.61 362.26,167.42 362.38,167.23 362.50,167.04 362.62,166.85 362.74,166.67 362.86,166.48 362.98,166.29 363.10,166.11 363.23,165.92 363.35,165.74 363.48,165.55 363.61,165.37 363.74,165.19 363.87,165.01 364.00,164.83 364.13,164.65 364.27,164.47 364.40,164.29 364.54,164.11 364.68,163.93 364.81,163.75 364.95,163.58 365.09,163.40 365.24,163.23 365.38,163.06 365.52,162.88 365.67,162.71 365.81,162.54 365.96,162.37 366.11,162.20 366.26,162.03 366.40,161.86 366.56,161.70 366.71,161.53 366.86,161.37 367.01,161.20 367.17,161.04 367.32,160.88 367.48,160.72 367.63,160.56 367.79,160.40 367.95,160.24 368.11,160.09 368.27,159.93 368.43,159.78 368.59,159.62 368.75,159.47 368.92,159.32 369.08,159.17 369.25,159.02 369.41,158.88 369.58,158.73 369.75,158.58 369.91,158.44 370.08,158.30 370.25,158.16 370.42,158.01 370.59,157.88 370.76,157.74 370.93,157.60 371.11,157.47 371.28,157.33 371.45,157.20 371.63,157.07 371.80,156.94 371.98,156.81 372.15,156.68 372.33,156.56 372.51,156.43 372.68,156.31 372.86,156.19 373.04,156.07 373.22,155.95 373.40,155.83 373.58,155.72 373.76,155.60 373.94,155.49 374.12,155.38 374.30,155.27 374.49,155.16 374.67,155.05 374.85,154.95 375.04,154.85 375.22,154.74 375.40,154.64 375.59,154.55 375.77,154.45 375.96,154.35 376.14,154.26 376.33,154.17 376.52,154.08 376.70,153.99 376.89,153.90 377.08,153.82 377.26,153.73 377.45,153.65 377.64,153.57 377.83,153.49 378.02,153.42 378.20,153.34 378.39,153.27 378.58,153.20 378.77,153.13 378.96,153.07 379.15,153.00 379.34,152.94 379.53,152.88 379.72,152.82 379.91,152.76 380.10,152.70 380.29,152.65 380.48,152.60 380.67,152.55 380.86,152.50 381.05,152.46 381.24,152.41 381.43,152.37 381.62,152.33 381.81,152.29 382.00,152.26 382.19,152.22 382.38,152.19 382.57,152.16 382.76,152.14 382.95,152.11 383.14,152.09 383.33,152.07 383.52,152.05 383.71,152.04 383.90,152.02 384.08,152.01 384.27,152.00 384.46,151.99 384.65,151.99 384.84,151.99 385.03,151.99 385.22,151.99 385.40,151.99 385.59,152.00 385.78,152.01 385.97,152.02 386.15,152.03 386.34,152.05 386.53,152.07 386.71,152.09 386.90,152.11 387.08,152.14 387.27,152.16 387.45,152.19 387.64,152.23 387.82,152.26 388.01,152.30 388.19,152.34 388.37,152.38 388.56,152.42 388.74,152.47 388.92,152.51 389.10,152.56 389.28,152.62 389.47,152.67 389.65,152.73 389.83,152.78 390.01,152.84 390.19,152.91 390.37,152.97 390.55,153.04 390.73,153.11 390.91,153.18 391.08,153.25 391.26,153.32 391.44,153.40 391.62,153.48 391.79,153.56 391.97,153.64 392.14,153.72 392.32,153.81 392.50,153.90 392.67,153.99 392.84,154.08 393.02,154.17 393.19,154.27 393.37,154.36 393.54,154.46 393.71,154.56 393.88,154.66 394.05,154.76 394.23,154.87 394.40,154.98 394.57,155.08 394.74,155.19 394.90,155.31 395.07,155.42 395.24,155.53 395.41,155.65 395.58,155.77 395.74,155.89 395.91,156.01 396.08,156.13 396.24,156.26 396.41,156.38 396.57,156.51 396.74,156.64 396.90,156.77 397.06,156.90 397.23,157.03 397.39,157.16 397.55,157.30 397.71,157.43 397.87,157.57 398.03,157.71 398.19,157.85 398.35,157.99 398.51,158.14 398.67,158.28 398.83,158.43 398.98,158.57 399.14,158.72 399.30,158.87 399.45,159.02 399.61,159.17 399.76,159.33 399.91,159.48 400.07,159.63 400.22,159.79 400.37,159.95 400.52,160.11 400.67,160.26 400.83,160.42 400.97,160.59 401.12,160.75 401.27,160.91 401.42,161.08 401.57,161.24 401.72,161.41 401.86,161.57 402.01,161.74 402.15,161.91 402.30,162.08 402.44,162.25 402.58,162.42 402.73,162.59 402.87,162.77 403.01,162.94 403.15,163.11 403.29,163.29 403.43,163.46 403.57,163.64 403.71,163.82 403.85,164.00 403.98,164.18 404.12,164.35 404.25,164.53 404.39,164.72 404.52,164.90 404.66,165.08 404.79,165.26 404.92,165.44 405.05,165.63 405.18,165.81 405.31,166.00 405.44,166.18 405.57,166.37 405.70,166.55 405.83,166.74 405.96,166.93 406.08,167.11 406.21,167.30 406.33,167.49 406.46,167.68 406.58,167.87 406.70,168.06 406.82,168.25 406.94,168.44 407.06,168.63 407.18,168.82 407.30,169.01 407.42,169.20 407.54,169.39 407.65,169.58 407.77,169.77 407.88,169.96 408.00,170.16 408.11,170.35 408.22,170.54 408.34,170.73 408.45,170.92 408.56,171.12 408.67,171.31 408.78,171.50 408.88,171.69 408.99,171.89 409.10,172.08 409.20,172.27 409.31,172.47 409.41,172.66 409.52,172.85 409.62,173.04 409.72,173.24 409.82,173.43 409.92,173.62 410.02,173.81 410.12,174.00 410.21,174.20 410.31,174.39 410.41,174.58 410.50,174.77 410.60,174.96 410.69,175.15 410.78,175.34 410.87,175.53 410.96,175.72 411.05,175.91 411.14,176.10 411.23,176.29 411.32,176.48 411.40,176.66 411.49,176.85 411.57,177.04 411.66,177.23 411.74,177.41 411.82,177.60 411.90,177.78 411.98,177.97 412.06,178.15 412.14,178.34 412.21,178.52 412.29,178.70 412.37,178.89 412.44,179.07 412.51,179.25 412.59,179.43 412.66,179.61 412.73,179.79 412.80,179.97 412.87,180.15 412.93,180.32 413.00,180.50 413.07,180.68 413.13,180.85 413.20,181.02 413.26,181.20 413.32,181.37 413.38,181.54" fill="none" stroke="#ff33ff" stroke-width="0.6" stroke-linejoin="round" opacity="1"/>
<path d="M356.21,178.63L359.63,176.73L359.63,180.53Z" fill="#ff00ff"/>
<path d="M356.36,177.64L359.78,175.74L359.78,179.54Z" fill="#ff00ff"/>
<path d="M356.55,176.66L359.97,174.76L359.97,178.56Z" fill="#ff00ff"/>
<path d="M356.78,175.68L360.20,173.78L360.20,177.58Z" fill="#ff00ff"/>
<path d="M357.05,174.70L360.47,172.80L360.47,176.60Z" fill="#ff00ff"/>
<path d="M357.37,173.73L360.79,171.83L360.79,175.63Z" fill="#ff00ff"/>
<path d="M357.71,172.77L361.13,170.87L361.13,174.67Z" fill="#ff00ff"/>
<path d="M358.10,171.82L361.52,169.92L361.52,173.72Z" fill="#ff00ff"/>
<path d="M358.51,170.88L361.93,168.98L361.93,172.78Z" fill="#ff00ff"/>
<path d="M358.96,169.94L362.38,168.04L362.38,171.84Z" fill="#ff00ff"/>
<path d="M359.44,169.02L362.86,167.12L362.86,170.92Z" fill="#ff00ff"/>
<path d="M359.95,168.11L363.37,166.21L363.37,170.01Z" fill="#ff00ff"/>
<path d="M360.49,167.21L363.91,165.31L363.91,169.11Z" fill="#ff00ff"/>
<path d="M361.06,166.32L364.48,164.42L364.48,168.22Z" fill="#ff00ff"/>
<path d="M361.65,165.45L365.07,163.55L365.07,167.35Z" fill="#ff00ff"/>
<path d="M362.28,164.59L365.70,162.69L365.70,166.49Z" fill="#ff00ff"/>
<path d="M362.93,163.74L366.35,161.84L366.35,165.64Z" fill="#ff00ff"/>
<path d="M363.60,162.91L367.02,161.01L367.02,164.81Z" fill="#ff00ff"/>
<path d="M364.30,162.09L367.72,160.19L367.72,163.99Z" fill="#ff00ff"/>
<path d="M365.03,161.29L368.45,159.39L368.45,163.19Z" fill="#ff00ff"/>
<path d="M365.78,160.51L369.20,158.61L369.20,162.41Z" fill="#ff00ff"/>
<path d="M366.56,159.75L369.98,157.85L369.98,161.65Z" fill="#ff00ff"/>
<path d="M367.37,159.00L370.79,157.10L370.79,160.90Z" fill="#ff00ff"/>
<path d="M368.20,158.28L371.62,156.38L371.62,160.18Z" fill="#ff00ff"/>
<path d="M369.05,157.59L372.47,155.69L372.47,159.49Z" fill="#ff00ff"/>
<path d="M369.94,156.91L373.36,155.01L373.36,158.81Z" fill="#ff00ff"/>
<path d="M370.85,156.27L374.27,154.37L374.27,158.17Z" fill="#ff00ff"/>
<path d="M371.78,155.65L375.20,153.75L375.20,157.55Z" fill="#ff00ff"/>
<path d="M372.74,155.07L376.16,153.17L376.16,156.97Z" fill="#ff00ff"/>
<path d="M373.73,154.52L377.15,152.62L377.15,156.42Z" fill="#ff00ff"/>
<path d="M374.74,154.02L378.16,152.12L378.16,155.92Z" fill="#ff00ff"/>
<path d="M375.78,153.55L379.20,151.65L379.20,155.45Z" fill="#ff00ff"/>
<path d="M376.85,153.14L380.27,151.24L380.27,155.04Z" fill="#ff00ff"/>
<path d="M377.94,152.78L381.36,150.88L381.36,154.68Z" fill="#ff00ff"/>
<path d="M379.05,152.48L382.47,150.58L382.47,154.38Z" fill="#ff00ff"/>
<path d="M380.19,152.24L383.61,150.34L383.61,154.14Z" fill="#ff00ff"/>
<path d="M381.34,152.08L384.76,150.18L384.76,153.98Z" fill="#ff00ff"/>
<path d="M382.50,152.00L385.92,150.10L385.92,153.90Z" fill="#ff00ff"/>
<path d="M383.68,152.00L387.10,150.10L387.10,153.90Z" fill="#ff00ff"/>
<path d="M384.85,152.09L388.27,150.19L388.27,153.99Z" fill="#ff00ff"/>
<path d="M386.02,152.28L389.44,150.38L389.44,154.18Z" fill="#ff00ff"/>
<path d="M387.18,152.56L390.60,150.66L390.60,154.46Z" fill="#ff00ff"/>
<path d="M388.32,152.92L391.74,151.02L391.74,154.82Z" fill="#ff00ff"/>
<path d="M389.43,153.35L392.85,151.45L392.85,155.25Z" fill="#ff00ff"/>
<path d="M390.97,154.09L394.39,152.19L394.39,155.99Z" fill="#ff00ff"/>
<path d="M393.14,155.39L396.56,153.49L396.56,157.29Z" fill="#ff00ff"/>
<path d="M395.71,157.35L399.13,155.45L399.13,159.25Z" fill="#ff00ff"/>
<path d="M398.15,159.61L401.57,157.71L401.57,161.51Z" fill="#ff00ff"/>
<path d="M400.46,162.15L403.88,160.25L403.88,164.05Z" fill="#ff00ff"/>
<path d="M402.64,164.92L406.06,163.02L406.06,166.82Z" fill="#ff00ff"/>
<path d="M404.71,167.91L408.13,166.01L408.13,169.81Z" fill="#ff00ff"/>
<path d="M406.65,171.11L410.07,169.21L410.07,173.01Z" fill="#ff00ff"/>
<path d="M408.47,174.51L411.89,172.61L411.89,176.41Z" fill="#ff00ff"/>
<path d="M410.14,178.11L413.56,176.21L413.56,180.01Z" fill="#ff00ff"/>
<path d="M411.48,181.54L414.90,179.64L414.90,183.44Z" fill="#ff00ff"/>
<rect x="347" y="17" width="243.9" height="172.6" fill="none" stroke="#333" stroke-width="1.5"/>
<line x1="523.1" x2="543.1" y1="23.5" y2="23.5" stroke="#55eeff" stroke-width="1" stroke-dasharray="1.2,1"/>
<path d="M533.40,21.20L535.70,23.50L533.40,25.80L531.10,23.50Z" fill="#00e5ff"/>
<text x="545.30" y="26.40" style="font-family:&quot;Liberation Sans&quot;,sans-serif;font-size:7.4px;font-weight:bold" text-anchor="start" fill="#000" >50°C</text>
<line x1="523.1" x2="543.1" y1="35.5" y2="35.5" stroke="#ff2222" stroke-width="1"/>
<path d="M533.40,32.70L535.70,35.00L533.40,37.30L531.10,35.00Z" fill="#ff0000"/>
<text x="545.30" y="37.90" style="font-family:&quot;Liberation Sans&quot;,sans-serif;font-size:7.4px;font-weight:bold" text-anchor="start" fill="#000" >100°C</text>
<line x1="523.1" x2="543.1" y1="47.5" y2="47.5" stroke="#55ff55" stroke-width="1"/>
<path d="M533.40,45.10L535.70,49.24L531.10,49.24Z" fill="#00ee00"/>
<text x="545.30" y="50.30" style="font-family:&quot;Liberation Sans&quot;,sans-serif;font-size:7.4px;font-weight:bold" text-anchor="start" fill="#000" >150°C</text>
<line x1="523.1" x2="543.1" y1="58.5" y2="58.5" stroke="#6666ff" stroke-width="1"/>
<path d="M533.40,61.20L535.70,57.06L531.10,57.06Z" fill="#0000ee"/>
<text x="545.30" y="61.80" style="font-family:&quot;Liberation Sans&quot;,sans-serif;font-size:7.4px;font-weight:bold" text-anchor="start" fill="#000" >200°C</text>
<line x1="523.1" x2="543.1" y1="71.5" y2="71.5" stroke="#ff44ff" stroke-width="1" stroke-dasharray="1.2,1"/>
<path d="M531.10,71.20L535.24,68.90L535.24,73.50Z" fill="#ff00ff"/>
<text x="545.30" y="74.10" style="font-family:&quot;Liberation Sans&quot;,sans-serif;font-size:7.4px;font-weight:bold" text-anchor="start" fill="#000" >220°C</text>
<text x="315.00" y="212.50" style="font-family:&quot;Liberation Serif&quot;,serif;font-size:15px;font-weight:normal" text-anchor="start" fill="#000" >(d)</text>
<text x="345.00" y="410.90" style="font-family:&quot;Liberation Sans&quot;,sans-serif;font-size:6.9px;font-weight:bold" text-anchor="middle" fill="#000" class="ns">0</text>
<line x1="345.00" x2="345.00" y1="400.2" y2="402.2" stroke="#888" stroke-width="0.6"/>
<text x="394.96" y="410.90" style="font-family:&quot;Liberation Sans&quot;,sans-serif;font-size:6.9px;font-weight:bold" text-anchor="middle" fill="#000" class="ns">200</text>
<line x1="394.96" x2="394.96" y1="400.2" y2="402.2" stroke="#888" stroke-width="0.6"/>
<text x="444.92" y="410.90" style="font-family:&quot;Liberation Sans&quot;,sans-serif;font-size:6.9px;font-weight:bold" text-anchor="middle" fill="#000" class="ns">400</text>
<line x1="444.92" x2="444.92" y1="400.2" y2="402.2" stroke="#888" stroke-width="0.6"/>
<text x="494.88" y="410.90" style="font-family:&quot;Liberation Sans&quot;,sans-serif;font-size:6.9px;font-weight:bold" text-anchor="middle" fill="#000" class="ns">600</text>
<line x1="494.88" x2="494.88" y1="400.2" y2="402.2" stroke="#888" stroke-width="0.6"/>
<text x="544.84" y="410.90" style="font-family:&quot;Liberation Sans&quot;,sans-serif;font-size:6.9px;font-weight:bold" text-anchor="middle" fill="#000" class="ns">800</text>
<line x1="544.84" x2="544.84" y1="400.2" y2="402.2" stroke="#888" stroke-width="0.6"/>
<text x="594.80" y="410.90" style="font-family:&quot;Liberation Sans&quot;,sans-serif;font-size:6.9px;font-weight:bold" text-anchor="middle" fill="#000" class="ns">1000</text>
<line x1="594.80" x2="594.80" y1="400.2" y2="402.2" stroke="#888" stroke-width="0.6"/>
<text x="340.10" y="387.99" style="font-family:&quot;Liberation Sans&quot;,sans-serif;font-size:6.9px;font-weight:bold" text-anchor="end" fill="#000" class="ns">0</text>
<line x1="341" x2="344.5" y1="385.49" y2="385.49" stroke="#888" stroke-width="0.6"/>
<text x="340.10" y="358.57" style="font-family:&quot;Liberation Sans&quot;,sans-serif;font-size:6.9px;font-weight:bold" text-anchor="end" fill="#000" class="ns">200</text>
<line x1="341" x2="344.5" y1="356.07" y2="356.07" stroke="#888" stroke-width="0.6"/>
<text x="340.10" y="329.16" style="font-family:&quot;Liberation Sans&quot;,sans-serif;font-size:6.9px;font-weight:bold" text-anchor="end" fill="#000" class="ns">400</text>
<line x1="341" x2="344.5" y1="326.66" y2="326.66" stroke="#888" stroke-width="0.6"/>
<text x="340.10" y="299.74" style="font-family:&quot;Liberation Sans&quot;,sans-serif;font-size:6.9px;font-weight:bold" text-anchor="end" fill="#000" class="ns">600</text>
<line x1="341" x2="344.5" y1="297.24" y2="297.24" stroke="#888" stroke-width="0.6"/>
<text x="340.10" y="270.32" style="font-family:&quot;Liberation Sans&quot;,sans-serif;font-size:6.9px;font-weight:bold" text-anchor="end" fill="#000" class="ns">800</text>
<line x1="341" x2="344.5" y1="267.82" y2="267.82" stroke="#888" stroke-width="0.6"/>
<text x="340.10" y="240.91" style="font-family:&quot;Liberation Sans&quot;,sans-serif;font-size:6.9px;font-weight:bold" text-anchor="end" fill="#000" class="ns">1000</text>
<line x1="341" x2="344.5" y1="238.41" y2="238.41" stroke="#888" stroke-width="0.6"/>
<text x="448.6" y="419.1" style="font-family:&quot;Liberation Sans&quot;,sans-serif;font-size:8.3px;font-weight:bold">Z<tspan dy="2.6" style="font-size:7px">re</tspan><tspan dy="-2.6" style="font-size:8.1px;font-weight:normal"> (kΩ cm)</tspan></text>
<text transform="translate(325.6,343.8) rotate(-90)" style="font-family:&quot;Liberation Sans&quot;,sans-serif;font-size:8.8px;font-weight:bold">-Z<tspan dy="2.2" style="font-size:7.3px">im</tspan><tspan dy="-2.2" style="font-size:9.2px;font-weight:normal"> (kΩ cm)</tspan></text>
<text x="388.70" y="244.20" style="font-family:&quot;Liberation Sans&quot;,sans-serif;font-size:8.3px;font-weight:bold">4 MHz</text>
<path d="M415.67,241.46H423.30M417.66,239.80L415.67,241.46L417.66,243.12M421.31,239.80L423.30,241.46L421.31,243.12" fill="none" stroke="#000" stroke-width="0.913"/>
<text x="426.29" y="244.20" style="font-family:&quot;Liberation Sans&quot;,sans-serif;font-size:8.3px;font-weight:bold">50 Hz</text>
<polyline points="352.00,385.10 352.50,384.94 353.00,384.78 353.50,384.62 354.00,384.46 354.50,384.30 355.00,384.14 355.50,383.98 356.00,383.82 356.50,383.66 357.00,383.50 357.46,383.29 357.92,383.08 358.38,382.87 358.84,382.66 359.30,382.45 359.76,382.24 360.22,382.03 360.68,381.82 361.14,381.61 361.60,381.40 362.01,381.27 362.42,381.14 362.83,381.01 363.24,380.88 363.65,380.75 364.06,380.62 364.47,380.49 364.88,380.36 365.29,380.23 365.70,380.10 366.12,379.98 366.54,379.86 366.96,379.74 367.38,379.62 367.80,379.50 368.22,379.38 368.64,379.26 369.06,379.14 369.48,379.02 369.90,378.90 370.31,378.65 370.72,378.40 371.13,378.15 371.54,377.90 371.95,377.65 372.36,377.40 372.77,377.15 373.18,376.90 373.59,376.65 374.00,376.40 374.39,376.10 374.78,375.80 375.17,375.50 375.56,375.20 375.95,374.90 376.34,374.60 376.73,374.30 377.12,374.00 377.51,373.70 377.90,373.40 378.23,373.12 378.56,372.84 378.89,372.56 379.22,372.28 379.55,372.00 379.88,371.72 380.21,371.44 380.54,371.16 380.87,370.88 381.20,370.60 381.98,369.99 382.76,369.38 383.54,368.77 384.32,368.16 385.10,367.55 385.88,366.94 386.66,366.33 387.44,365.72 388.22,365.11 389.00,364.50 390.16,363.45 391.32,362.40 392.48,361.35 393.64,360.30 394.80,359.25 395.96,358.20 397.12,357.15 398.28,356.10 399.44,355.05 400.60,354.00 401.76,352.92 402.92,351.84 404.08,350.76 405.24,349.68 406.40,348.60 407.56,347.52 408.72,346.44 409.88,345.36 411.04,344.28 412.20,343.20 413.36,342.12 414.52,341.04 415.68,339.96 416.84,338.88 418.00,337.80 419.16,336.72 420.32,335.64 421.48,334.56 422.64,333.48 423.80,332.40 427.30,329.29 430.80,326.18 434.30,323.07 437.80,319.96 441.30,316.85 444.80,313.74 448.30,310.63 451.80,307.52 455.30,304.41 458.80,301.30 461.02,299.23 463.24,297.16 465.46,295.09 467.68,293.02 469.90,290.95 472.12,288.88 474.34,286.81 476.56,284.74 478.78,282.67 481.00,280.60" fill="none" stroke="#bb88dd" stroke-width="0.6" stroke-linejoin="round" opacity="1"/>
<rect x="350.30" y="383.40" width="3.40" height="3.40" fill="none" stroke="#aa66cc" stroke-width="0.75"/>
<rect x="351.25" y="383.10" width="3.40" height="3.40" fill="none" stroke="#aa66cc" stroke-width="0.75"/>
<rect x="352.22" y="382.78" width="3.40" height="3.40" fill="none" stroke="#aa66cc" stroke-width="0.75"/>
<rect x="353.21" y="382.47" width="3.40" height="3.40" fill="none" stroke="#aa66cc" stroke-width="0.75"/>
<rect x="354.23" y="382.14" width="3.40" height="3.40" fill="none" stroke="#aa66cc" stroke-width="0.75"/>
<rect x="355.26" y="381.81" width="3.40" height="3.40" fill="none" stroke="#aa66cc" stroke-width="0.75"/>
<rect x="356.26" y="381.36" width="3.40" height="3.40" fill="none" stroke="#aa66cc" stroke-width="0.75"/>
<rect x="357.29" y="380.89" width="3.40" height="3.40" fill="none" stroke="#aa66cc" stroke-width="0.75"/>
<rect x="358.33" y="380.42" width="3.40" height="3.40" fill="none" stroke="#aa66cc" stroke-width="0.75"/>
<rect x="359.40" y="379.93" width="3.40" height="3.40" fill="none" stroke="#aa66cc" stroke-width="0.75"/>
<rect x="360.51" y="379.51" width="3.40" height="3.40" fill="none" stroke="#aa66cc" stroke-width="0.75"/>
<rect x="363.11" y="378.68" width="3.40" height="3.40" fill="none" stroke="#aa66cc" stroke-width="0.75"/>
<rect x="367.40" y="377.43" width="3.40" height="3.40" fill="none" stroke="#aa66cc" stroke-width="0.75"/>
<rect x="371.48" y="375.20" width="3.40" height="3.40" fill="none" stroke="#aa66cc" stroke-width="0.75"/>
<rect x="375.41" y="372.31" width="3.40" height="3.40" fill="none" stroke="#aa66cc" stroke-width="0.75"/>
<rect x="379.32" y="369.05" width="3.40" height="3.40" fill="none" stroke="#aa66cc" stroke-width="0.75"/>
<rect x="383.42" y="365.84" width="3.40" height="3.40" fill="none" stroke="#aa66cc" stroke-width="0.75"/>
<rect x="387.50" y="362.62" width="3.40" height="3.40" fill="none" stroke="#aa66cc" stroke-width="0.75"/>
<rect x="391.37" y="359.12" width="3.40" height="3.40" fill="none" stroke="#aa66cc" stroke-width="0.75"/>
<rect x="395.23" y="355.62" width="3.40" height="3.40" fill="none" stroke="#aa66cc" stroke-width="0.75"/>
<rect x="399.10" y="352.12" width="3.40" height="3.40" fill="none" stroke="#aa66cc" stroke-width="0.75"/>
<rect x="402.92" y="348.56" width="3.40" height="3.40" fill="none" stroke="#aa66cc" stroke-width="0.75"/>
<rect x="406.74" y="345.00" width="3.40" height="3.40" fill="none" stroke="#aa66cc" stroke-width="0.75"/>
<rect x="410.57" y="341.43" width="3.40" height="3.40" fill="none" stroke="#aa66cc" stroke-width="0.75"/>
<rect x="414.40" y="337.87" width="3.40" height="3.40" fill="none" stroke="#aa66cc" stroke-width="0.75"/>
<rect x="418.23" y="334.30" width="3.40" height="3.40" fill="none" stroke="#aa66cc" stroke-width="0.75"/>
<rect x="422.07" y="330.73" width="3.40" height="3.40" fill="none" stroke="#aa66cc" stroke-width="0.75"/>
<rect x="425.99" y="327.24" width="3.40" height="3.40" fill="none" stroke="#aa66cc" stroke-width="0.75"/>
<rect x="429.91" y="323.76" width="3.40" height="3.40" fill="none" stroke="#aa66cc" stroke-width="0.75"/>
<rect x="433.84" y="320.27" width="3.40" height="3.40" fill="none" stroke="#aa66cc" stroke-width="0.75"/>
<rect x="437.77" y="316.78" width="3.40" height="3.40" fill="none" stroke="#aa66cc" stroke-width="0.75"/>
<rect x="441.70" y="313.28" width="3.40" height="3.40" fill="none" stroke="#aa66cc" stroke-width="0.75"/>
<rect x="445.63" y="309.79" width="3.40" height="3.40" fill="none" stroke="#aa66cc" stroke-width="0.75"/>
<rect x="449.57" y="306.29" width="3.40" height="3.40" fill="none" stroke="#aa66cc" stroke-width="0.75"/>
<rect x="453.51" y="302.79" width="3.40" height="3.40" fill="none" stroke="#aa66cc" stroke-width="0.75"/>
<rect x="457.45" y="299.27" width="3.40" height="3.40" fill="none" stroke="#aa66cc" stroke-width="0.75"/>
<rect x="461.31" y="295.67" width="3.40" height="3.40" fill="none" stroke="#aa66cc" stroke-width="0.75"/>
<rect x="465.18" y="292.07" width="3.40" height="3.40" fill="none" stroke="#aa66cc" stroke-width="0.75"/>
<rect x="469.04" y="288.46" width="3.40" height="3.40" fill="none" stroke="#aa66cc" stroke-width="0.75"/>
<rect x="472.91" y="284.86" width="3.40" height="3.40" fill="none" stroke="#aa66cc" stroke-width="0.75"/>
<rect x="476.79" y="281.24" width="3.40" height="3.40" fill="none" stroke="#aa66cc" stroke-width="0.75"/>
<rect x="479.30" y="278.90" width="3.40" height="3.40" fill="none" stroke="#aa66cc" stroke-width="0.75"/>
<polyline points="352.00,385.10 352.50,384.94 353.00,384.78 353.50,384.62 354.00,384.46 354.50,384.30 355.00,384.14 355.50,383.98 356.00,383.82 356.50,383.66 357.00,383.50 357.46,383.29 357.92,383.08 358.38,382.87 358.84,382.66 359.30,382.45 359.76,382.24 360.22,382.03 360.68,381.82 361.14,381.61" fill="none" stroke="#771188" stroke-width="3.2" stroke-linejoin="round" opacity="1"/>
<polyline points="359.10,386.40 359.99,386.21 360.88,386.02 361.77,385.83 362.66,385.64 363.55,385.45 364.44,385.26 365.33,385.07 366.22,384.88 367.11,384.69 368.00,384.50 369.02,384.27 370.04,384.04 371.06,383.81 372.08,383.58 373.10,383.35 374.12,383.12 375.14,382.89 376.16,382.66 377.18,382.43 378.20,382.20 378.53,381.99 378.86,381.78 379.19,381.57 379.52,381.36 379.85,381.15 380.18,380.94 380.51,380.73 380.84,380.52 381.17,380.31 381.50,380.10 381.92,379.82 382.34,379.54 382.76,379.26 383.18,378.98 383.60,378.70 384.02,378.42 384.44,378.14 384.86,377.86 385.28,377.58 385.70,377.30 386.14,376.91 386.58,376.52 387.02,376.13 387.46,375.74 387.90,375.35 388.34,374.96 388.78,374.57 389.22,374.18 389.66,373.79 390.10,373.40 390.54,373.04 390.98,372.68 391.42,372.32 391.86,371.96 392.30,371.60 392.74,371.24 393.18,370.88 393.62,370.52 394.06,370.16 394.50,369.80 394.94,369.38 395.38,368.96 395.82,368.54 396.26,368.12 396.70,367.70 397.14,367.28 397.58,366.86 398.02,366.44 398.46,366.02 398.90,365.60 399.35,365.49 399.80,365.38 400.25,365.27 400.70,365.16 401.15,365.05 401.60,364.94 402.05,364.83 402.50,364.72 402.95,364.61 403.40,364.50 403.83,364.12 404.26,363.74 404.69,363.36 405.12,362.98 405.55,362.60 405.98,362.22 406.41,361.84 406.84,361.46 407.27,361.08 407.70,360.70 408.15,360.41 408.60,360.12 409.05,359.83 409.50,359.54 409.95,359.25 410.40,358.96 410.85,358.67 411.30,358.38 411.75,358.09 412.20,357.80 412.65,357.42 413.10,357.04 413.55,356.66 414.00,356.28 414.45,355.90 414.90,355.52 415.35,355.14 415.80,354.76 416.25,354.38 416.70,354.00 417.46,353.26 418.22,352.52 418.98,351.78 419.74,351.04 420.50,350.30 421.26,349.56 422.02,348.82 422.78,348.08 423.54,347.34 424.30,346.60 430.31,341.79 436.32,336.98 442.33,332.17 448.34,327.36 454.35,322.55 460.36,317.74 466.37,312.93 472.38,308.12 478.39,303.31 484.40,298.50 489.55,294.12 494.70,289.74 499.85,285.36 505.00,280.98 510.15,276.60 515.30,272.22 520.45,267.84 525.60,263.46 530.75,259.08 535.90,254.70" fill="none" stroke="#3355ff" stroke-width="0.6" stroke-linejoin="round" opacity="1"/>
<path d="M359.10,384.40L361.10,388.00L357.10,388.00Z" fill="#0022ff"/>
<path d="M359.98,384.21L361.98,387.81L357.98,387.81Z" fill="#0022ff"/>
<path d="M360.87,384.02L362.87,387.62L358.87,387.62Z" fill="#0022ff"/>
<path d="M361.77,383.83L363.77,387.43L359.77,387.43Z" fill="#0022ff"/>
<path d="M362.68,383.64L364.68,387.24L360.68,387.24Z" fill="#0022ff"/>
<path d="M363.59,383.44L365.59,387.04L361.59,387.04Z" fill="#0022ff"/>
<path d="M364.52,383.24L366.52,386.84L362.52,386.84Z" fill="#0022ff"/>
<path d="M365.46,383.04L367.46,386.64L363.46,386.64Z" fill="#0022ff"/>
<path d="M366.41,382.84L368.41,386.44L364.41,386.44Z" fill="#0022ff"/>
<path d="M367.36,382.64L369.36,386.24L365.36,386.24Z" fill="#0022ff"/>
<path d="M368.33,382.43L370.33,386.03L366.33,386.03Z" fill="#0022ff"/>
<path d="M369.30,382.21L371.30,385.81L367.30,385.81Z" fill="#0022ff"/>
<path d="M370.29,381.98L372.29,385.58L368.29,385.58Z" fill="#0022ff"/>
<path d="M371.29,381.76L373.29,385.36L369.29,385.36Z" fill="#0022ff"/>
<path d="M372.29,381.53L374.29,385.13L370.29,385.13Z" fill="#0022ff"/>
<path d="M373.31,381.30L375.31,384.90L371.31,384.90Z" fill="#0022ff"/>
<path d="M374.34,381.07L376.34,384.67L372.34,384.67Z" fill="#0022ff"/>
<path d="M375.37,380.84L377.37,384.44L373.37,384.44Z" fill="#0022ff"/>
<path d="M376.42,380.60L378.42,384.20L374.42,384.20Z" fill="#0022ff"/>
<path d="M377.48,380.36L379.48,383.96L375.48,383.96Z" fill="#0022ff"/>
<path d="M378.51,380.01L380.51,383.61L376.51,383.61Z" fill="#0022ff"/>
<path d="M380.87,378.50L382.87,382.10L378.87,382.10Z" fill="#0022ff"/>
<path d="M384.87,375.85L386.87,379.45L382.87,379.45Z" fill="#0022ff"/>
<path d="M388.55,372.77L390.55,376.37L386.55,376.37Z" fill="#0022ff"/>
<path d="M392.22,369.67L394.22,373.27L390.22,373.27Z" fill="#0022ff"/>
<path d="M395.85,366.51L397.85,370.11L393.85,370.11Z" fill="#0022ff"/>
<path d="M399.48,363.46L401.48,367.06L397.48,367.06Z" fill="#0022ff"/>
<path d="M403.99,361.98L405.99,365.58L401.99,365.58Z" fill="#0022ff"/>
<path d="M407.60,358.79L409.60,362.39L405.60,362.39Z" fill="#0022ff"/>
<path d="M411.64,356.16L413.64,359.76L409.64,359.76Z" fill="#0022ff"/>
<path d="M415.38,353.11L417.38,356.71L413.38,356.71Z" fill="#0022ff"/>
<path d="M418.93,349.83L420.93,353.43L416.93,353.43Z" fill="#0022ff"/>
<path d="M422.39,346.46L424.39,350.06L420.39,350.06Z" fill="#0022ff"/>
<path d="M426.00,343.24L428.00,346.84L424.00,346.84Z" fill="#0022ff"/>
<path d="M429.78,340.21L431.78,343.81L427.78,343.81Z" fill="#0022ff"/>
<path d="M433.56,337.19L435.56,340.79L431.56,340.79Z" fill="#0022ff"/>
<path d="M437.35,334.16L439.35,337.76L435.35,337.76Z" fill="#0022ff"/>
<path d="M441.14,331.12L443.14,334.72L439.14,334.72Z" fill="#0022ff"/>
<path d="M444.93,328.09L446.93,331.69L442.93,331.69Z" fill="#0022ff"/>
<path d="M448.73,325.05L450.73,328.65L446.73,328.65Z" fill="#0022ff"/>
<path d="M452.52,322.01L454.52,325.61L450.52,325.61Z" fill="#0022ff"/>
<path d="M456.32,318.97L458.32,322.57L454.32,322.57Z" fill="#0022ff"/>
<path d="M460.12,315.93L462.12,319.53L458.12,319.53Z" fill="#0022ff"/>
<path d="M463.93,312.88L465.93,316.48L461.93,316.48Z" fill="#0022ff"/>
<path d="M467.74,309.83L469.74,313.43L465.74,313.43Z" fill="#0022ff"/>
<path d="M471.55,306.78L473.55,310.38L469.55,310.38Z" fill="#0022ff"/>
<path d="M475.36,303.73L477.36,307.33L473.36,307.33Z" fill="#0022ff"/>
<path d="M479.18,300.68L481.18,304.28L477.18,304.28Z" fill="#0022ff"/>
<path d="M483.00,297.62L485.00,301.22L481.00,301.22Z" fill="#0022ff"/>
<path d="M486.76,294.49L488.76,298.09L484.76,298.09Z" fill="#0022ff"/>
<path d="M490.49,291.32L492.49,294.92L488.49,294.92Z" fill="#0022ff"/>
<path d="M494.23,288.14L496.23,291.74L492.23,291.74Z" fill="#0022ff"/>
<path d="M497.96,284.96L499.96,288.56L495.96,288.56Z" fill="#0022ff"/>
<path d="M501.70,281.78L503.70,285.38L499.70,285.38Z" fill="#0022ff"/>
<path d="M505.45,278.60L507.45,282.20L503.45,282.20Z" fill="#0022ff"/>
<path d="M509.19,275.42L511.19,279.02L507.19,279.02Z" fill="#0022ff"/>
<path d="M512.94,272.23L514.94,275.83L510.94,275.83Z" fill="#0022ff"/>
<path d="M516.69,269.04L518.69,272.64L514.69,272.64Z" fill="#0022ff"/>
<path d="M520.44,265.85L522.44,269.45L518.44,269.45Z" fill="#0022ff"/>
<path d="M524.20,262.65L526.20,266.25L522.20,266.25Z" fill="#0022ff"/>
<path d="M527.95,259.46L529.95,263.06L525.95,263.06Z" fill="#0022ff"/>
<path d="M531.72,256.26L533.72,259.86L529.72,259.86Z" fill="#0022ff"/>
<path d="M535.48,253.06L537.48,256.66L533.48,256.66Z" fill="#0022ff"/>
<polyline points="359.10,386.40 359.99,386.21 360.88,386.02 361.77,385.83 362.66,385.64 363.55,385.45 364.44,385.26 365.33,385.07 366.22,384.88 367.11,384.69 368.00,384.50 369.02,384.27 370.04,384.04 371.06,383.81 372.08,383.58 373.10,383.35 374.12,383.12 375.14,382.89 376.16,382.66 377.18,382.43" fill="none" stroke="#0011ff" stroke-width="3.8" stroke-linejoin="round" opacity="1"/>
<polyline points="370.70,385.10 371.93,384.94 373.16,384.78 374.39,384.62 375.62,384.46 376.85,384.30 378.08,384.14 379.31,383.98 380.54,383.82 381.77,383.66 383.00,383.50 384.26,383.29 385.52,383.08 386.78,382.87 388.04,382.66 389.30,382.45 390.56,382.24 391.82,382.03 393.08,381.82 394.34,381.61 395.60,381.40 395.93,381.46 396.26,381.52 396.59,381.58 396.92,381.64 397.25,381.70 397.58,381.76 397.91,381.82 398.24,381.88 398.57,381.94 398.90,382.00 399.32,381.69 399.74,381.38 400.16,381.07 400.58,380.76 401.00,380.45 401.42,380.14 401.84,379.83 402.26,379.52 402.68,379.21 403.10,378.90 403.60,378.57 404.10,378.24 404.60,377.91 405.10,377.58 405.60,377.25 406.10,376.92 406.60,376.59 407.10,376.26 407.60,375.93 408.10,375.60 408.51,375.27 408.92,374.94 409.33,374.61 409.74,374.28 410.15,373.95 410.56,373.62 410.97,373.29 411.38,372.96 411.79,372.63 412.20,372.30 412.65,371.88 413.10,371.46 413.55,371.04 414.00,370.62 414.45,370.20 414.90,369.78 415.35,369.36 415.80,368.94 416.25,368.52 416.70,368.10 417.13,367.69 417.56,367.28 417.99,366.87 418.42,366.46 418.85,366.05 419.28,365.64 419.71,365.23 420.14,364.82 420.57,364.41 421.00,364.00 421.33,363.67 421.66,363.34 421.99,363.01 422.32,362.68 422.65,362.35 422.98,362.02 423.31,361.69 423.64,361.36 423.97,361.03 424.30,360.70 427.75,358.03 431.20,355.36 434.65,352.69 438.10,350.02 441.55,347.35 445.00,344.68 448.45,342.01 451.90,339.34 455.35,336.67 458.80,334.00 461.36,331.73 463.92,329.46 466.48,327.19 469.04,324.92 471.60,322.65 474.16,320.38 476.72,318.11 479.28,315.84 481.84,313.57 484.40,311.30 494.10,302.92 503.80,294.54 513.50,286.16 523.20,277.78 532.90,269.40 542.60,261.02 552.30,252.64 562.00,244.26 571.70,235.88 581.40,227.50" fill="none" stroke="#ff6666" stroke-width="0.5" stroke-linejoin="round" opacity="1"/>
<circle cx="370.70" cy="385.10" r="1.40" fill="none" stroke="#ff3333" stroke-width="0.7"/>
<circle cx="372.19" cy="384.91" r="1.40" fill="none" stroke="#ff3333" stroke-width="0.7"/>
<circle cx="373.68" cy="384.71" r="1.40" fill="none" stroke="#ff3333" stroke-width="0.7"/>
<circle cx="375.18" cy="384.52" r="1.40" fill="none" stroke="#ff3333" stroke-width="0.7"/>
<circle cx="376.69" cy="384.32" r="1.40" fill="none" stroke="#ff3333" stroke-width="0.7"/>
<circle cx="378.20" cy="384.12" r="1.40" fill="none" stroke="#ff3333" stroke-width="0.7"/>
<circle cx="379.71" cy="383.93" r="1.40" fill="none" stroke="#ff3333" stroke-width="0.7"/>
<circle cx="381.24" cy="383.73" r="1.40" fill="none" stroke="#ff3333" stroke-width="0.7"/>
<circle cx="382.77" cy="383.53" r="1.40" fill="none" stroke="#ff3333" stroke-width="0.7"/>
<circle cx="384.30" cy="383.28" r="1.40" fill="none" stroke="#ff3333" stroke-width="0.7"/>
<circle cx="385.83" cy="383.03" r="1.40" fill="none" stroke="#ff3333" stroke-width="0.7"/>
<circle cx="387.37" cy="382.77" r="1.40" fill="none" stroke="#ff3333" stroke-width="0.7"/>
<circle cx="388.92" cy="382.51" r="1.40" fill="none" stroke="#ff3333" stroke-width="0.7"/>
<circle cx="390.47" cy="382.26" r="1.40" fill="none" stroke="#ff3333" stroke-width="0.7"/>
<circle cx="392.03" cy="382.00" r="1.40" fill="none" stroke="#ff3333" stroke-width="0.7"/>
<circle cx="393.59" cy="381.73" r="1.40" fill="none" stroke="#ff3333" stroke-width="0.7"/>
<circle cx="395.16" cy="381.47" r="1.40" fill="none" stroke="#ff3333" stroke-width="0.7"/>
<circle cx="396.74" cy="381.61" r="1.40" fill="none" stroke="#ff3333" stroke-width="0.7"/>
<circle cx="400.24" cy="381.01" r="1.40" fill="none" stroke="#ff3333" stroke-width="0.7"/>
<circle cx="404.32" cy="378.10" r="1.40" fill="none" stroke="#ff3333" stroke-width="0.7"/>
<circle cx="408.48" cy="375.29" r="1.40" fill="none" stroke="#ff3333" stroke-width="0.7"/>
<circle cx="412.40" cy="372.11" r="1.40" fill="none" stroke="#ff3333" stroke-width="0.7"/>
<circle cx="416.10" cy="368.66" r="1.40" fill="none" stroke="#ff3333" stroke-width="0.7"/>
<circle cx="419.78" cy="365.16" r="1.40" fill="none" stroke="#ff3333" stroke-width="0.7"/>
<circle cx="423.41" cy="361.59" r="1.40" fill="none" stroke="#ff3333" stroke-width="0.7"/>
<circle cx="427.35" cy="358.34" r="1.40" fill="none" stroke="#ff3333" stroke-width="0.7"/>
<circle cx="431.40" cy="355.20" r="1.40" fill="none" stroke="#ff3333" stroke-width="0.7"/>
<circle cx="435.47" cy="352.06" r="1.40" fill="none" stroke="#ff3333" stroke-width="0.7"/>
<circle cx="439.55" cy="348.90" r="1.40" fill="none" stroke="#ff3333" stroke-width="0.7"/>
<circle cx="443.65" cy="345.73" r="1.40" fill="none" stroke="#ff3333" stroke-width="0.7"/>
<circle cx="447.75" cy="342.55" r="1.40" fill="none" stroke="#ff3333" stroke-width="0.7"/>
<circle cx="451.88" cy="339.36" r="1.40" fill="none" stroke="#ff3333" stroke-width="0.7"/>
<circle cx="456.01" cy="336.16" r="1.40" fill="none" stroke="#ff3333" stroke-width="0.7"/>
<circle cx="460.09" cy="332.86" r="1.40" fill="none" stroke="#ff3333" stroke-width="0.7"/>
<circle cx="464.03" cy="329.37" r="1.40" fill="none" stroke="#ff3333" stroke-width="0.7"/>
<circle cx="467.98" cy="325.86" r="1.40" fill="none" stroke="#ff3333" stroke-width="0.7"/>
<circle cx="471.94" cy="322.35" r="1.40" fill="none" stroke="#ff3333" stroke-width="0.7"/>
<circle cx="475.92" cy="318.82" r="1.40" fill="none" stroke="#ff3333" stroke-width="0.7"/>
<circle cx="479.91" cy="315.28" r="1.40" fill="none" stroke="#ff3333" stroke-width="0.7"/>
<circle cx="483.92" cy="311.73" r="1.40" fill="none" stroke="#ff3333" stroke-width="0.7"/>
<circle cx="487.97" cy="308.21" r="1.40" fill="none" stroke="#ff3333" stroke-width="0.7"/>
<circle cx="492.05" cy="304.69" r="1.40" fill="none" stroke="#ff3333" stroke-width="0.7"/>
<circle cx="496.14" cy="301.16" r="1.40" fill="none" stroke="#ff3333" stroke-width="0.7"/>
<circle cx="500.24" cy="297.61" r="1.40" fill="none" stroke="#ff3333" stroke-width="0.7"/>
<circle cx="504.36" cy="294.06" r="1.40" fill="none" stroke="#ff3333" stroke-width="0.7"/>
<circle cx="508.49" cy="290.49" r="1.40" fill="none" stroke="#ff3333" stroke-width="0.7"/>
<circle cx="512.63" cy="286.91" r="1.40" fill="none" stroke="#ff3333" stroke-width="0.7"/>
<circle cx="516.79" cy="283.32" r="1.40" fill="none" stroke="#ff3333" stroke-width="0.7"/>
<circle cx="520.96" cy="279.71" r="1.40" fill="none" stroke="#ff3333" stroke-width="0.7"/>
<circle cx="525.15" cy="276.10" r="1.40" fill="none" stroke="#ff3333" stroke-width="0.7"/>
<circle cx="529.35" cy="272.47" r="1.40" fill="none" stroke="#ff3333" stroke-width="0.7"/>
<circle cx="533.56" cy="268.83" r="1.40" fill="none" stroke="#ff3333" stroke-width="0.7"/>
<circle cx="537.79" cy="265.18" r="1.40" fill="none" stroke="#ff3333" stroke-width="0.7"/>
<circle cx="542.03" cy="261.52" r="1.40" fill="none" stroke="#ff3333" stroke-width="0.7"/>
<circle cx="546.28" cy="257.84" r="1.40" fill="none" stroke="#ff3333" stroke-width="0.7"/>
<circle cx="550.55" cy="254.15" r="1.40" fill="none" stroke="#ff3333" stroke-width="0.7"/>
<circle cx="554.83" cy="250.45" r="1.40" fill="none" stroke="#ff3333" stroke-width="0.7"/>
<circle cx="559.13" cy="246.74" r="1.40" fill="none" stroke="#ff3333" stroke-width="0.7"/>
<circle cx="563.44" cy="243.02" r="1.40" fill="none" stroke="#ff3333" stroke-width="0.7"/>
<circle cx="567.76" cy="239.28" r="1.40" fill="none" stroke="#ff3333" stroke-width="0.7"/>
<circle cx="572.10" cy="235.53" r="1.40" fill="none" stroke="#ff3333" stroke-width="0.7"/>
<circle cx="576.46" cy="231.77" r="1.40" fill="none" stroke="#ff3333" stroke-width="0.7"/>
<circle cx="580.82" cy="228.00" r="1.40" fill="none" stroke="#ff3333" stroke-width="0.7"/>
<polyline points="370.70,385.10 371.93,384.94 373.16,384.78 374.39,384.62 375.62,384.46 376.85,384.30 378.08,384.14 379.31,383.98 380.54,383.82 381.77,383.66 383.00,383.50 384.26,383.29 385.52,383.08 386.78,382.87 388.04,382.66 389.30,382.45 390.56,382.24 391.82,382.03 393.08,381.82 394.34,381.61" fill="none" stroke="#ff3333" stroke-width="2.6" stroke-linejoin="round" opacity="1"/>
<rect x="345.2" y="223.7" width="249.6" height="176.5" fill="none" stroke="#222" stroke-width="1.6"/>
<line x1="519.5" x2="540.6" y1="335.2" y2="335.2" stroke="#9944bb" stroke-width="0.9"/>
<rect x="527.5" y="333.0" width="5.2" height="4.4" fill="#fff"/>
<rect x="528.35" y="333.45" width="3.50" height="3.50" fill="none" stroke="#aa66cc" stroke-width="0.8"/>
<text x="542.60" y="337.90" style="font-family:&quot;Liberation Sans&quot;,sans-serif;font-size:7.6px;font-weight:bold" text-anchor="start" fill="#000" class="th">250°C</text>
<line x1="519.5" x2="540.6" y1="347.8" y2="347.8" stroke="#3355ff" stroke-width="0.9"/>
<rect x="527.5" y="345.6" width="5.2" height="4.4" fill="#fff"/>
<path d="M530.10,346.05L531.85,349.20L528.35,349.20Z" fill="#1133ff"/>
<text x="542.60" y="350.50" style="font-family:&quot;Liberation Sans&quot;,sans-serif;font-size:7.6px;font-weight:bold" text-anchor="start" fill="#000" class="th">240°C</text>
<line x1="519.5" x2="540.6" y1="362.1" y2="362.1" stroke="#ff4444" stroke-width="0.9"/>
<rect x="527.5" y="359.90000000000003" width="5.2" height="4.4" fill="#fff"/>
<circle cx="530.10" cy="362.10" r="1.75" fill="none" stroke="#ff4444" stroke-width="0.8"/>
<text x="542.60" y="364.80" style="font-family:&quot;Liberation Sans&quot;,sans-serif;font-size:7.6px;font-weight:bold" text-anchor="start" fill="#000" class="th">230°C</text>
</svg></body></html>
